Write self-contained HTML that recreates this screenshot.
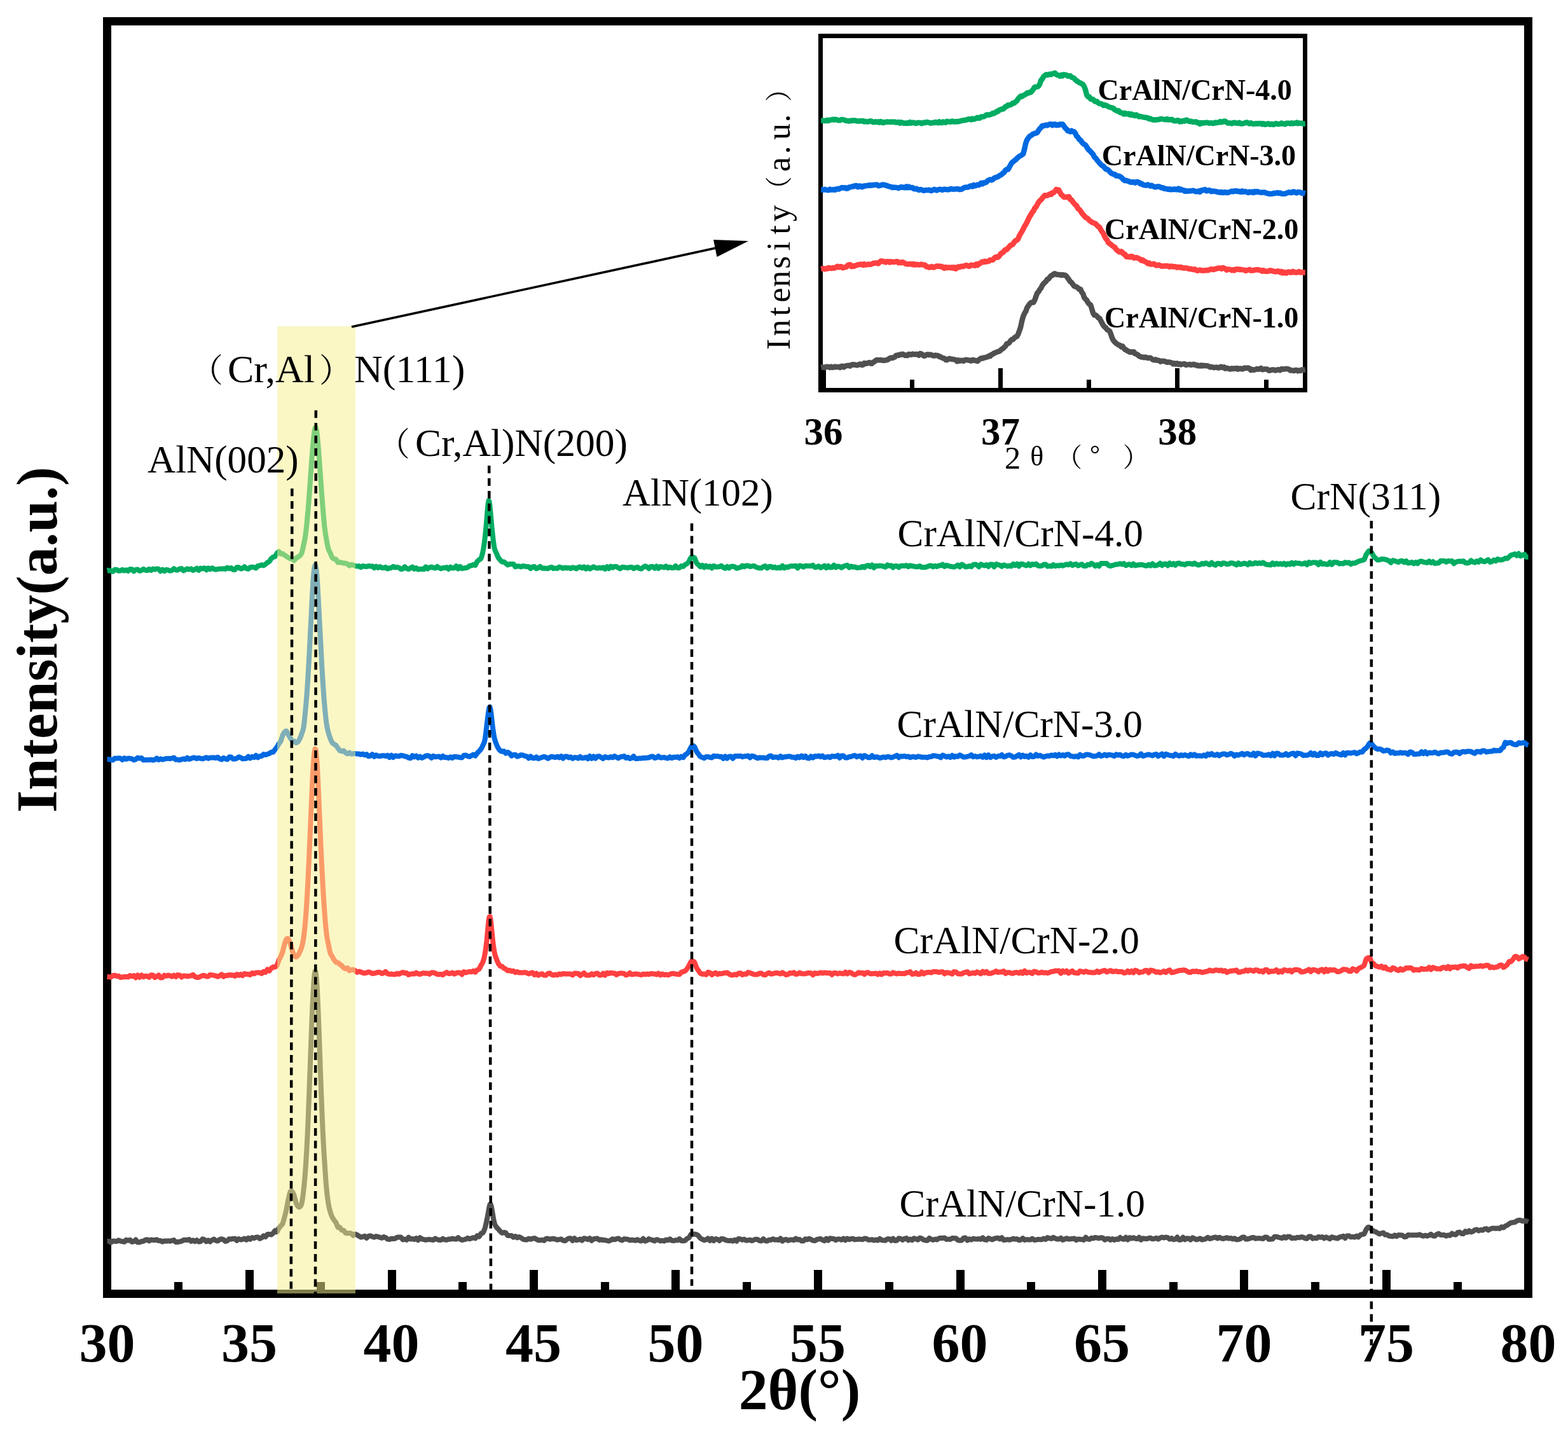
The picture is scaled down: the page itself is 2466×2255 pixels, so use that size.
<!DOCTYPE html>
<html lang="en"><head><meta charset="utf-8"><title>XRD patterns of CrAlN/CrN coatings</title>
<style>html,body{margin:0;padding:0;background:#fff}body{width:2466px;height:2255px;overflow:hidden}svg{display:block}</style>
</head><body>
<svg width="2466" height="2255" viewBox="0 0 2466 2255" role="img" aria-label="XRD patterns of CrAlN/CrN coatings">
<rect x="0" y="0" width="2466" height="2255" fill="#fff"/>
<g id="main-axes" fill="#000" stroke="none">
<path d="M162,27H2410V2041H162Z M175,40V2028H2397V40Z" fill-rule="evenodd"/>
<rect x="386" y="1997" width="13" height="32"/>
<rect x="610" y="1997" width="13" height="32"/>
<rect x="833" y="1997" width="13" height="32"/>
<rect x="1056" y="1997" width="13" height="32"/>
<rect x="1280" y="1997" width="13" height="32"/>
<rect x="1504" y="1997" width="13" height="32"/>
<rect x="1727" y="1997" width="13" height="32"/>
<rect x="1950" y="1997" width="13" height="32"/>
<rect x="2174" y="1997" width="13" height="32"/>
<rect x="274" y="2016" width="13" height="13"/>
<rect x="498" y="2016" width="13" height="13"/>
<rect x="721" y="2016" width="13" height="13"/>
<rect x="945" y="2016" width="13" height="13"/>
<rect x="1168" y="2016" width="13" height="13"/>
<rect x="1392" y="2016" width="13" height="13"/>
<rect x="1615" y="2016" width="13" height="13"/>
<rect x="1839" y="2016" width="13" height="13"/>
<rect x="2062" y="2016" width="13" height="13"/>
<rect x="2286" y="2016" width="13" height="13"/>
</g>
<g id="main-curves" fill="none" stroke-width="8" stroke-linejoin="round" stroke-linecap="butt">
<path d="M168.5,1951.8 169.5,1951.8 170.5,1951.8 171.5,1951.9 172.5,1952.4 173.5,1953.1 174.5,1953.6 175.5,1952.9 176.5,1952.3 177.5,1951.6 178.5,1951.6 179.5,1951.7 180.5,1951.8 181.5,1951.9 182.5,1952.0 183.5,1952.1 184.5,1951.5 185.5,1950.9 186.5,1950.3 187.5,1950.8 188.5,1951.2 189.5,1951.7 190.5,1951.9 191.5,1952.1 192.5,1952.2 193.5,1952.5 194.5,1952.7 195.5,1952.9 196.5,1951.9 197.5,1950.9 198.5,1949.8 199.5,1950.1 200.5,1950.4 201.5,1950.7 202.5,1950.4 203.5,1950.1 204.5,1949.8 205.5,1950.8 206.5,1951.9 207.5,1952.9 208.5,1952.7 209.5,1952.6 210.5,1952.4 211.5,1951.4 212.5,1950.5 213.5,1949.5 214.5,1950.9 215.5,1952.2 216.5,1953.6 217.5,1953.6 218.5,1953.6 219.5,1953.5 220.5,1953.1 221.5,1952.6 222.5,1952.1 223.5,1952.1 224.5,1952.0 225.5,1951.9 226.5,1951.3 227.5,1950.6 228.5,1949.9 229.5,1949.7 230.5,1949.5 231.5,1949.3 232.5,1950.0 233.5,1950.8 234.5,1951.5 235.5,1950.8 236.5,1950.1 237.5,1949.4 238.5,1949.6 239.5,1949.8 240.5,1950.0 241.5,1950.0 242.5,1950.1 243.5,1950.2 244.5,1949.9 245.5,1949.5 246.5,1949.2 247.5,1949.9 248.5,1950.5 249.5,1951.1 250.5,1951.1 251.5,1951.0 252.5,1951.0 253.5,1951.6 254.5,1952.2 255.5,1952.7 256.5,1952.3 257.5,1951.8 258.5,1951.3 259.5,1951.5 260.5,1951.6 261.5,1951.8 262.5,1951.6 263.5,1951.4 264.5,1951.2 265.5,1951.4 266.5,1951.6 267.5,1951.8 268.5,1951.5 269.5,1951.2 270.5,1950.9 271.5,1950.6 272.5,1950.4 273.5,1950.1 274.5,1951.2 275.5,1952.2 276.5,1953.2 277.5,1953.2 278.5,1953.2 279.5,1953.2 280.5,1953.0 281.5,1952.7 282.5,1952.5 283.5,1952.3 284.5,1952.1 285.5,1951.9 286.5,1951.3 287.5,1950.7 288.5,1950.1 289.5,1950.0 290.5,1949.9 291.5,1949.7 292.5,1949.8 293.5,1949.9 294.5,1950.0 295.5,1949.6 296.5,1949.3 297.5,1949.0 298.5,1950.0 299.5,1951.0 300.5,1952.0 301.5,1951.5 302.5,1950.9 303.5,1950.4 304.5,1951.0 305.5,1951.6 306.5,1952.3 307.5,1951.6 308.5,1950.9 309.5,1950.2 310.5,1951.1 311.5,1951.9 312.5,1952.7 313.5,1952.5 314.5,1952.4 315.5,1952.2 316.5,1950.9 317.5,1949.7 318.5,1948.4 319.5,1948.7 320.5,1949.0 321.5,1949.3 322.5,1950.3 323.5,1951.3 324.5,1952.3 325.5,1951.7 326.5,1951.0 327.5,1950.4 328.5,1951.1 329.5,1951.8 330.5,1952.6 331.5,1951.7 332.5,1950.8 333.5,1950.0 334.5,1949.5 335.5,1949.0 336.5,1948.5 337.5,1949.3 338.5,1950.1 339.5,1950.9 340.5,1951.1 341.5,1951.3 342.5,1951.5 343.5,1950.7 344.5,1950.0 345.5,1949.2 346.5,1948.9 347.5,1948.6 348.5,1948.3 349.5,1948.7 350.5,1949.0 351.5,1949.3 352.5,1950.2 353.5,1951.2 354.5,1952.1 355.5,1951.7 356.5,1951.4 357.5,1951.1 358.5,1950.1 359.5,1949.2 360.5,1948.2 361.5,1948.4 362.5,1948.5 363.5,1948.7 364.5,1948.4 365.5,1948.2 366.5,1947.9 367.5,1947.9 368.5,1947.8 369.5,1947.7 370.5,1948.7 371.5,1949.8 372.5,1950.8 373.5,1949.9 374.5,1948.9 375.5,1948.0 376.5,1948.5 377.5,1949.0 378.5,1949.5 379.5,1949.3 380.5,1949.1 381.5,1948.9 382.5,1948.4 383.5,1948.0 384.5,1947.5 385.5,1948.3 386.5,1949.0 387.5,1949.7 388.5,1948.8 389.5,1947.8 390.5,1946.8 391.5,1947.5 392.5,1948.1 393.5,1948.8 394.5,1947.9 395.5,1947.0 396.5,1946.1 397.5,1946.5 398.5,1946.8 399.5,1947.1 400.5,1946.6 401.5,1946.2 402.5,1945.7 403.5,1945.6 404.5,1945.5 405.5,1945.4 406.5,1946.2 407.5,1947.0 408.5,1947.8 409.5,1947.4 410.5,1946.9 411.5,1946.4 412.5,1945.4 413.5,1944.4 414.5,1943.4 415.5,1943.9 416.5,1944.5 417.5,1945.0 418.5,1943.7 419.5,1942.4 420.5,1941.1 421.5,1941.0 422.5,1940.9 423.5,1940.8 424.5,1941.1 425.5,1941.3 426.5,1941.6 427.5,1940.8 428.5,1940.0 429.5,1939.3 430.5,1938.0 431.5,1936.6 432.5,1935.3 433.5,1936.0 434.5,1936.7 435.5,1937.3 436.5,1935.4 437.5,1933.4 438.5,1931.3 439.5,1930.3 440.5,1929.2 441.5,1927.8 442.5,1926.9 443.5,1925.8 444.5,1924.3 445.5,1921.1 446.5,1917.6 447.5,1913.7 448.5,1910.0 449.5,1905.9 450.5,1901.4 451.5,1896.4 452.5,1891.3 453.5,1886.1 454.5,1881.6 455.5,1877.5 456.5,1874.3 457.5,1872.9 458.5,1872.8 459.5,1874.0 460.5,1875.1 461.5,1877.2 462.5,1879.8 463.5,1883.6 464.5,1887.5 465.5,1891.2 466.5,1893.6 467.5,1895.5 468.5,1896.8 469.5,1897.9 470.5,1898.2 471.5,1897.8 472.5,1897.0 473.5,1895.3 474.5,1892.5 475.5,1887.0 476.5,1880.0 477.5,1871.6 478.5,1862.3 479.5,1851.1 480.5,1837.9 481.5,1822.8 482.5,1805.6 483.5,1786.1 484.5,1763.2 485.5,1738.2 486.5,1711.7 487.5,1684.8 488.5,1657.3 489.5,1629.8 490.5,1604.5 491.5,1581.1 492.5,1560.9 493.5,1543.9 494.5,1532.5 495.5,1527.4 496.5,1528.4 497.5,1535.9 498.5,1549.4 499.5,1568.6 500.5,1591.4 501.5,1616.8 502.5,1644.5 503.5,1672.7 504.5,1700.5 505.5,1726.8 506.5,1751.7 507.5,1774.9 508.5,1794.7 509.5,1812.4 510.5,1828.0 511.5,1843.7 512.5,1857.5 513.5,1869.5 514.5,1878.7 515.5,1886.4 516.5,1893.0 517.5,1898.1 518.5,1902.4 519.5,1906.0 520.5,1909.1 521.5,1911.7 522.5,1914.0 523.5,1915.7 524.5,1917.2 525.5,1918.6 526.5,1920.1 527.5,1921.4 528.5,1922.7 529.5,1925.3 530.5,1927.9 531.5,1930.3 532.5,1930.3 533.5,1930.2 534.5,1930.1 535.5,1931.6 536.5,1933.1 537.5,1934.6 538.5,1934.6 539.5,1934.7 540.5,1934.7 541.5,1936.1 542.5,1937.5 543.5,1938.9 544.5,1939.0 545.5,1939.2 546.5,1939.3 547.5,1939.3 548.5,1939.2 549.5,1939.1 550.5,1939.3 551.5,1939.4 552.5,1939.6 553.5,1940.7 554.5,1941.7 555.5,1942.8 556.5,1942.0 557.5,1941.3 558.5,1940.5 559.5,1941.0 560.5,1941.4 561.5,1941.8 562.5,1942.5 563.5,1943.1 564.5,1943.8 565.5,1944.4 566.5,1944.9 567.5,1945.5 568.5,1945.3 569.5,1945.1 570.5,1944.8 571.5,1944.5 572.5,1944.1 573.5,1943.7 574.5,1944.7 575.5,1945.8 576.5,1946.8 577.5,1945.8 578.5,1944.9 579.5,1943.9 580.5,1943.7 581.5,1943.5 582.5,1943.3 583.5,1943.8 584.5,1944.2 585.5,1944.6 586.5,1945.0 587.5,1945.3 588.5,1945.6 589.5,1945.1 590.5,1944.6 591.5,1944.1 592.5,1944.3 593.5,1944.5 594.5,1944.8 595.5,1945.1 596.5,1945.4 597.5,1945.8 598.5,1946.1 599.5,1946.5 600.5,1946.8 601.5,1946.2 602.5,1945.6 603.5,1945.0 604.5,1945.4 605.5,1945.8 606.5,1946.1 607.5,1947.0 608.5,1947.8 609.5,1948.6 610.5,1948.7 611.5,1948.9 612.5,1949.1 613.5,1948.6 614.5,1948.2 615.5,1947.8 616.5,1947.8 617.5,1947.9 618.5,1948.0 619.5,1947.9 620.5,1947.8 621.5,1947.6 622.5,1947.0 623.5,1946.4 624.5,1945.8 625.5,1945.6 626.5,1945.5 627.5,1945.4 628.5,1945.4 629.5,1945.4 630.5,1945.4 631.5,1946.7 632.5,1948.1 633.5,1949.4 634.5,1949.1 635.5,1948.8 636.5,1948.6 637.5,1949.0 638.5,1949.4 639.5,1949.8 640.5,1948.4 641.5,1947.1 642.5,1945.7 643.5,1946.6 644.5,1947.6 645.5,1948.5 646.5,1948.3 647.5,1948.1 648.5,1947.9 649.5,1948.3 650.5,1948.6 651.5,1949.0 652.5,1948.4 653.5,1947.8 654.5,1947.2 655.5,1948.2 656.5,1949.2 657.5,1950.2 658.5,1948.9 659.5,1947.6 660.5,1946.2 661.5,1946.9 662.5,1947.6 663.5,1948.3 664.5,1948.6 665.5,1948.9 666.5,1949.2 667.5,1949.4 668.5,1949.7 669.5,1949.9 670.5,1949.7 671.5,1949.4 672.5,1949.2 673.5,1949.2 674.5,1949.1 675.5,1949.1 676.5,1949.2 677.5,1949.4 678.5,1949.5 679.5,1949.7 680.5,1949.9 681.5,1950.0 682.5,1949.2 683.5,1948.4 684.5,1947.6 685.5,1948.1 686.5,1948.6 687.5,1949.0 688.5,1949.4 689.5,1949.7 690.5,1950.0 691.5,1950.0 692.5,1949.9 693.5,1949.9 694.5,1949.2 695.5,1948.5 696.5,1947.9 697.5,1948.4 698.5,1949.0 699.5,1949.5 700.5,1949.6 701.5,1949.7 702.5,1949.8 703.5,1949.4 704.5,1949.0 705.5,1948.5 706.5,1948.6 707.5,1948.7 708.5,1948.7 709.5,1948.4 710.5,1948.0 711.5,1947.6 712.5,1947.9 713.5,1948.2 714.5,1948.5 715.5,1948.5 716.5,1948.5 717.5,1948.6 718.5,1947.8 719.5,1947.0 720.5,1946.2 721.5,1947.0 722.5,1947.8 723.5,1948.6 724.5,1949.1 725.5,1949.5 726.5,1950.0 727.5,1949.8 728.5,1949.6 729.5,1949.4 730.5,1949.2 731.5,1948.9 732.5,1948.6 733.5,1948.1 734.5,1947.5 735.5,1946.9 736.5,1947.4 737.5,1947.8 738.5,1948.2 739.5,1947.9 740.5,1947.6 741.5,1947.2 742.5,1946.9 743.5,1946.5 744.5,1946.1 745.5,1946.5 746.5,1946.9 747.5,1947.3 748.5,1945.9 749.5,1944.5 750.5,1943.1 751.5,1943.7 752.5,1944.2 753.5,1944.7 754.5,1943.1 755.5,1941.4 756.5,1939.5 757.5,1939.4 758.5,1939.1 759.5,1938.6 760.5,1936.8 761.5,1934.5 762.5,1931.8 763.5,1928.2 764.5,1924.0 765.5,1919.0 766.5,1914.3 767.5,1908.9 768.5,1903.4 769.5,1897.8 770.5,1894.1 771.5,1893.4 772.5,1896.2 773.5,1901.1 774.5,1907.0 775.5,1913.1 776.5,1918.7 777.5,1923.4 778.5,1926.0 779.5,1927.9 780.5,1929.2 781.5,1930.6 782.5,1931.6 783.5,1932.4 784.5,1933.7 785.5,1934.9 786.5,1935.9 787.5,1937.0 788.5,1938.0 789.5,1938.9 790.5,1938.6 791.5,1938.3 792.5,1937.9 793.5,1938.2 794.5,1938.5 795.5,1938.7 796.5,1940.2 797.5,1941.6 798.5,1943.0 799.5,1942.9 800.5,1942.9 801.5,1942.9 802.5,1942.9 803.5,1942.9 804.5,1942.9 805.5,1943.8 806.5,1944.8 807.5,1945.7 808.5,1945.2 809.5,1944.7 810.5,1944.1 811.5,1944.9 812.5,1945.6 813.5,1946.4 814.5,1945.9 815.5,1945.4 816.5,1945.0 817.5,1945.5 818.5,1946.0 819.5,1946.5 820.5,1947.2 821.5,1948.0 822.5,1948.6 823.5,1948.9 824.5,1949.2 825.5,1949.5 826.5,1949.5 827.5,1949.6 828.5,1949.6 829.5,1949.0 830.5,1948.3 831.5,1947.7 832.5,1948.0 833.5,1948.4 834.5,1948.7 835.5,1948.4 836.5,1948.1 837.5,1947.7 838.5,1947.5 839.5,1947.3 840.5,1947.0 841.5,1947.6 842.5,1948.1 843.5,1948.7 844.5,1949.2 845.5,1949.7 846.5,1950.3 847.5,1950.3 848.5,1950.3 849.5,1950.4 850.5,1950.2 851.5,1950.0 852.5,1949.8 853.5,1950.2 854.5,1950.5 855.5,1950.9 856.5,1949.9 857.5,1949.0 858.5,1948.0 859.5,1947.8 860.5,1947.7 861.5,1947.6 862.5,1948.0 863.5,1948.4 864.5,1948.8 865.5,1948.6 866.5,1948.3 867.5,1948.1 868.5,1948.0 869.5,1947.9 870.5,1947.8 871.5,1948.1 872.5,1948.4 873.5,1948.7 874.5,1949.1 875.5,1949.4 876.5,1949.7 877.5,1949.5 878.5,1949.3 879.5,1949.1 880.5,1948.9 881.5,1948.6 882.5,1948.4 883.5,1949.2 884.5,1949.9 885.5,1950.7 886.5,1950.9 887.5,1951.1 888.5,1951.3 889.5,1950.6 890.5,1949.8 891.5,1949.0 892.5,1948.5 893.5,1947.9 894.5,1947.4 895.5,1947.3 896.5,1947.3 897.5,1947.2 898.5,1948.5 899.5,1949.7 900.5,1950.9 901.5,1949.7 902.5,1948.5 903.5,1947.3 904.5,1948.3 905.5,1949.3 906.5,1950.2 907.5,1950.0 908.5,1949.8 909.5,1949.6 910.5,1949.3 911.5,1948.9 912.5,1948.5 913.5,1949.2 914.5,1949.9 915.5,1950.6 916.5,1949.5 917.5,1948.4 918.5,1947.3 919.5,1947.4 920.5,1947.6 921.5,1947.8 922.5,1948.3 923.5,1948.7 924.5,1949.2 925.5,1948.6 926.5,1948.0 927.5,1947.3 928.5,1948.5 929.5,1949.7 930.5,1950.9 931.5,1950.0 932.5,1949.1 933.5,1948.3 934.5,1948.1 935.5,1948.0 936.5,1947.9 937.5,1947.7 938.5,1947.6 939.5,1947.5 940.5,1948.3 941.5,1949.2 942.5,1950.0 943.5,1949.8 944.5,1949.5 945.5,1949.2 946.5,1949.5 947.5,1949.8 948.5,1950.1 949.5,1950.1 950.5,1950.1 951.5,1950.2 952.5,1950.4 953.5,1950.6 954.5,1950.9 955.5,1951.1 956.5,1951.3 957.5,1951.5 958.5,1951.1 959.5,1950.7 960.5,1950.3 961.5,1949.6 962.5,1948.9 963.5,1948.2 964.5,1948.6 965.5,1949.0 966.5,1949.4 967.5,1949.0 968.5,1948.6 969.5,1948.1 970.5,1947.9 971.5,1947.7 972.5,1947.4 973.5,1948.1 974.5,1948.8 975.5,1949.5 976.5,1949.8 977.5,1950.2 978.5,1950.5 979.5,1949.7 980.5,1949.0 981.5,1948.2 982.5,1948.3 983.5,1948.5 984.5,1948.6 985.5,1948.7 986.5,1948.8 987.5,1948.9 988.5,1949.4 989.5,1950.0 990.5,1950.5 991.5,1950.2 992.5,1950.0 993.5,1949.7 994.5,1949.9 995.5,1950.0 996.5,1950.1 997.5,1950.3 998.5,1950.6 999.5,1950.8 1000.5,1950.2 1001.5,1949.7 1002.5,1949.2 1003.5,1949.8 1004.5,1950.3 1005.5,1950.9 1006.5,1951.1 1007.5,1951.3 1008.5,1951.4 1009.5,1950.2 1010.5,1949.0 1011.5,1947.8 1012.5,1949.1 1013.5,1950.3 1014.5,1951.6 1015.5,1951.3 1016.5,1951.0 1017.5,1950.7 1018.5,1949.8 1019.5,1948.9 1020.5,1948.0 1021.5,1948.5 1022.5,1949.0 1023.5,1949.5 1024.5,1949.7 1025.5,1950.0 1026.5,1950.2 1027.5,1950.7 1028.5,1951.1 1029.5,1951.5 1030.5,1950.7 1031.5,1949.9 1032.5,1949.2 1033.5,1949.4 1034.5,1949.7 1035.5,1950.0 1036.5,1950.5 1037.5,1950.9 1038.5,1951.4 1039.5,1951.2 1040.5,1951.1 1041.5,1951.0 1042.5,1951.2 1043.5,1951.4 1044.5,1951.6 1045.5,1950.9 1046.5,1950.2 1047.5,1949.5 1048.5,1949.8 1049.5,1950.1 1050.5,1950.3 1051.5,1949.7 1052.5,1949.0 1053.5,1948.4 1054.5,1949.1 1055.5,1949.9 1056.5,1950.6 1057.5,1950.8 1058.5,1950.9 1059.5,1951.0 1060.5,1950.8 1061.5,1950.5 1062.5,1950.2 1063.5,1950.3 1064.5,1950.4 1065.5,1950.5 1066.5,1949.7 1067.5,1949.0 1068.5,1948.2 1069.5,1949.2 1070.5,1950.2 1071.5,1951.1 1072.5,1951.2 1073.5,1951.2 1074.5,1951.3 1075.5,1951.1 1076.5,1951.0 1077.5,1950.7 1078.5,1949.8 1079.5,1948.7 1080.5,1947.6 1081.5,1947.4 1082.5,1947.0 1083.5,1946.5 1084.5,1944.9 1085.5,1943.1 1086.5,1941.3 1087.5,1941.2 1088.5,1941.1 1089.5,1941.2 1090.5,1940.7 1091.5,1940.6 1092.5,1940.8 1093.5,1940.8 1094.5,1941.0 1095.5,1941.3 1096.5,1942.0 1097.5,1942.6 1098.5,1943.3 1099.5,1944.7 1100.5,1946.0 1101.5,1947.1 1102.5,1947.8 1103.5,1948.4 1104.5,1948.8 1105.5,1949.4 1106.5,1949.9 1107.5,1950.3 1108.5,1950.0 1109.5,1949.7 1110.5,1949.3 1111.5,1948.7 1112.5,1948.1 1113.5,1947.4 1114.5,1948.6 1115.5,1949.8 1116.5,1950.9 1117.5,1949.9 1118.5,1948.8 1119.5,1947.7 1120.5,1948.8 1121.5,1949.9 1122.5,1951.0 1123.5,1950.1 1124.5,1949.2 1125.5,1948.2 1126.5,1948.5 1127.5,1948.7 1128.5,1949.0 1129.5,1949.6 1130.5,1950.3 1131.5,1951.0 1132.5,1950.0 1133.5,1949.1 1134.5,1948.1 1135.5,1948.1 1136.5,1948.2 1137.5,1948.2 1138.5,1948.7 1139.5,1949.2 1140.5,1949.8 1141.5,1950.1 1142.5,1950.4 1143.5,1950.7 1144.5,1950.9 1145.5,1951.0 1146.5,1951.2 1147.5,1951.0 1148.5,1950.8 1149.5,1950.5 1150.5,1950.9 1151.5,1951.3 1152.5,1951.7 1153.5,1951.0 1154.5,1950.3 1155.5,1949.7 1156.5,1950.3 1157.5,1951.0 1158.5,1951.7 1159.5,1950.4 1160.5,1949.1 1161.5,1947.9 1162.5,1948.1 1163.5,1948.3 1164.5,1948.5 1165.5,1948.9 1166.5,1949.3 1167.5,1949.8 1168.5,1949.4 1169.5,1949.1 1170.5,1948.7 1171.5,1949.4 1172.5,1950.0 1173.5,1950.7 1174.5,1950.5 1175.5,1950.4 1176.5,1950.3 1177.5,1950.1 1178.5,1949.9 1179.5,1949.7 1180.5,1950.2 1181.5,1950.7 1182.5,1951.2 1183.5,1950.7 1184.5,1950.3 1185.5,1949.9 1186.5,1949.5 1187.5,1949.2 1188.5,1948.8 1189.5,1948.9 1190.5,1949.0 1191.5,1949.1 1192.5,1949.8 1193.5,1950.5 1194.5,1951.1 1195.5,1951.2 1196.5,1951.3 1197.5,1951.4 1198.5,1950.3 1199.5,1949.3 1200.5,1948.3 1201.5,1949.2 1202.5,1950.2 1203.5,1951.1 1204.5,1951.3 1205.5,1951.5 1206.5,1951.6 1207.5,1951.0 1208.5,1950.3 1209.5,1949.7 1210.5,1949.7 1211.5,1949.8 1212.5,1949.9 1213.5,1949.3 1214.5,1948.8 1215.5,1948.2 1216.5,1948.7 1217.5,1949.2 1218.5,1949.7 1219.5,1949.6 1220.5,1949.6 1221.5,1949.5 1222.5,1949.7 1223.5,1949.8 1224.5,1950.0 1225.5,1949.1 1226.5,1948.3 1227.5,1947.4 1228.5,1948.8 1229.5,1950.2 1230.5,1951.6 1231.5,1950.9 1232.5,1950.2 1233.5,1949.6 1234.5,1949.4 1235.5,1949.2 1236.5,1949.0 1237.5,1949.6 1238.5,1950.2 1239.5,1950.8 1240.5,1950.4 1241.5,1950.1 1242.5,1949.7 1243.5,1949.6 1244.5,1949.5 1245.5,1949.4 1246.5,1949.7 1247.5,1950.0 1248.5,1950.3 1249.5,1949.4 1250.5,1948.4 1251.5,1947.5 1252.5,1948.2 1253.5,1948.9 1254.5,1949.6 1255.5,1949.4 1256.5,1949.2 1257.5,1949.0 1258.5,1949.8 1259.5,1950.6 1260.5,1951.4 1261.5,1951.4 1262.5,1951.3 1263.5,1951.3 1264.5,1950.3 1265.5,1949.3 1266.5,1948.4 1267.5,1948.7 1268.5,1949.0 1269.5,1949.3 1270.5,1948.8 1271.5,1948.2 1272.5,1947.7 1273.5,1948.2 1274.5,1948.6 1275.5,1949.1 1276.5,1949.6 1277.5,1950.2 1278.5,1950.7 1279.5,1950.9 1280.5,1951.0 1281.5,1951.1 1282.5,1950.5 1283.5,1949.9 1284.5,1949.2 1285.5,1949.0 1286.5,1948.8 1287.5,1948.5 1288.5,1948.3 1289.5,1948.1 1290.5,1948.0 1291.5,1948.6 1292.5,1949.2 1293.5,1949.8 1294.5,1950.3 1295.5,1950.7 1296.5,1951.2 1297.5,1950.0 1298.5,1948.8 1299.5,1947.7 1300.5,1948.6 1301.5,1949.6 1302.5,1950.5 1303.5,1949.4 1304.5,1948.3 1305.5,1947.2 1306.5,1947.4 1307.5,1947.7 1308.5,1947.9 1309.5,1948.0 1310.5,1948.0 1311.5,1948.0 1312.5,1948.7 1313.5,1949.4 1314.5,1950.1 1315.5,1949.5 1316.5,1949.0 1317.5,1948.4 1318.5,1948.5 1319.5,1948.5 1320.5,1948.6 1321.5,1949.0 1322.5,1949.4 1323.5,1949.7 1324.5,1949.0 1325.5,1948.2 1326.5,1947.5 1327.5,1948.4 1328.5,1949.3 1329.5,1950.2 1330.5,1949.3 1331.5,1948.4 1332.5,1947.5 1333.5,1948.1 1334.5,1948.7 1335.5,1949.2 1336.5,1948.8 1337.5,1948.5 1338.5,1948.1 1339.5,1948.0 1340.5,1947.9 1341.5,1947.8 1342.5,1948.3 1343.5,1948.8 1344.5,1949.3 1345.5,1949.1 1346.5,1949.0 1347.5,1948.9 1348.5,1948.8 1349.5,1948.7 1350.5,1948.6 1351.5,1948.6 1352.5,1948.7 1353.5,1948.7 1354.5,1948.9 1355.5,1949.1 1356.5,1949.2 1357.5,1948.7 1358.5,1948.1 1359.5,1947.6 1360.5,1947.7 1361.5,1947.7 1362.5,1947.8 1363.5,1948.4 1364.5,1949.0 1365.5,1949.7 1366.5,1949.7 1367.5,1949.7 1368.5,1949.7 1369.5,1949.5 1370.5,1949.4 1371.5,1949.2 1372.5,1949.7 1373.5,1950.1 1374.5,1950.6 1375.5,1950.2 1376.5,1949.9 1377.5,1949.5 1378.5,1949.9 1379.5,1950.2 1380.5,1950.6 1381.5,1949.7 1382.5,1948.8 1383.5,1947.8 1384.5,1948.6 1385.5,1949.3 1386.5,1950.1 1387.5,1950.2 1388.5,1950.3 1389.5,1950.4 1390.5,1950.5 1391.5,1950.6 1392.5,1950.8 1393.5,1949.9 1394.5,1949.0 1395.5,1948.2 1396.5,1948.2 1397.5,1948.2 1398.5,1948.2 1399.5,1949.0 1400.5,1949.9 1401.5,1950.8 1402.5,1949.8 1403.5,1948.7 1404.5,1947.7 1405.5,1948.8 1406.5,1950.0 1407.5,1951.1 1408.5,1951.0 1409.5,1950.8 1410.5,1950.6 1411.5,1949.5 1412.5,1948.4 1413.5,1947.3 1414.5,1947.5 1415.5,1947.6 1416.5,1947.8 1417.5,1948.5 1418.5,1949.2 1419.5,1949.9 1420.5,1949.2 1421.5,1948.5 1422.5,1947.8 1423.5,1947.6 1424.5,1947.3 1425.5,1947.1 1426.5,1948.2 1427.5,1949.2 1428.5,1950.3 1429.5,1949.7 1430.5,1949.1 1431.5,1948.5 1432.5,1949.0 1433.5,1949.6 1434.5,1950.1 1435.5,1949.1 1436.5,1948.2 1437.5,1947.2 1438.5,1947.6 1439.5,1948.0 1440.5,1948.4 1441.5,1948.8 1442.5,1949.2 1443.5,1949.6 1444.5,1948.6 1445.5,1947.7 1446.5,1946.7 1447.5,1946.9 1448.5,1947.2 1449.5,1947.5 1450.5,1948.2 1451.5,1948.9 1452.5,1949.6 1453.5,1949.9 1454.5,1950.2 1455.5,1950.6 1456.5,1950.6 1457.5,1950.7 1458.5,1950.8 1459.5,1949.6 1460.5,1948.3 1461.5,1947.0 1462.5,1947.6 1463.5,1948.2 1464.5,1948.7 1465.5,1949.1 1466.5,1949.5 1467.5,1949.8 1468.5,1949.5 1469.5,1949.1 1470.5,1948.7 1471.5,1949.0 1472.5,1949.2 1473.5,1949.5 1474.5,1948.8 1475.5,1948.0 1476.5,1947.3 1477.5,1947.1 1478.5,1947.0 1479.5,1946.8 1480.5,1946.8 1481.5,1946.9 1482.5,1946.9 1483.5,1946.8 1484.5,1946.7 1485.5,1946.6 1486.5,1947.4 1487.5,1948.1 1488.5,1948.9 1489.5,1948.8 1490.5,1948.7 1491.5,1948.7 1492.5,1948.8 1493.5,1948.8 1494.5,1948.9 1495.5,1948.3 1496.5,1947.7 1497.5,1947.0 1498.5,1947.1 1499.5,1947.1 1500.5,1947.2 1501.5,1947.2 1502.5,1947.2 1503.5,1947.3 1504.5,1948.2 1505.5,1949.1 1506.5,1950.1 1507.5,1950.3 1508.5,1950.5 1509.5,1950.7 1510.5,1950.6 1511.5,1950.5 1512.5,1950.4 1513.5,1949.2 1514.5,1948.0 1515.5,1946.7 1516.5,1946.7 1517.5,1946.6 1518.5,1946.6 1519.5,1947.9 1520.5,1949.2 1521.5,1950.5 1522.5,1949.8 1523.5,1949.0 1524.5,1948.3 1525.5,1948.8 1526.5,1949.2 1527.5,1949.6 1528.5,1949.0 1529.5,1948.4 1530.5,1947.7 1531.5,1947.9 1532.5,1948.1 1533.5,1948.3 1534.5,1948.4 1535.5,1948.4 1536.5,1948.5 1537.5,1948.4 1538.5,1948.3 1539.5,1948.1 1540.5,1948.4 1541.5,1948.6 1542.5,1948.9 1543.5,1948.0 1544.5,1947.1 1545.5,1946.3 1546.5,1947.3 1547.5,1948.3 1548.5,1949.3 1549.5,1949.5 1550.5,1949.7 1551.5,1949.9 1552.5,1948.9 1553.5,1948.0 1554.5,1947.0 1555.5,1947.4 1556.5,1947.8 1557.5,1948.2 1558.5,1948.6 1559.5,1949.0 1560.5,1949.4 1561.5,1948.9 1562.5,1948.4 1563.5,1947.9 1564.5,1947.6 1565.5,1947.3 1566.5,1947.0 1567.5,1946.9 1568.5,1946.9 1569.5,1946.8 1570.5,1947.4 1571.5,1947.9 1572.5,1948.4 1573.5,1947.6 1574.5,1946.9 1575.5,1946.2 1576.5,1947.5 1577.5,1948.7 1578.5,1950.0 1579.5,1949.9 1580.5,1949.7 1581.5,1949.6 1582.5,1949.5 1583.5,1949.3 1584.5,1949.2 1585.5,1949.4 1586.5,1949.6 1587.5,1949.8 1588.5,1949.5 1589.5,1949.2 1590.5,1948.8 1591.5,1948.5 1592.5,1948.1 1593.5,1947.8 1594.5,1948.1 1595.5,1948.4 1596.5,1948.7 1597.5,1948.5 1598.5,1948.4 1599.5,1948.2 1600.5,1948.9 1601.5,1949.6 1602.5,1950.3 1603.5,1950.1 1604.5,1949.8 1605.5,1949.5 1606.5,1948.7 1607.5,1947.9 1608.5,1947.1 1609.5,1948.1 1610.5,1949.0 1611.5,1950.0 1612.5,1949.7 1613.5,1949.5 1614.5,1949.2 1615.5,1949.3 1616.5,1949.3 1617.5,1949.4 1618.5,1949.4 1619.5,1949.5 1620.5,1949.5 1621.5,1948.9 1622.5,1948.3 1623.5,1947.7 1624.5,1948.4 1625.5,1949.1 1626.5,1949.9 1627.5,1949.8 1628.5,1949.8 1629.5,1949.8 1630.5,1949.5 1631.5,1949.2 1632.5,1948.9 1633.5,1949.0 1634.5,1949.1 1635.5,1949.2 1636.5,1949.2 1637.5,1949.2 1638.5,1949.2 1639.5,1948.7 1640.5,1948.2 1641.5,1947.6 1642.5,1948.1 1643.5,1948.6 1644.5,1949.0 1645.5,1948.1 1646.5,1947.1 1647.5,1946.1 1648.5,1946.5 1649.5,1946.9 1650.5,1947.3 1651.5,1947.5 1652.5,1947.7 1653.5,1947.9 1654.5,1947.2 1655.5,1946.5 1656.5,1945.8 1657.5,1946.3 1658.5,1946.8 1659.5,1947.3 1660.5,1947.8 1661.5,1948.2 1662.5,1948.6 1663.5,1948.6 1664.5,1948.5 1665.5,1948.5 1666.5,1947.9 1667.5,1947.4 1668.5,1946.8 1669.5,1947.8 1670.5,1948.9 1671.5,1949.9 1672.5,1949.5 1673.5,1949.1 1674.5,1948.7 1675.5,1948.2 1676.5,1947.7 1677.5,1947.2 1678.5,1947.7 1679.5,1948.2 1680.5,1948.6 1681.5,1948.5 1682.5,1948.4 1683.5,1948.2 1684.5,1948.2 1685.5,1948.1 1686.5,1948.1 1687.5,1947.9 1688.5,1947.6 1689.5,1947.4 1690.5,1948.3 1691.5,1949.2 1692.5,1950.1 1693.5,1949.6 1694.5,1949.1 1695.5,1948.5 1696.5,1948.6 1697.5,1948.7 1698.5,1948.8 1699.5,1948.9 1700.5,1949.0 1701.5,1949.0 1702.5,1949.4 1703.5,1949.7 1704.5,1950.0 1705.5,1948.6 1706.5,1947.2 1707.5,1945.8 1708.5,1946.6 1709.5,1947.5 1710.5,1948.4 1711.5,1948.6 1712.5,1948.7 1713.5,1948.9 1714.5,1948.2 1715.5,1947.5 1716.5,1946.8 1717.5,1947.0 1718.5,1947.2 1719.5,1947.4 1720.5,1946.9 1721.5,1946.4 1722.5,1945.9 1723.5,1946.1 1724.5,1946.3 1725.5,1946.5 1726.5,1946.8 1727.5,1947.0 1728.5,1947.3 1729.5,1946.9 1730.5,1946.5 1731.5,1946.1 1732.5,1946.3 1733.5,1946.5 1734.5,1946.7 1735.5,1947.7 1736.5,1948.6 1737.5,1949.6 1738.5,1949.1 1739.5,1948.6 1740.5,1948.0 1741.5,1948.0 1742.5,1947.9 1743.5,1947.8 1744.5,1948.5 1745.5,1949.2 1746.5,1949.9 1747.5,1949.3 1748.5,1948.7 1749.5,1948.1 1750.5,1948.7 1751.5,1949.3 1752.5,1950.0 1753.5,1949.4 1754.5,1948.9 1755.5,1948.4 1756.5,1948.6 1757.5,1948.9 1758.5,1949.1 1759.5,1948.1 1760.5,1947.0 1761.5,1945.9 1762.5,1946.7 1763.5,1947.4 1764.5,1948.2 1765.5,1948.4 1766.5,1948.7 1767.5,1948.9 1768.5,1947.8 1769.5,1946.8 1770.5,1945.7 1771.5,1947.0 1772.5,1948.3 1773.5,1949.6 1774.5,1948.5 1775.5,1947.4 1776.5,1946.2 1777.5,1946.7 1778.5,1947.2 1779.5,1947.6 1780.5,1947.2 1781.5,1946.7 1782.5,1946.3 1783.5,1946.7 1784.5,1947.2 1785.5,1947.7 1786.5,1947.9 1787.5,1948.0 1788.5,1948.2 1789.5,1947.4 1790.5,1946.6 1791.5,1945.8 1792.5,1947.1 1793.5,1948.4 1794.5,1949.7 1795.5,1948.9 1796.5,1948.1 1797.5,1947.3 1798.5,1947.5 1799.5,1947.7 1800.5,1947.8 1801.5,1947.9 1802.5,1948.0 1803.5,1948.1 1804.5,1947.8 1805.5,1947.4 1806.5,1947.1 1807.5,1947.0 1808.5,1946.8 1809.5,1946.7 1810.5,1947.3 1811.5,1947.8 1812.5,1948.3 1813.5,1948.2 1814.5,1948.1 1815.5,1947.9 1816.5,1947.5 1817.5,1947.1 1818.5,1946.7 1819.5,1947.3 1820.5,1948.0 1821.5,1948.6 1822.5,1948.0 1823.5,1947.4 1824.5,1946.7 1825.5,1946.3 1826.5,1945.9 1827.5,1945.5 1828.5,1945.8 1829.5,1946.2 1830.5,1946.5 1831.5,1946.2 1832.5,1945.9 1833.5,1945.6 1834.5,1945.8 1835.5,1945.9 1836.5,1946.1 1837.5,1947.0 1838.5,1947.9 1839.5,1948.7 1840.5,1948.2 1841.5,1947.7 1842.5,1947.1 1843.5,1947.9 1844.5,1948.6 1845.5,1949.3 1846.5,1949.1 1847.5,1948.9 1848.5,1948.7 1849.5,1947.7 1850.5,1946.6 1851.5,1945.6 1852.5,1947.0 1853.5,1948.4 1854.5,1949.7 1855.5,1949.7 1856.5,1949.6 1857.5,1949.5 1858.5,1948.2 1859.5,1947.0 1860.5,1945.7 1861.5,1946.9 1862.5,1948.1 1863.5,1949.3 1864.5,1948.6 1865.5,1947.9 1866.5,1947.2 1867.5,1947.3 1868.5,1947.4 1869.5,1947.4 1870.5,1948.2 1871.5,1948.9 1872.5,1949.6 1873.5,1948.5 1874.5,1947.5 1875.5,1946.4 1876.5,1946.8 1877.5,1947.2 1878.5,1947.6 1879.5,1948.2 1880.5,1948.8 1881.5,1949.4 1882.5,1949.1 1883.5,1948.8 1884.5,1948.5 1885.5,1948.1 1886.5,1947.7 1887.5,1947.4 1888.5,1948.1 1889.5,1948.9 1890.5,1949.6 1891.5,1949.4 1892.5,1949.1 1893.5,1948.9 1894.5,1948.6 1895.5,1948.3 1896.5,1947.9 1897.5,1947.2 1898.5,1946.5 1899.5,1945.8 1900.5,1946.5 1901.5,1947.3 1902.5,1948.0 1903.5,1947.8 1904.5,1947.5 1905.5,1947.2 1906.5,1946.9 1907.5,1946.5 1908.5,1946.1 1909.5,1945.9 1910.5,1945.7 1911.5,1945.4 1912.5,1946.1 1913.5,1946.8 1914.5,1947.5 1915.5,1946.9 1916.5,1946.3 1917.5,1945.7 1918.5,1946.2 1919.5,1946.6 1920.5,1947.1 1921.5,1947.4 1922.5,1947.7 1923.5,1948.0 1924.5,1947.7 1925.5,1947.4 1926.5,1947.1 1927.5,1946.8 1928.5,1946.5 1929.5,1946.2 1930.5,1946.7 1931.5,1947.1 1932.5,1947.6 1933.5,1947.4 1934.5,1947.1 1935.5,1946.9 1936.5,1947.4 1937.5,1947.9 1938.5,1948.4 1939.5,1948.0 1940.5,1947.7 1941.5,1947.3 1942.5,1948.0 1943.5,1948.7 1944.5,1949.3 1945.5,1949.3 1946.5,1949.2 1947.5,1949.1 1948.5,1948.8 1949.5,1948.5 1950.5,1948.1 1951.5,1947.4 1952.5,1946.7 1953.5,1945.9 1954.5,1945.7 1955.5,1945.5 1956.5,1945.4 1957.5,1946.5 1958.5,1947.6 1959.5,1948.8 1960.5,1948.6 1961.5,1948.4 1962.5,1948.3 1963.5,1948.0 1964.5,1947.8 1965.5,1947.5 1966.5,1947.1 1967.5,1946.7 1968.5,1946.3 1969.5,1946.2 1970.5,1946.1 1971.5,1945.9 1972.5,1946.5 1973.5,1947.1 1974.5,1947.7 1975.5,1947.5 1976.5,1947.4 1977.5,1947.2 1978.5,1947.2 1979.5,1947.2 1980.5,1947.3 1981.5,1947.3 1982.5,1947.4 1983.5,1947.4 1984.5,1947.6 1985.5,1947.8 1986.5,1947.9 1987.5,1947.1 1988.5,1946.3 1989.5,1945.4 1990.5,1945.5 1991.5,1945.6 1992.5,1945.7 1993.5,1946.7 1994.5,1947.8 1995.5,1948.9 1996.5,1948.8 1997.5,1948.7 1998.5,1948.6 1999.5,1948.5 2000.5,1948.4 2001.5,1948.4 2002.5,1947.1 2003.5,1945.9 2004.5,1944.7 2005.5,1944.7 2006.5,1944.7 2007.5,1944.7 2008.5,1945.0 2009.5,1945.3 2010.5,1945.6 2011.5,1945.9 2012.5,1946.1 2013.5,1946.3 2014.5,1946.6 2015.5,1946.9 2016.5,1947.1 2017.5,1946.4 2018.5,1945.6 2019.5,1944.8 2020.5,1945.5 2021.5,1946.1 2022.5,1946.7 2023.5,1946.0 2024.5,1945.3 2025.5,1944.6 2026.5,1944.7 2027.5,1944.7 2028.5,1944.7 2029.5,1945.5 2030.5,1946.4 2031.5,1947.3 2032.5,1947.1 2033.5,1946.9 2034.5,1946.7 2035.5,1946.8 2036.5,1946.9 2037.5,1947.0 2038.5,1946.6 2039.5,1946.2 2040.5,1945.8 2041.5,1946.0 2042.5,1946.1 2043.5,1946.3 2044.5,1945.9 2045.5,1945.5 2046.5,1945.1 2047.5,1945.3 2048.5,1945.5 2049.5,1945.6 2050.5,1946.2 2051.5,1946.8 2052.5,1947.4 2053.5,1947.5 2054.5,1947.6 2055.5,1947.8 2056.5,1946.6 2057.5,1945.5 2058.5,1944.4 2059.5,1944.4 2060.5,1944.5 2061.5,1944.6 2062.5,1945.6 2063.5,1946.6 2064.5,1947.6 2065.5,1947.3 2066.5,1947.0 2067.5,1946.7 2068.5,1946.9 2069.5,1947.1 2070.5,1947.3 2071.5,1946.5 2072.5,1945.7 2073.5,1944.9 2074.5,1945.2 2075.5,1945.5 2076.5,1945.8 2077.5,1945.5 2078.5,1945.3 2079.5,1945.0 2080.5,1945.8 2081.5,1946.6 2082.5,1947.4 2083.5,1946.8 2084.5,1946.1 2085.5,1945.4 2086.5,1945.9 2087.5,1946.3 2088.5,1946.7 2089.5,1947.1 2090.5,1947.6 2091.5,1948.1 2092.5,1947.1 2093.5,1946.1 2094.5,1945.2 2095.5,1945.5 2096.5,1945.8 2097.5,1946.1 2098.5,1946.4 2099.5,1946.7 2100.5,1946.9 2101.5,1947.2 2102.5,1947.4 2103.5,1947.6 2104.5,1946.9 2105.5,1946.1 2106.5,1945.4 2107.5,1945.2 2108.5,1945.1 2109.5,1945.0 2110.5,1944.6 2111.5,1944.1 2112.5,1943.7 2113.5,1944.8 2114.5,1945.9 2115.5,1947.0 2116.5,1945.8 2117.5,1944.6 2118.5,1943.4 2119.5,1943.4 2120.5,1943.4 2121.5,1943.3 2122.5,1944.0 2123.5,1944.7 2124.5,1945.3 2125.5,1945.1 2126.5,1945.0 2127.5,1944.8 2128.5,1945.0 2129.5,1945.3 2130.5,1945.5 2131.5,1944.9 2132.5,1944.2 2133.5,1943.6 2134.5,1944.2 2135.5,1944.8 2136.5,1945.3 2137.5,1944.1 2138.5,1942.9 2139.5,1941.7 2140.5,1941.6 2141.5,1941.4 2142.5,1941.0 2143.5,1941.0 2144.5,1940.8 2145.5,1940.4 2146.5,1938.3 2147.5,1935.9 2148.5,1933.5 2149.5,1932.2 2150.5,1930.9 2151.5,1929.9 2152.5,1929.7 2153.5,1930.0 2154.5,1930.9 2155.5,1931.7 2156.5,1932.8 2157.5,1934.0 2158.5,1934.7 2159.5,1935.3 2160.5,1935.7 2161.5,1936.3 2162.5,1936.8 2163.5,1937.0 2164.5,1937.7 2165.5,1938.3 2166.5,1938.7 2167.5,1939.4 2168.5,1940.0 2169.5,1940.6 2170.5,1940.2 2171.5,1939.7 2172.5,1939.3 2173.5,1939.1 2174.5,1938.8 2175.5,1938.6 2176.5,1939.6 2177.5,1940.6 2178.5,1941.7 2179.5,1941.6 2180.5,1941.6 2181.5,1941.5 2182.5,1942.2 2183.5,1942.9 2184.5,1943.6 2185.5,1943.7 2186.5,1943.9 2187.5,1944.1 2188.5,1944.1 2189.5,1944.2 2190.5,1944.3 2191.5,1943.7 2192.5,1943.1 2193.5,1942.4 2194.5,1943.0 2195.5,1943.6 2196.5,1944.2 2197.5,1943.5 2198.5,1942.8 2199.5,1942.1 2200.5,1942.2 2201.5,1942.2 2202.5,1942.2 2203.5,1942.4 2204.5,1942.5 2205.5,1942.6 2206.5,1943.4 2207.5,1944.2 2208.5,1945.0 2209.5,1944.9 2210.5,1944.8 2211.5,1944.7 2212.5,1943.8 2213.5,1942.8 2214.5,1941.9 2215.5,1942.0 2216.5,1942.2 2217.5,1942.3 2218.5,1942.3 2219.5,1942.3 2220.5,1942.3 2221.5,1942.2 2222.5,1942.2 2223.5,1942.2 2224.5,1942.2 2225.5,1942.3 2226.5,1942.3 2227.5,1942.3 2228.5,1942.2 2229.5,1942.2 2230.5,1941.9 2231.5,1941.6 2232.5,1941.3 2233.5,1941.8 2234.5,1942.3 2235.5,1942.8 2236.5,1943.2 2237.5,1943.5 2238.5,1943.8 2239.5,1943.4 2240.5,1943.0 2241.5,1942.6 2242.5,1943.0 2243.5,1943.4 2244.5,1943.8 2245.5,1943.4 2246.5,1943.0 2247.5,1942.6 2248.5,1942.0 2249.5,1941.4 2250.5,1940.8 2251.5,1941.6 2252.5,1942.5 2253.5,1943.3 2254.5,1943.5 2255.5,1943.6 2256.5,1943.8 2257.5,1942.9 2258.5,1942.0 2259.5,1941.1 2260.5,1940.7 2261.5,1940.3 2262.5,1939.9 2263.5,1940.6 2264.5,1941.3 2265.5,1942.0 2266.5,1942.0 2267.5,1942.0 2268.5,1942.0 2269.5,1942.0 2270.5,1942.0 2271.5,1942.0 2272.5,1942.6 2273.5,1943.2 2274.5,1943.7 2275.5,1943.2 2276.5,1942.8 2277.5,1942.3 2278.5,1942.5 2279.5,1942.7 2280.5,1942.9 2281.5,1941.8 2282.5,1940.7 2283.5,1939.6 2284.5,1940.2 2285.5,1940.7 2286.5,1941.2 2287.5,1941.4 2288.5,1941.6 2289.5,1941.8 2290.5,1940.6 2291.5,1939.4 2292.5,1938.1 2293.5,1938.0 2294.5,1937.8 2295.5,1937.6 2296.5,1938.4 2297.5,1939.2 2298.5,1940.0 2299.5,1940.0 2300.5,1940.1 2301.5,1940.2 2302.5,1938.8 2303.5,1937.4 2304.5,1936.1 2305.5,1936.7 2306.5,1937.3 2307.5,1937.9 2308.5,1937.1 2309.5,1936.2 2310.5,1935.3 2311.5,1936.0 2312.5,1936.7 2313.5,1937.4 2314.5,1937.1 2315.5,1936.8 2316.5,1936.4 2317.5,1935.7 2318.5,1934.9 2319.5,1934.1 2320.5,1933.9 2321.5,1933.7 2322.5,1933.5 2323.5,1934.1 2324.5,1934.8 2325.5,1935.5 2326.5,1935.0 2327.5,1934.5 2328.5,1934.0 2329.5,1934.2 2330.5,1934.5 2331.5,1934.7 2332.5,1934.0 2333.5,1933.4 2334.5,1932.7 2335.5,1932.5 2336.5,1932.3 2337.5,1932.1 2338.5,1932.9 2339.5,1933.7 2340.5,1934.5 2341.5,1933.9 2342.5,1933.4 2343.5,1932.8 2344.5,1932.4 2345.5,1932.0 2346.5,1931.6 2347.5,1931.6 2348.5,1931.5 2349.5,1931.5 2350.5,1931.6 2351.5,1931.7 2352.5,1931.9 2353.5,1931.7 2354.5,1931.6 2355.5,1931.5 2356.5,1931.6 2357.5,1931.8 2358.5,1932.0 2359.5,1931.1 2360.5,1930.3 2361.5,1929.4 2362.5,1929.9 2363.5,1930.4 2364.5,1930.6 2365.5,1929.7 2366.5,1928.8 2367.5,1927.9 2368.5,1927.5 2369.5,1927.1 2370.5,1926.7 2371.5,1926.0 2372.5,1925.2 2373.5,1924.5 2374.5,1923.9 2375.5,1923.2 2376.5,1922.8 2377.5,1922.7 2378.5,1922.5 2379.5,1922.4 2380.5,1922.2 2381.5,1922.1 2382.5,1922.0 2383.5,1921.3 2384.5,1920.6 2385.5,1919.9 2386.5,1919.5 2387.5,1919.1 2388.5,1918.7 2389.5,1918.7 2390.5,1918.8 2391.5,1919.0 2392.5,1919.5 2393.5,1919.9 2394.5,1920.3 2395.5,1920.0 2396.5,1919.7 2397.5,1919.5 2398.5,1919.7 2399.5,1920.1 2400.5,1920.4 2401.5,1920.6 2402.5,1921.0 2403.5,1921.5" stroke="#505050"/>
<path d="M168.5,1535.8 169.5,1535.9 170.5,1536.0 171.5,1536.2 172.5,1536.4 173.5,1536.5 174.5,1536.5 175.5,1535.8 176.5,1535.0 177.5,1534.2 178.5,1534.0 179.5,1533.8 180.5,1533.6 181.5,1534.1 182.5,1534.7 183.5,1535.2 184.5,1535.0 185.5,1534.9 186.5,1534.7 187.5,1535.5 188.5,1536.3 189.5,1537.1 190.5,1536.9 191.5,1536.7 192.5,1536.5 193.5,1536.4 194.5,1536.3 195.5,1536.1 196.5,1536.1 197.5,1536.0 198.5,1535.9 199.5,1536.1 200.5,1536.2 201.5,1536.4 202.5,1535.6 203.5,1534.8 204.5,1534.1 205.5,1534.5 206.5,1534.9 207.5,1535.3 208.5,1534.9 209.5,1534.5 210.5,1534.1 211.5,1535.2 212.5,1536.3 213.5,1537.4 214.5,1536.1 215.5,1534.9 216.5,1533.6 217.5,1534.7 218.5,1535.8 219.5,1536.9 220.5,1535.8 221.5,1534.7 222.5,1533.6 223.5,1534.5 224.5,1535.4 225.5,1536.3 226.5,1535.8 227.5,1535.3 228.5,1534.8 229.5,1534.9 230.5,1534.9 231.5,1535.0 232.5,1535.7 233.5,1536.3 234.5,1536.9 235.5,1535.7 236.5,1534.5 237.5,1533.3 238.5,1533.4 239.5,1533.4 240.5,1533.5 241.5,1534.7 242.5,1536.0 243.5,1537.2 244.5,1536.6 245.5,1536.0 246.5,1535.4 247.5,1534.8 248.5,1534.2 249.5,1533.5 250.5,1534.8 251.5,1536.2 252.5,1537.5 253.5,1537.4 254.5,1537.3 255.5,1537.3 256.5,1536.0 257.5,1534.8 258.5,1533.6 259.5,1534.0 260.5,1534.5 261.5,1534.9 262.5,1534.5 263.5,1534.1 264.5,1533.6 265.5,1533.9 266.5,1534.1 267.5,1534.4 268.5,1534.8 269.5,1535.3 270.5,1535.7 271.5,1535.0 272.5,1534.4 273.5,1533.7 274.5,1534.5 275.5,1535.2 276.5,1536.0 277.5,1535.1 278.5,1534.1 279.5,1533.1 280.5,1533.3 281.5,1533.5 282.5,1533.6 283.5,1534.6 284.5,1535.5 285.5,1536.5 286.5,1535.8 287.5,1535.2 288.5,1534.6 289.5,1534.6 290.5,1534.6 291.5,1534.7 292.5,1534.9 293.5,1535.2 294.5,1535.4 295.5,1535.2 296.5,1535.0 297.5,1534.9 298.5,1534.7 299.5,1534.6 300.5,1534.4 301.5,1533.9 302.5,1533.4 303.5,1532.8 304.5,1533.9 305.5,1534.9 306.5,1535.9 307.5,1536.2 308.5,1536.6 309.5,1536.9 310.5,1536.9 311.5,1536.9 312.5,1536.9 313.5,1536.4 314.5,1536.0 315.5,1535.5 316.5,1535.0 317.5,1534.6 318.5,1534.1 319.5,1534.1 320.5,1534.1 321.5,1534.1 322.5,1534.6 323.5,1535.0 324.5,1535.5 325.5,1535.5 326.5,1535.4 327.5,1535.4 328.5,1534.6 329.5,1533.7 330.5,1532.9 331.5,1533.1 332.5,1533.2 333.5,1533.4 334.5,1533.6 335.5,1533.7 336.5,1533.9 337.5,1534.1 338.5,1534.3 339.5,1534.5 340.5,1535.0 341.5,1535.4 342.5,1535.8 343.5,1535.3 344.5,1534.9 345.5,1534.4 346.5,1533.7 347.5,1533.0 348.5,1532.3 349.5,1533.4 350.5,1534.6 351.5,1535.7 352.5,1535.1 353.5,1534.5 354.5,1533.9 355.5,1534.0 356.5,1534.1 357.5,1534.2 358.5,1533.8 359.5,1533.3 360.5,1532.9 361.5,1533.1 362.5,1533.4 363.5,1533.7 364.5,1533.6 365.5,1533.5 366.5,1533.4 367.5,1534.0 368.5,1534.5 369.5,1535.0 370.5,1534.0 371.5,1533.0 372.5,1532.0 373.5,1532.6 374.5,1533.2 375.5,1533.8 376.5,1533.2 377.5,1532.6 378.5,1532.1 379.5,1532.8 380.5,1533.5 381.5,1534.2 382.5,1533.1 383.5,1532.1 384.5,1531.1 385.5,1531.4 386.5,1531.6 387.5,1531.9 388.5,1531.9 389.5,1531.9 390.5,1531.9 391.5,1532.3 392.5,1532.6 393.5,1532.9 394.5,1531.9 395.5,1530.9 396.5,1530.0 397.5,1530.4 398.5,1530.9 399.5,1531.3 400.5,1530.8 401.5,1530.2 402.5,1529.7 403.5,1529.6 404.5,1529.5 405.5,1529.4 406.5,1529.4 407.5,1529.5 408.5,1529.5 409.5,1530.0 410.5,1530.4 411.5,1530.9 412.5,1529.9 413.5,1528.9 414.5,1527.9 415.5,1528.3 416.5,1528.6 417.5,1529.0 418.5,1527.5 419.5,1526.0 420.5,1524.5 421.5,1525.2 422.5,1525.9 423.5,1526.6 424.5,1525.4 425.5,1524.1 426.5,1522.8 427.5,1522.1 428.5,1521.3 429.5,1520.5 430.5,1520.6 431.5,1520.8 432.5,1520.8 433.5,1520.1 434.5,1519.4 435.5,1518.4 436.5,1515.8 437.5,1512.9 438.5,1509.8 439.5,1508.1 440.5,1506.2 441.5,1504.0 442.5,1501.8 443.5,1499.4 444.5,1496.8 445.5,1492.7 446.5,1488.6 447.5,1484.6 448.5,1481.4 449.5,1478.8 450.5,1477.0 451.5,1475.9 452.5,1475.7 453.5,1476.6 454.5,1478.5 455.5,1481.0 456.5,1483.7 457.5,1487.4 458.5,1491.0 459.5,1494.4 460.5,1497.2 461.5,1499.7 462.5,1501.9 463.5,1503.2 464.5,1504.2 465.5,1504.8 466.5,1504.4 467.5,1503.5 468.5,1502.4 469.5,1500.8 470.5,1498.9 471.5,1496.5 472.5,1494.7 473.5,1492.3 474.5,1489.1 475.5,1485.4 476.5,1480.6 477.5,1474.7 478.5,1466.8 479.5,1457.4 480.5,1446.4 481.5,1433.2 482.5,1418.1 483.5,1401.1 484.5,1382.0 485.5,1361.1 486.5,1338.6 487.5,1316.1 488.5,1292.9 489.5,1269.6 490.5,1246.5 491.5,1225.1 492.5,1206.4 493.5,1191.8 494.5,1182.0 495.5,1177.9 496.5,1178.9 497.5,1185.7 498.5,1197.6 499.5,1215.4 500.5,1236.4 501.5,1259.5 502.5,1282.6 503.5,1306.0 504.5,1329.0 505.5,1350.1 506.5,1369.8 507.5,1387.9 508.5,1405.5 509.5,1421.3 510.5,1435.2 511.5,1448.0 512.5,1459.1 513.5,1468.7 514.5,1475.2 515.5,1480.6 516.5,1484.9 517.5,1490.3 518.5,1494.9 519.5,1499.0 520.5,1501.0 521.5,1502.7 522.5,1504.0 523.5,1506.0 524.5,1507.9 525.5,1509.5 526.5,1510.8 527.5,1512.0 528.5,1513.1 529.5,1513.4 530.5,1513.7 531.5,1513.8 532.5,1514.8 533.5,1515.7 534.5,1516.5 535.5,1517.2 536.5,1517.8 537.5,1518.4 538.5,1519.6 539.5,1520.8 540.5,1521.9 541.5,1522.5 542.5,1522.9 543.5,1523.4 544.5,1523.0 545.5,1522.5 546.5,1522.1 547.5,1523.5 548.5,1524.9 549.5,1526.3 550.5,1525.9 551.5,1525.5 552.5,1525.0 553.5,1525.0 554.5,1524.9 555.5,1524.8 556.5,1525.3 557.5,1525.8 558.5,1526.2 559.5,1527.1 560.5,1528.1 561.5,1529.0 562.5,1528.6 563.5,1528.1 564.5,1527.6 565.5,1527.8 566.5,1528.1 567.5,1528.3 568.5,1528.8 569.5,1529.3 570.5,1529.9 571.5,1530.0 572.5,1530.2 573.5,1530.3 574.5,1530.1 575.5,1529.9 576.5,1529.7 577.5,1529.3 578.5,1528.8 579.5,1528.4 580.5,1528.7 581.5,1529.0 582.5,1529.3 583.5,1529.9 584.5,1530.4 585.5,1530.9 586.5,1530.8 587.5,1530.7 588.5,1530.6 589.5,1530.3 590.5,1530.1 591.5,1529.8 592.5,1529.5 593.5,1529.2 594.5,1528.9 595.5,1529.0 596.5,1529.1 597.5,1529.1 598.5,1529.7 599.5,1530.3 600.5,1530.9 601.5,1530.6 602.5,1530.4 603.5,1530.2 604.5,1529.4 605.5,1528.7 606.5,1527.9 607.5,1529.0 608.5,1530.0 609.5,1531.1 610.5,1531.4 611.5,1531.7 612.5,1532.0 613.5,1531.9 614.5,1531.8 615.5,1531.6 616.5,1531.8 617.5,1532.0 618.5,1532.2 619.5,1532.2 620.5,1532.2 621.5,1532.3 622.5,1531.8 623.5,1531.2 624.5,1530.7 625.5,1531.1 626.5,1531.5 627.5,1531.9 628.5,1531.3 629.5,1530.7 630.5,1530.2 631.5,1529.8 632.5,1529.4 633.5,1529.0 634.5,1529.4 635.5,1529.8 636.5,1530.2 637.5,1530.1 638.5,1530.1 639.5,1530.1 640.5,1531.0 641.5,1531.9 642.5,1532.9 643.5,1532.5 644.5,1532.2 645.5,1531.8 646.5,1531.6 647.5,1531.4 648.5,1531.2 649.5,1531.4 650.5,1531.5 651.5,1531.6 652.5,1530.9 653.5,1530.2 654.5,1529.5 655.5,1530.1 656.5,1530.7 657.5,1531.3 658.5,1531.5 659.5,1531.8 660.5,1532.0 661.5,1531.6 662.5,1531.1 663.5,1530.7 664.5,1530.5 665.5,1530.3 666.5,1530.1 667.5,1530.3 668.5,1530.5 669.5,1530.8 670.5,1530.7 671.5,1530.5 672.5,1530.4 673.5,1531.0 674.5,1531.5 675.5,1532.0 676.5,1531.2 677.5,1530.4 678.5,1529.6 679.5,1529.6 680.5,1529.5 681.5,1529.4 682.5,1529.7 683.5,1530.1 684.5,1530.4 685.5,1530.9 686.5,1531.5 687.5,1532.1 688.5,1532.2 689.5,1532.2 690.5,1532.3 691.5,1532.2 692.5,1532.0 693.5,1531.9 694.5,1532.3 695.5,1532.7 696.5,1533.1 697.5,1532.2 698.5,1531.4 699.5,1530.5 700.5,1530.0 701.5,1529.5 702.5,1529.0 703.5,1529.7 704.5,1530.3 705.5,1531.0 706.5,1530.9 707.5,1530.8 708.5,1530.8 709.5,1530.4 710.5,1530.0 711.5,1529.5 712.5,1530.2 713.5,1530.9 714.5,1531.6 715.5,1531.1 716.5,1530.6 717.5,1530.1 718.5,1529.9 719.5,1529.7 720.5,1529.5 721.5,1529.6 722.5,1529.7 723.5,1529.8 724.5,1530.7 725.5,1531.5 726.5,1532.4 727.5,1530.9 728.5,1529.5 729.5,1528.1 730.5,1528.5 731.5,1528.9 732.5,1529.4 733.5,1529.1 734.5,1528.9 735.5,1528.7 736.5,1528.4 737.5,1528.2 738.5,1527.9 739.5,1528.1 740.5,1528.2 741.5,1528.4 742.5,1527.8 743.5,1527.3 744.5,1526.7 745.5,1527.4 746.5,1528.1 747.5,1528.7 748.5,1527.6 749.5,1526.5 750.5,1525.3 751.5,1524.9 752.5,1524.5 753.5,1523.9 754.5,1522.1 755.5,1520.1 756.5,1517.8 757.5,1516.5 758.5,1514.8 759.5,1512.6 760.5,1509.5 761.5,1505.7 762.5,1500.8 763.5,1495.0 764.5,1487.8 765.5,1479.4 766.5,1468.6 767.5,1457.6 768.5,1447.6 769.5,1442.0 770.5,1441.3 771.5,1445.7 772.5,1454.1 773.5,1464.4 774.5,1474.7 775.5,1483.5 776.5,1491.0 777.5,1497.2 778.5,1501.4 779.5,1504.6 780.5,1506.9 781.5,1510.0 782.5,1512.5 783.5,1514.6 784.5,1516.3 785.5,1517.8 786.5,1519.1 787.5,1519.4 788.5,1519.6 789.5,1519.7 790.5,1520.7 791.5,1521.6 792.5,1522.6 793.5,1523.0 794.5,1523.5 795.5,1523.9 796.5,1524.8 797.5,1525.6 798.5,1526.5 799.5,1526.3 800.5,1526.0 801.5,1525.8 802.5,1526.3 803.5,1526.8 804.5,1527.3 805.5,1527.2 806.5,1527.0 807.5,1526.8 808.5,1527.6 809.5,1528.4 810.5,1529.3 811.5,1528.9 812.5,1528.5 813.5,1528.1 814.5,1528.6 815.5,1529.1 816.5,1529.5 817.5,1529.5 818.5,1529.4 819.5,1529.4 820.5,1529.4 821.5,1529.5 822.5,1529.5 823.5,1529.4 824.5,1529.3 825.5,1529.1 826.5,1529.3 827.5,1529.5 828.5,1529.8 829.5,1530.3 830.5,1530.8 831.5,1531.4 832.5,1531.0 833.5,1530.6 834.5,1530.2 835.5,1530.0 836.5,1529.7 837.5,1529.5 838.5,1530.6 839.5,1531.7 840.5,1532.9 841.5,1532.2 842.5,1531.4 843.5,1530.7 844.5,1531.7 845.5,1532.6 846.5,1533.6 847.5,1533.2 848.5,1532.7 849.5,1532.2 850.5,1531.9 851.5,1531.6 852.5,1531.3 853.5,1532.1 854.5,1532.8 855.5,1533.5 856.5,1533.6 857.5,1533.6 858.5,1533.7 859.5,1532.8 860.5,1532.0 861.5,1531.2 862.5,1530.9 863.5,1530.6 864.5,1530.3 865.5,1531.1 866.5,1531.8 867.5,1532.6 868.5,1532.9 869.5,1533.2 870.5,1533.5 871.5,1533.2 872.5,1532.8 873.5,1532.5 874.5,1532.7 875.5,1533.0 876.5,1533.3 877.5,1532.7 878.5,1532.2 879.5,1531.6 880.5,1531.9 881.5,1532.2 882.5,1532.5 883.5,1532.0 884.5,1531.5 885.5,1531.0 886.5,1531.2 887.5,1531.4 888.5,1531.6 889.5,1531.6 890.5,1531.5 891.5,1531.5 892.5,1531.5 893.5,1531.5 894.5,1531.5 895.5,1531.5 896.5,1531.6 897.5,1531.6 898.5,1532.2 899.5,1532.8 900.5,1533.4 901.5,1532.4 902.5,1531.5 903.5,1530.6 904.5,1530.6 905.5,1530.7 906.5,1530.7 907.5,1530.8 908.5,1530.9 909.5,1530.9 910.5,1532.0 911.5,1533.0 912.5,1534.1 913.5,1533.4 914.5,1532.8 915.5,1532.1 916.5,1531.4 917.5,1530.7 918.5,1530.0 919.5,1531.2 920.5,1532.3 921.5,1533.5 922.5,1533.5 923.5,1533.6 924.5,1533.6 925.5,1533.5 926.5,1533.5 927.5,1533.4 928.5,1532.7 929.5,1532.0 930.5,1531.4 931.5,1531.9 932.5,1532.4 933.5,1533.0 934.5,1532.4 935.5,1531.7 936.5,1531.1 937.5,1530.9 938.5,1530.6 939.5,1530.4 940.5,1531.4 941.5,1532.5 942.5,1533.5 943.5,1533.5 944.5,1533.4 945.5,1533.4 946.5,1532.5 947.5,1531.6 948.5,1530.7 949.5,1531.6 950.5,1532.6 951.5,1533.6 952.5,1532.3 953.5,1531.1 954.5,1529.8 955.5,1530.2 956.5,1530.6 957.5,1531.1 958.5,1530.6 959.5,1530.2 960.5,1529.7 961.5,1530.0 962.5,1530.2 963.5,1530.4 964.5,1530.4 965.5,1530.4 966.5,1530.4 967.5,1531.2 968.5,1532.0 969.5,1532.8 970.5,1532.2 971.5,1531.6 972.5,1531.0 973.5,1530.8 974.5,1530.6 975.5,1530.5 976.5,1530.5 977.5,1530.5 978.5,1530.4 979.5,1530.6 980.5,1530.8 981.5,1531.0 982.5,1531.8 983.5,1532.6 984.5,1533.4 985.5,1533.0 986.5,1532.6 987.5,1532.3 988.5,1531.5 989.5,1530.8 990.5,1530.0 991.5,1530.9 992.5,1531.7 993.5,1532.6 994.5,1532.4 995.5,1532.1 996.5,1531.9 997.5,1531.8 998.5,1531.7 999.5,1531.5 1000.5,1531.6 1001.5,1531.7 1002.5,1531.9 1003.5,1532.0 1004.5,1532.2 1005.5,1532.4 1006.5,1532.6 1007.5,1532.8 1008.5,1533.0 1009.5,1532.6 1010.5,1532.2 1011.5,1531.7 1012.5,1531.9 1013.5,1532.1 1014.5,1532.3 1015.5,1532.0 1016.5,1531.8 1017.5,1531.5 1018.5,1531.8 1019.5,1532.0 1020.5,1532.2 1021.5,1531.9 1022.5,1531.5 1023.5,1531.1 1024.5,1531.2 1025.5,1531.2 1026.5,1531.2 1027.5,1531.4 1028.5,1531.5 1029.5,1531.7 1030.5,1531.9 1031.5,1532.2 1032.5,1532.5 1033.5,1531.9 1034.5,1531.2 1035.5,1530.6 1036.5,1531.5 1037.5,1532.5 1038.5,1533.4 1039.5,1532.7 1040.5,1532.1 1041.5,1531.5 1042.5,1532.0 1043.5,1532.5 1044.5,1533.0 1045.5,1532.8 1046.5,1532.5 1047.5,1532.3 1048.5,1532.6 1049.5,1533.0 1050.5,1533.4 1051.5,1533.0 1052.5,1532.6 1053.5,1532.1 1054.5,1531.7 1055.5,1531.4 1056.5,1531.0 1057.5,1530.9 1058.5,1530.9 1059.5,1530.8 1060.5,1531.1 1061.5,1531.3 1062.5,1531.6 1063.5,1531.8 1064.5,1531.9 1065.5,1532.1 1066.5,1532.2 1067.5,1532.2 1068.5,1532.3 1069.5,1531.2 1070.5,1530.0 1071.5,1528.9 1072.5,1528.6 1073.5,1528.3 1074.5,1527.9 1075.5,1527.6 1076.5,1527.2 1077.5,1526.6 1078.5,1525.8 1079.5,1524.7 1080.5,1523.4 1081.5,1522.0 1082.5,1520.3 1083.5,1518.4 1084.5,1516.5 1085.5,1514.5 1086.5,1512.8 1087.5,1511.7 1088.5,1511.2 1089.5,1511.4 1090.5,1511.6 1091.5,1512.5 1092.5,1513.8 1093.5,1516.4 1094.5,1519.1 1095.5,1521.8 1096.5,1523.5 1097.5,1524.9 1098.5,1526.2 1099.5,1527.8 1100.5,1529.3 1101.5,1530.5 1102.5,1531.1 1103.5,1531.5 1104.5,1531.9 1105.5,1531.8 1106.5,1531.7 1107.5,1531.5 1108.5,1531.9 1109.5,1532.3 1110.5,1532.7 1111.5,1531.4 1112.5,1530.1 1113.5,1528.8 1114.5,1529.1 1115.5,1529.4 1116.5,1529.7 1117.5,1530.8 1118.5,1531.8 1119.5,1532.9 1120.5,1532.2 1121.5,1531.6 1122.5,1530.9 1123.5,1530.6 1124.5,1530.2 1125.5,1529.8 1126.5,1530.6 1127.5,1531.4 1128.5,1532.2 1129.5,1531.8 1130.5,1531.3 1131.5,1530.8 1132.5,1531.0 1133.5,1531.2 1134.5,1531.3 1135.5,1531.0 1136.5,1530.7 1137.5,1530.4 1138.5,1530.2 1139.5,1530.1 1140.5,1530.0 1141.5,1529.8 1142.5,1529.6 1143.5,1529.4 1144.5,1530.1 1145.5,1530.9 1146.5,1531.6 1147.5,1532.2 1148.5,1532.7 1149.5,1533.2 1150.5,1533.2 1151.5,1533.3 1152.5,1533.3 1153.5,1533.0 1154.5,1532.7 1155.5,1532.3 1156.5,1532.6 1157.5,1532.8 1158.5,1533.1 1159.5,1532.2 1160.5,1531.4 1161.5,1530.6 1162.5,1530.5 1163.5,1530.4 1164.5,1530.3 1165.5,1531.2 1166.5,1532.1 1167.5,1533.0 1168.5,1532.5 1169.5,1532.1 1170.5,1531.6 1171.5,1531.7 1172.5,1531.8 1173.5,1531.9 1174.5,1530.9 1175.5,1530.0 1176.5,1529.0 1177.5,1529.3 1178.5,1529.6 1179.5,1529.9 1180.5,1530.3 1181.5,1530.7 1182.5,1531.1 1183.5,1531.4 1184.5,1531.8 1185.5,1532.1 1186.5,1532.3 1187.5,1532.4 1188.5,1532.5 1189.5,1532.4 1190.5,1532.3 1191.5,1532.2 1192.5,1531.6 1193.5,1531.0 1194.5,1530.4 1195.5,1530.5 1196.5,1530.5 1197.5,1530.6 1198.5,1531.3 1199.5,1532.0 1200.5,1532.7 1201.5,1532.9 1202.5,1533.0 1203.5,1533.2 1204.5,1532.5 1205.5,1531.7 1206.5,1531.0 1207.5,1530.6 1208.5,1530.1 1209.5,1529.7 1210.5,1530.3 1211.5,1531.0 1212.5,1531.6 1213.5,1531.5 1214.5,1531.3 1215.5,1531.2 1216.5,1530.9 1217.5,1530.7 1218.5,1530.4 1219.5,1530.2 1220.5,1530.0 1221.5,1529.8 1222.5,1530.1 1223.5,1530.3 1224.5,1530.5 1225.5,1530.8 1226.5,1531.2 1227.5,1531.5 1228.5,1530.8 1229.5,1530.1 1230.5,1529.4 1231.5,1530.0 1232.5,1530.6 1233.5,1531.2 1234.5,1531.8 1235.5,1532.4 1236.5,1533.0 1237.5,1532.7 1238.5,1532.4 1239.5,1532.1 1240.5,1531.3 1241.5,1530.6 1242.5,1529.9 1243.5,1530.1 1244.5,1530.4 1245.5,1530.6 1246.5,1530.1 1247.5,1529.7 1248.5,1529.2 1249.5,1530.1 1250.5,1531.1 1251.5,1532.0 1252.5,1531.8 1253.5,1531.7 1254.5,1531.5 1255.5,1530.8 1256.5,1530.2 1257.5,1529.5 1258.5,1530.0 1259.5,1530.6 1260.5,1531.1 1261.5,1531.2 1262.5,1531.3 1263.5,1531.3 1264.5,1531.3 1265.5,1531.3 1266.5,1531.2 1267.5,1530.9 1268.5,1530.6 1269.5,1530.3 1270.5,1530.2 1271.5,1530.1 1272.5,1530.0 1273.5,1530.1 1274.5,1530.2 1275.5,1530.2 1276.5,1531.2 1277.5,1532.1 1278.5,1533.0 1279.5,1532.1 1280.5,1531.1 1281.5,1530.1 1282.5,1530.3 1283.5,1530.6 1284.5,1530.8 1285.5,1530.8 1286.5,1530.7 1287.5,1530.6 1288.5,1530.2 1289.5,1529.8 1290.5,1529.4 1291.5,1529.7 1292.5,1530.0 1293.5,1530.4 1294.5,1530.1 1295.5,1529.8 1296.5,1529.5 1297.5,1529.7 1298.5,1529.8 1299.5,1530.0 1300.5,1530.1 1301.5,1530.1 1302.5,1530.2 1303.5,1530.2 1304.5,1530.1 1305.5,1530.1 1306.5,1531.0 1307.5,1531.8 1308.5,1532.7 1309.5,1531.7 1310.5,1530.8 1311.5,1529.9 1312.5,1529.9 1313.5,1530.0 1314.5,1530.0 1315.5,1530.5 1316.5,1531.0 1317.5,1531.4 1318.5,1531.0 1319.5,1530.7 1320.5,1530.3 1321.5,1530.4 1322.5,1530.6 1323.5,1530.8 1324.5,1531.0 1325.5,1531.2 1326.5,1531.4 1327.5,1530.5 1328.5,1529.7 1329.5,1528.8 1330.5,1529.7 1331.5,1530.6 1332.5,1531.4 1333.5,1530.6 1334.5,1529.8 1335.5,1528.9 1336.5,1529.1 1337.5,1529.3 1338.5,1529.6 1339.5,1530.4 1340.5,1531.2 1341.5,1532.0 1342.5,1532.3 1343.5,1532.5 1344.5,1532.8 1345.5,1532.3 1346.5,1531.9 1347.5,1531.4 1348.5,1530.7 1349.5,1529.9 1350.5,1529.2 1351.5,1529.6 1352.5,1530.0 1353.5,1530.3 1354.5,1530.1 1355.5,1529.9 1356.5,1529.7 1357.5,1530.5 1358.5,1531.3 1359.5,1532.1 1360.5,1531.2 1361.5,1530.3 1362.5,1529.4 1363.5,1529.4 1364.5,1529.3 1365.5,1529.2 1366.5,1529.9 1367.5,1530.5 1368.5,1531.2 1369.5,1531.2 1370.5,1531.2 1371.5,1531.2 1372.5,1531.1 1373.5,1531.0 1374.5,1530.9 1375.5,1530.8 1376.5,1530.6 1377.5,1530.4 1378.5,1531.1 1379.5,1531.8 1380.5,1532.5 1381.5,1531.8 1382.5,1531.1 1383.5,1530.3 1384.5,1531.0 1385.5,1531.7 1386.5,1532.4 1387.5,1531.6 1388.5,1530.8 1389.5,1530.0 1390.5,1530.1 1391.5,1530.2 1392.5,1530.3 1393.5,1530.2 1394.5,1530.0 1395.5,1529.9 1396.5,1530.4 1397.5,1530.9 1398.5,1531.4 1399.5,1531.5 1400.5,1531.5 1401.5,1531.6 1402.5,1530.8 1403.5,1530.0 1404.5,1529.3 1405.5,1529.7 1406.5,1530.1 1407.5,1530.5 1408.5,1530.8 1409.5,1531.1 1410.5,1531.4 1411.5,1531.0 1412.5,1530.7 1413.5,1530.4 1414.5,1530.6 1415.5,1530.8 1416.5,1531.1 1417.5,1531.0 1418.5,1530.9 1419.5,1530.8 1420.5,1531.0 1421.5,1531.1 1422.5,1531.2 1423.5,1530.7 1424.5,1530.2 1425.5,1529.6 1426.5,1529.6 1427.5,1529.5 1428.5,1529.4 1429.5,1529.0 1430.5,1528.6 1431.5,1528.1 1432.5,1529.4 1433.5,1530.7 1434.5,1531.9 1435.5,1531.8 1436.5,1531.6 1437.5,1531.5 1438.5,1530.9 1439.5,1530.3 1440.5,1529.7 1441.5,1530.5 1442.5,1531.4 1443.5,1532.2 1444.5,1532.1 1445.5,1532.0 1446.5,1531.9 1447.5,1530.8 1448.5,1529.7 1449.5,1528.6 1450.5,1529.6 1451.5,1530.6 1452.5,1531.5 1453.5,1530.9 1454.5,1530.3 1455.5,1529.7 1456.5,1529.5 1457.5,1529.4 1458.5,1529.2 1459.5,1529.1 1460.5,1529.0 1461.5,1528.9 1462.5,1529.2 1463.5,1529.4 1464.5,1529.6 1465.5,1529.1 1466.5,1528.5 1467.5,1528.0 1468.5,1528.0 1469.5,1528.0 1470.5,1528.0 1471.5,1528.0 1472.5,1528.1 1473.5,1528.2 1474.5,1528.5 1475.5,1528.8 1476.5,1529.0 1477.5,1528.8 1478.5,1528.6 1479.5,1528.4 1480.5,1528.3 1481.5,1528.2 1482.5,1528.2 1483.5,1529.2 1484.5,1530.2 1485.5,1531.3 1486.5,1530.6 1487.5,1529.9 1488.5,1529.3 1489.5,1529.4 1490.5,1529.6 1491.5,1529.7 1492.5,1529.9 1493.5,1530.0 1494.5,1530.2 1495.5,1530.7 1496.5,1531.1 1497.5,1531.6 1498.5,1530.5 1499.5,1529.3 1500.5,1528.1 1501.5,1528.3 1502.5,1528.4 1503.5,1528.5 1504.5,1529.4 1505.5,1530.3 1506.5,1531.2 1507.5,1531.3 1508.5,1531.4 1509.5,1531.4 1510.5,1531.5 1511.5,1531.5 1512.5,1531.5 1513.5,1530.9 1514.5,1530.3 1515.5,1529.7 1516.5,1529.5 1517.5,1529.2 1518.5,1529.0 1519.5,1528.7 1520.5,1528.4 1521.5,1528.2 1522.5,1529.2 1523.5,1530.3 1524.5,1531.3 1525.5,1531.1 1526.5,1530.9 1527.5,1530.7 1528.5,1530.3 1529.5,1530.0 1530.5,1529.7 1531.5,1530.0 1532.5,1530.4 1533.5,1530.7 1534.5,1529.9 1535.5,1529.2 1536.5,1528.4 1537.5,1528.8 1538.5,1529.2 1539.5,1529.6 1540.5,1530.1 1541.5,1530.6 1542.5,1531.2 1543.5,1530.0 1544.5,1528.8 1545.5,1527.6 1546.5,1528.4 1547.5,1529.1 1548.5,1529.9 1549.5,1529.2 1550.5,1528.6 1551.5,1527.9 1552.5,1528.9 1553.5,1529.8 1554.5,1530.8 1555.5,1530.8 1556.5,1530.8 1557.5,1530.8 1558.5,1530.5 1559.5,1530.2 1560.5,1529.9 1561.5,1529.6 1562.5,1529.2 1563.5,1528.9 1564.5,1528.3 1565.5,1527.7 1566.5,1527.1 1567.5,1527.8 1568.5,1528.5 1569.5,1529.1 1570.5,1528.9 1571.5,1528.7 1572.5,1528.5 1573.5,1528.6 1574.5,1528.6 1575.5,1528.7 1576.5,1528.2 1577.5,1527.7 1578.5,1527.2 1579.5,1528.5 1580.5,1529.7 1581.5,1530.9 1582.5,1530.3 1583.5,1529.7 1584.5,1529.2 1585.5,1529.2 1586.5,1529.3 1587.5,1529.3 1588.5,1529.7 1589.5,1530.1 1590.5,1530.5 1591.5,1530.6 1592.5,1530.7 1593.5,1530.7 1594.5,1530.2 1595.5,1529.7 1596.5,1529.2 1597.5,1529.2 1598.5,1529.2 1599.5,1529.1 1600.5,1529.6 1601.5,1530.0 1602.5,1530.4 1603.5,1529.7 1604.5,1529.0 1605.5,1528.3 1606.5,1529.1 1607.5,1529.9 1608.5,1530.6 1609.5,1529.3 1610.5,1528.1 1611.5,1526.8 1612.5,1527.9 1613.5,1529.0 1614.5,1530.1 1615.5,1529.7 1616.5,1529.3 1617.5,1528.9 1618.5,1529.1 1619.5,1529.2 1620.5,1529.3 1621.5,1529.9 1622.5,1530.4 1623.5,1530.9 1624.5,1529.8 1625.5,1528.6 1626.5,1527.5 1627.5,1527.8 1628.5,1528.0 1629.5,1528.3 1630.5,1528.9 1631.5,1529.4 1632.5,1530.0 1633.5,1529.9 1634.5,1529.8 1635.5,1529.8 1636.5,1529.4 1637.5,1529.1 1638.5,1528.8 1639.5,1529.1 1640.5,1529.5 1641.5,1529.8 1642.5,1529.7 1643.5,1529.5 1644.5,1529.4 1645.5,1529.7 1646.5,1529.9 1647.5,1530.2 1648.5,1529.9 1649.5,1529.5 1650.5,1529.2 1651.5,1528.8 1652.5,1528.4 1653.5,1527.9 1654.5,1527.8 1655.5,1527.7 1656.5,1527.6 1657.5,1527.3 1658.5,1527.0 1659.5,1526.6 1660.5,1526.7 1661.5,1526.8 1662.5,1526.8 1663.5,1526.7 1664.5,1526.6 1665.5,1526.4 1666.5,1527.8 1667.5,1529.2 1668.5,1530.5 1669.5,1529.3 1670.5,1528.1 1671.5,1526.8 1672.5,1527.5 1673.5,1528.2 1674.5,1528.8 1675.5,1528.1 1676.5,1527.5 1677.5,1526.8 1678.5,1528.0 1679.5,1529.2 1680.5,1530.4 1681.5,1529.8 1682.5,1529.1 1683.5,1528.5 1684.5,1527.9 1685.5,1527.4 1686.5,1526.9 1687.5,1527.8 1688.5,1528.8 1689.5,1529.7 1690.5,1529.8 1691.5,1529.8 1692.5,1529.9 1693.5,1530.0 1694.5,1530.2 1695.5,1530.4 1696.5,1529.2 1697.5,1528.1 1698.5,1527.0 1699.5,1527.3 1700.5,1527.5 1701.5,1527.8 1702.5,1528.2 1703.5,1528.5 1704.5,1528.9 1705.5,1528.3 1706.5,1527.8 1707.5,1527.2 1708.5,1527.6 1709.5,1528.1 1710.5,1528.5 1711.5,1528.7 1712.5,1528.8 1713.5,1529.0 1714.5,1529.1 1715.5,1529.2 1716.5,1529.2 1717.5,1529.3 1718.5,1529.4 1719.5,1529.5 1720.5,1529.4 1721.5,1529.3 1722.5,1529.2 1723.5,1528.5 1724.5,1527.8 1725.5,1527.1 1726.5,1527.8 1727.5,1528.5 1728.5,1529.2 1729.5,1528.7 1730.5,1528.2 1731.5,1527.7 1732.5,1527.3 1733.5,1527.0 1734.5,1526.6 1735.5,1526.3 1736.5,1526.1 1737.5,1525.9 1738.5,1526.8 1739.5,1527.6 1740.5,1528.5 1741.5,1528.1 1742.5,1527.7 1743.5,1527.3 1744.5,1526.9 1745.5,1526.5 1746.5,1526.2 1747.5,1526.7 1748.5,1527.3 1749.5,1527.9 1750.5,1527.8 1751.5,1527.6 1752.5,1527.5 1753.5,1527.4 1754.5,1527.3 1755.5,1527.1 1756.5,1527.5 1757.5,1527.8 1758.5,1528.2 1759.5,1528.1 1760.5,1528.1 1761.5,1528.0 1762.5,1528.0 1763.5,1528.0 1764.5,1528.0 1765.5,1528.6 1766.5,1529.3 1767.5,1530.0 1768.5,1529.8 1769.5,1529.7 1770.5,1529.6 1771.5,1528.7 1772.5,1527.8 1773.5,1526.9 1774.5,1527.7 1775.5,1528.6 1776.5,1529.4 1777.5,1528.6 1778.5,1527.7 1779.5,1526.9 1780.5,1527.8 1781.5,1528.7 1782.5,1529.6 1783.5,1528.3 1784.5,1527.0 1785.5,1525.8 1786.5,1526.1 1787.5,1526.5 1788.5,1526.9 1789.5,1527.8 1790.5,1528.7 1791.5,1529.6 1792.5,1529.2 1793.5,1528.8 1794.5,1528.4 1795.5,1528.4 1796.5,1528.5 1797.5,1528.5 1798.5,1527.8 1799.5,1527.0 1800.5,1526.3 1801.5,1526.2 1802.5,1526.0 1803.5,1525.9 1804.5,1527.1 1805.5,1528.4 1806.5,1529.6 1807.5,1528.3 1808.5,1527.0 1809.5,1525.6 1810.5,1525.8 1811.5,1525.9 1812.5,1526.1 1813.5,1526.5 1814.5,1526.8 1815.5,1527.2 1816.5,1527.8 1817.5,1528.3 1818.5,1528.9 1819.5,1528.7 1820.5,1528.5 1821.5,1528.3 1822.5,1528.7 1823.5,1529.2 1824.5,1529.6 1825.5,1529.3 1826.5,1529.0 1827.5,1528.7 1828.5,1528.2 1829.5,1527.6 1830.5,1527.1 1831.5,1527.8 1832.5,1528.5 1833.5,1529.2 1834.5,1528.3 1835.5,1527.5 1836.5,1526.6 1837.5,1526.2 1838.5,1525.8 1839.5,1525.4 1840.5,1526.7 1841.5,1528.0 1842.5,1529.4 1843.5,1529.2 1844.5,1529.1 1845.5,1529.0 1846.5,1528.7 1847.5,1528.3 1848.5,1528.0 1849.5,1527.7 1850.5,1527.5 1851.5,1527.2 1852.5,1526.8 1853.5,1526.4 1854.5,1526.0 1855.5,1526.0 1856.5,1526.0 1857.5,1526.0 1858.5,1525.8 1859.5,1525.6 1860.5,1525.3 1861.5,1525.4 1862.5,1525.4 1863.5,1525.4 1864.5,1526.0 1865.5,1526.5 1866.5,1527.1 1867.5,1527.7 1868.5,1528.3 1869.5,1528.9 1870.5,1529.0 1871.5,1529.0 1872.5,1529.1 1873.5,1528.4 1874.5,1527.8 1875.5,1527.2 1876.5,1527.4 1877.5,1527.7 1878.5,1527.9 1879.5,1527.6 1880.5,1527.3 1881.5,1527.0 1882.5,1527.4 1883.5,1527.8 1884.5,1528.3 1885.5,1528.2 1886.5,1528.1 1887.5,1528.0 1888.5,1528.4 1889.5,1528.8 1890.5,1529.2 1891.5,1529.0 1892.5,1528.8 1893.5,1528.5 1894.5,1528.3 1895.5,1528.0 1896.5,1527.8 1897.5,1527.6 1898.5,1527.5 1899.5,1527.4 1900.5,1526.8 1901.5,1526.1 1902.5,1525.5 1903.5,1526.0 1904.5,1526.4 1905.5,1526.8 1906.5,1526.8 1907.5,1526.8 1908.5,1526.7 1909.5,1526.3 1910.5,1525.9 1911.5,1525.4 1912.5,1525.5 1913.5,1525.6 1914.5,1525.6 1915.5,1525.9 1916.5,1526.2 1917.5,1526.5 1918.5,1526.2 1919.5,1525.8 1920.5,1525.5 1921.5,1526.2 1922.5,1526.8 1923.5,1527.5 1924.5,1527.0 1925.5,1526.6 1926.5,1526.2 1927.5,1527.1 1928.5,1528.1 1929.5,1529.1 1930.5,1528.6 1931.5,1528.2 1932.5,1527.7 1933.5,1527.5 1934.5,1527.2 1935.5,1527.0 1936.5,1526.8 1937.5,1526.7 1938.5,1526.6 1939.5,1526.5 1940.5,1526.5 1941.5,1526.4 1942.5,1526.1 1943.5,1525.8 1944.5,1525.5 1945.5,1526.7 1946.5,1527.8 1947.5,1528.9 1948.5,1528.8 1949.5,1528.7 1950.5,1528.7 1951.5,1528.3 1952.5,1527.9 1953.5,1527.5 1954.5,1527.5 1955.5,1527.5 1956.5,1527.5 1957.5,1526.7 1958.5,1526.0 1959.5,1525.3 1960.5,1525.8 1961.5,1526.4 1962.5,1527.0 1963.5,1526.4 1964.5,1525.9 1965.5,1525.3 1966.5,1525.6 1967.5,1525.8 1968.5,1526.0 1969.5,1526.4 1970.5,1526.8 1971.5,1527.2 1972.5,1526.6 1973.5,1525.9 1974.5,1525.3 1975.5,1525.4 1976.5,1525.5 1977.5,1525.6 1978.5,1526.3 1979.5,1527.1 1980.5,1527.8 1981.5,1527.4 1982.5,1527.1 1983.5,1526.7 1984.5,1527.3 1985.5,1527.9 1986.5,1528.5 1987.5,1527.4 1988.5,1526.3 1989.5,1525.2 1990.5,1525.1 1991.5,1525.0 1992.5,1524.9 1993.5,1526.2 1994.5,1527.4 1995.5,1528.7 1996.5,1528.2 1997.5,1527.7 1998.5,1527.2 1999.5,1527.3 2000.5,1527.4 2001.5,1527.6 2002.5,1527.4 2003.5,1527.2 2004.5,1527.0 2005.5,1526.4 2006.5,1525.8 2007.5,1525.2 2008.5,1526.4 2009.5,1527.6 2010.5,1528.8 2011.5,1528.1 2012.5,1527.4 2013.5,1526.7 2014.5,1527.3 2015.5,1527.9 2016.5,1528.5 2017.5,1527.3 2018.5,1526.2 2019.5,1525.1 2020.5,1525.3 2021.5,1525.5 2022.5,1525.7 2023.5,1526.1 2024.5,1526.5 2025.5,1526.9 2026.5,1526.4 2027.5,1526.0 2028.5,1525.5 2029.5,1526.4 2030.5,1527.3 2031.5,1528.2 2032.5,1527.3 2033.5,1526.4 2034.5,1525.6 2035.5,1525.3 2036.5,1525.0 2037.5,1524.8 2038.5,1524.9 2039.5,1525.0 2040.5,1525.1 2041.5,1525.3 2042.5,1525.4 2043.5,1525.6 2044.5,1526.6 2045.5,1527.6 2046.5,1528.5 2047.5,1528.4 2048.5,1528.3 2049.5,1528.2 2050.5,1527.9 2051.5,1527.6 2052.5,1527.3 2053.5,1526.9 2054.5,1526.6 2055.5,1526.2 2056.5,1525.7 2057.5,1525.1 2058.5,1524.5 2059.5,1525.7 2060.5,1526.8 2061.5,1528.0 2062.5,1526.9 2063.5,1525.9 2064.5,1524.9 2065.5,1525.0 2066.5,1525.1 2067.5,1525.2 2068.5,1525.5 2069.5,1525.9 2070.5,1526.2 2071.5,1526.8 2072.5,1527.5 2073.5,1528.1 2074.5,1527.1 2075.5,1526.1 2076.5,1525.1 2077.5,1524.9 2078.5,1524.7 2079.5,1524.5 2080.5,1525.8 2081.5,1527.0 2082.5,1528.2 2083.5,1526.9 2084.5,1525.6 2085.5,1524.3 2086.5,1525.3 2087.5,1526.4 2088.5,1527.4 2089.5,1526.6 2090.5,1525.7 2091.5,1524.8 2092.5,1525.0 2093.5,1525.3 2094.5,1525.5 2095.5,1525.4 2096.5,1525.2 2097.5,1525.1 2098.5,1525.4 2099.5,1525.7 2100.5,1526.1 2101.5,1526.7 2102.5,1527.4 2103.5,1528.1 2104.5,1528.0 2105.5,1527.8 2106.5,1527.7 2107.5,1527.2 2108.5,1526.8 2109.5,1526.3 2110.5,1525.6 2111.5,1524.9 2112.5,1524.2 2113.5,1524.3 2114.5,1524.5 2115.5,1524.6 2116.5,1524.7 2117.5,1524.8 2118.5,1525.0 2119.5,1525.7 2120.5,1526.4 2121.5,1527.1 2122.5,1527.2 2123.5,1527.4 2124.5,1527.5 2125.5,1526.1 2126.5,1524.8 2127.5,1523.4 2128.5,1523.8 2129.5,1524.2 2130.5,1524.6 2131.5,1525.4 2132.5,1526.2 2133.5,1527.0 2134.5,1525.7 2135.5,1524.4 2136.5,1523.0 2137.5,1522.6 2138.5,1522.2 2139.5,1521.6 2140.5,1521.3 2141.5,1520.8 2142.5,1520.0 2143.5,1519.5 2144.5,1518.8 2145.5,1517.8 2146.5,1514.7 2147.5,1511.5 2148.5,1508.4 2149.5,1507.2 2150.5,1506.5 2151.5,1506.6 2152.5,1505.9 2153.5,1506.0 2154.5,1506.6 2155.5,1509.1 2156.5,1511.7 2157.5,1514.1 2158.5,1514.9 2159.5,1515.3 2160.5,1515.5 2161.5,1516.8 2162.5,1517.9 2163.5,1518.8 2164.5,1519.2 2165.5,1519.5 2166.5,1519.9 2167.5,1520.2 2168.5,1520.5 2169.5,1520.8 2170.5,1520.3 2171.5,1519.9 2172.5,1519.4 2173.5,1520.4 2174.5,1521.5 2175.5,1522.5 2176.5,1521.9 2177.5,1521.3 2178.5,1520.7 2179.5,1521.8 2180.5,1522.9 2181.5,1523.9 2182.5,1524.1 2183.5,1524.3 2184.5,1524.4 2185.5,1524.8 2186.5,1525.1 2187.5,1525.4 2188.5,1524.2 2189.5,1523.1 2190.5,1521.9 2191.5,1522.3 2192.5,1522.7 2193.5,1523.0 2194.5,1523.7 2195.5,1524.4 2196.5,1525.1 2197.5,1525.4 2198.5,1525.8 2199.5,1526.1 2200.5,1525.2 2201.5,1524.3 2202.5,1523.4 2203.5,1524.1 2204.5,1524.9 2205.5,1525.6 2206.5,1525.1 2207.5,1524.7 2208.5,1524.3 2209.5,1523.5 2210.5,1522.8 2211.5,1522.1 2212.5,1522.2 2213.5,1522.3 2214.5,1522.4 2215.5,1522.2 2216.5,1522.1 2217.5,1521.9 2218.5,1522.2 2219.5,1522.5 2220.5,1522.8 2221.5,1523.8 2222.5,1524.8 2223.5,1525.8 2224.5,1525.4 2225.5,1525.0 2226.5,1524.6 2227.5,1524.8 2228.5,1525.0 2229.5,1525.3 2230.5,1525.3 2231.5,1525.4 2232.5,1525.4 2233.5,1524.6 2234.5,1523.8 2235.5,1523.0 2236.5,1523.4 2237.5,1523.8 2238.5,1524.2 2239.5,1524.1 2240.5,1524.0 2241.5,1523.9 2242.5,1523.9 2243.5,1524.0 2244.5,1524.0 2245.5,1523.1 2246.5,1522.1 2247.5,1521.2 2248.5,1522.3 2249.5,1523.5 2250.5,1524.6 2251.5,1523.5 2252.5,1522.4 2253.5,1521.3 2254.5,1521.7 2255.5,1522.0 2256.5,1522.4 2257.5,1522.7 2258.5,1523.1 2259.5,1523.4 2260.5,1523.4 2261.5,1523.5 2262.5,1523.5 2263.5,1523.6 2264.5,1523.7 2265.5,1523.8 2266.5,1523.0 2267.5,1522.2 2268.5,1521.4 2269.5,1521.3 2270.5,1521.3 2271.5,1521.2 2272.5,1521.8 2273.5,1522.4 2274.5,1523.0 2275.5,1521.9 2276.5,1520.9 2277.5,1519.9 2278.5,1521.0 2279.5,1522.2 2280.5,1523.4 2281.5,1522.5 2282.5,1521.7 2283.5,1520.8 2284.5,1520.9 2285.5,1520.9 2286.5,1521.0 2287.5,1520.9 2288.5,1520.7 2289.5,1520.6 2290.5,1521.1 2291.5,1521.6 2292.5,1522.2 2293.5,1521.4 2294.5,1520.5 2295.5,1519.7 2296.5,1519.6 2297.5,1519.5 2298.5,1519.4 2299.5,1519.3 2300.5,1519.1 2301.5,1519.0 2302.5,1519.1 2303.5,1519.1 2304.5,1519.2 2305.5,1519.9 2306.5,1520.6 2307.5,1521.3 2308.5,1521.8 2309.5,1522.3 2310.5,1522.8 2311.5,1521.3 2312.5,1519.9 2313.5,1518.4 2314.5,1519.0 2315.5,1519.7 2316.5,1520.3 2317.5,1520.1 2318.5,1519.9 2319.5,1519.7 2320.5,1519.7 2321.5,1519.6 2322.5,1519.5 2323.5,1519.5 2324.5,1519.5 2325.5,1519.5 2326.5,1519.1 2327.5,1518.8 2328.5,1518.4 2329.5,1518.8 2330.5,1519.3 2331.5,1519.7 2332.5,1519.4 2333.5,1519.2 2334.5,1518.9 2335.5,1518.6 2336.5,1518.2 2337.5,1517.9 2338.5,1518.0 2339.5,1518.1 2340.5,1518.2 2341.5,1519.3 2342.5,1520.4 2343.5,1521.6 2344.5,1521.2 2345.5,1520.9 2346.5,1520.5 2347.5,1520.9 2348.5,1521.3 2349.5,1521.6 2350.5,1521.3 2351.5,1521.1 2352.5,1520.8 2353.5,1520.6 2354.5,1520.5 2355.5,1520.4 2356.5,1519.6 2357.5,1518.8 2358.5,1518.0 2359.5,1517.8 2360.5,1517.6 2361.5,1517.4 2362.5,1518.7 2363.5,1519.9 2364.5,1521.2 2365.5,1520.7 2366.5,1520.2 2367.5,1519.4 2368.5,1518.6 2369.5,1517.8 2370.5,1517.0 2371.5,1515.3 2372.5,1513.6 2373.5,1511.9 2374.5,1512.0 2375.5,1512.1 2376.5,1512.2 2377.5,1511.0 2378.5,1509.8 2379.5,1508.6 2380.5,1507.1 2381.5,1505.6 2382.5,1504.1 2383.5,1503.9 2384.5,1504.1 2385.5,1504.3 2386.5,1505.5 2387.5,1506.6 2388.5,1507.8 2389.5,1507.3 2390.5,1506.8 2391.5,1506.4 2392.5,1505.6 2393.5,1504.9 2394.5,1504.2 2395.5,1504.3 2396.5,1504.7 2397.5,1505.0 2398.5,1506.4 2399.5,1507.7 2400.5,1508.6 2401.5,1508.5 2402.5,1508.6 2403.5,1509.0" stroke="#FF4040"/>
<path d="M168.5,1193.8 169.5,1193.8 170.5,1193.9 171.5,1194.3 172.5,1194.5 173.5,1194.6 174.5,1194.6 175.5,1194.9 176.5,1195.1 177.5,1195.3 178.5,1194.4 179.5,1193.4 180.5,1192.4 181.5,1192.5 182.5,1192.5 183.5,1192.6 184.5,1192.5 185.5,1192.3 186.5,1192.2 187.5,1192.3 188.5,1192.4 189.5,1192.5 190.5,1193.3 191.5,1194.0 192.5,1194.8 193.5,1193.9 194.5,1193.0 195.5,1192.1 196.5,1192.7 197.5,1193.2 198.5,1193.8 199.5,1193.4 200.5,1192.9 201.5,1192.4 202.5,1192.5 203.5,1192.6 204.5,1192.8 205.5,1192.9 206.5,1193.1 207.5,1193.3 208.5,1193.9 209.5,1194.5 210.5,1195.1 211.5,1194.8 212.5,1194.4 213.5,1194.1 214.5,1193.2 215.5,1192.3 216.5,1191.5 217.5,1191.8 218.5,1192.2 219.5,1192.6 220.5,1192.4 221.5,1192.2 222.5,1192.0 223.5,1193.1 224.5,1194.1 225.5,1195.2 226.5,1195.1 227.5,1195.0 228.5,1194.9 229.5,1194.9 230.5,1194.9 231.5,1194.8 232.5,1194.9 233.5,1194.9 234.5,1194.9 235.5,1194.8 236.5,1194.7 237.5,1194.5 238.5,1194.8 239.5,1195.1 240.5,1195.4 241.5,1195.2 242.5,1195.0 243.5,1194.7 244.5,1193.9 245.5,1193.1 246.5,1192.3 247.5,1193.2 248.5,1194.1 249.5,1194.9 250.5,1194.4 251.5,1193.8 252.5,1193.3 253.5,1193.7 254.5,1194.1 255.5,1194.5 256.5,1194.2 257.5,1193.9 258.5,1193.6 259.5,1193.4 260.5,1193.2 261.5,1193.0 262.5,1192.9 263.5,1192.8 264.5,1192.7 265.5,1192.8 266.5,1192.9 267.5,1193.0 268.5,1192.8 269.5,1192.6 270.5,1192.4 271.5,1192.1 272.5,1191.8 273.5,1191.5 274.5,1192.6 275.5,1193.6 276.5,1194.6 277.5,1194.6 278.5,1194.5 279.5,1194.5 280.5,1194.8 281.5,1195.0 282.5,1195.3 283.5,1194.9 284.5,1194.4 285.5,1194.0 286.5,1193.8 287.5,1193.6 288.5,1193.3 289.5,1193.6 290.5,1193.9 291.5,1194.2 292.5,1193.3 293.5,1192.4 294.5,1191.5 295.5,1192.2 296.5,1193.0 297.5,1193.8 298.5,1193.5 299.5,1193.1 300.5,1192.8 301.5,1192.4 302.5,1192.0 303.5,1191.6 304.5,1191.6 305.5,1191.6 306.5,1191.6 307.5,1192.1 308.5,1192.6 309.5,1193.0 310.5,1192.6 311.5,1192.2 312.5,1191.8 313.5,1192.1 314.5,1192.4 315.5,1192.7 316.5,1192.9 317.5,1193.1 318.5,1193.3 319.5,1193.0 320.5,1192.7 321.5,1192.3 322.5,1191.9 323.5,1191.5 324.5,1191.1 325.5,1191.7 326.5,1192.2 327.5,1192.7 328.5,1192.3 329.5,1191.9 330.5,1191.5 331.5,1191.5 332.5,1191.5 333.5,1191.5 334.5,1191.4 335.5,1191.4 336.5,1191.3 337.5,1191.5 338.5,1191.8 339.5,1192.0 340.5,1191.6 341.5,1191.1 342.5,1190.7 343.5,1191.5 344.5,1192.3 345.5,1193.2 346.5,1193.6 347.5,1194.0 348.5,1194.5 349.5,1193.6 350.5,1192.8 351.5,1191.9 352.5,1192.4 353.5,1192.9 354.5,1193.3 355.5,1193.6 356.5,1193.9 357.5,1194.2 358.5,1192.9 359.5,1191.6 360.5,1190.2 361.5,1190.4 362.5,1190.5 363.5,1190.6 364.5,1191.6 365.5,1192.5 366.5,1193.5 367.5,1193.5 368.5,1193.5 369.5,1193.5 370.5,1193.2 371.5,1192.9 372.5,1192.5 373.5,1191.8 374.5,1191.1 375.5,1190.3 376.5,1190.7 377.5,1191.0 378.5,1191.3 379.5,1192.0 380.5,1192.6 381.5,1193.2 382.5,1193.2 383.5,1193.1 384.5,1193.1 385.5,1192.9 386.5,1192.8 387.5,1192.6 388.5,1191.6 389.5,1190.7 390.5,1189.7 391.5,1190.6 392.5,1191.5 393.5,1192.3 394.5,1191.5 395.5,1190.7 396.5,1189.9 397.5,1190.3 398.5,1190.7 399.5,1191.1 400.5,1190.1 401.5,1189.1 402.5,1188.1 403.5,1189.2 404.5,1190.2 405.5,1191.3 406.5,1190.6 407.5,1189.8 408.5,1189.1 409.5,1189.1 410.5,1189.1 411.5,1189.0 412.5,1188.0 413.5,1187.1 414.5,1186.1 415.5,1186.4 416.5,1186.7 417.5,1187.1 418.5,1186.7 419.5,1186.4 420.5,1186.0 421.5,1185.7 422.5,1185.4 423.5,1185.0 424.5,1184.3 425.5,1183.5 426.5,1182.8 427.5,1182.8 428.5,1182.8 429.5,1182.7 430.5,1181.4 431.5,1180.1 432.5,1178.6 433.5,1177.5 434.5,1176.3 435.5,1174.9 436.5,1173.3 437.5,1171.5 438.5,1169.5 439.5,1168.4 440.5,1167.1 441.5,1165.6 442.5,1162.5 443.5,1159.4 444.5,1156.3 445.5,1154.3 446.5,1152.7 447.5,1151.4 448.5,1150.2 449.5,1149.6 450.5,1149.6 451.5,1151.2 452.5,1153.2 453.5,1155.5 454.5,1157.1 455.5,1158.7 456.5,1160.3 457.5,1161.9 458.5,1163.4 459.5,1164.8 460.5,1165.2 461.5,1165.4 462.5,1165.4 463.5,1166.5 464.5,1167.4 465.5,1168.0 466.5,1167.8 467.5,1167.2 468.5,1166.5 469.5,1165.2 470.5,1163.6 471.5,1161.7 472.5,1159.5 473.5,1156.9 474.5,1153.6 475.5,1151.3 476.5,1148.0 477.5,1143.8 478.5,1135.7 479.5,1126.4 480.5,1115.6 481.5,1104.8 482.5,1092.5 483.5,1078.5 484.5,1062.6 485.5,1045.3 486.5,1026.6 487.5,1007.5 488.5,987.8 489.5,968.1 490.5,947.7 491.5,928.8 492.5,912.1 493.5,900.1 494.5,892.1 495.5,888.9 496.5,890.1 497.5,896.2 498.5,906.7 499.5,921.7 500.5,939.4 501.5,958.9 502.5,977.4 503.5,996.2 504.5,1014.7 505.5,1034.0 506.5,1052.2 507.5,1069.0 508.5,1084.1 509.5,1097.6 510.5,1109.5 511.5,1120.3 512.5,1129.8 513.5,1137.9 514.5,1143.6 515.5,1148.2 516.5,1152.0 517.5,1155.6 518.5,1158.7 519.5,1161.3 520.5,1163.8 521.5,1166.0 522.5,1168.0 523.5,1168.9 524.5,1169.6 525.5,1170.3 526.5,1171.0 527.5,1171.6 528.5,1172.1 529.5,1173.7 530.5,1175.2 531.5,1176.6 532.5,1177.9 533.5,1179.2 534.5,1180.4 535.5,1180.7 536.5,1181.0 537.5,1181.3 538.5,1181.1 539.5,1180.9 540.5,1180.6 541.5,1181.6 542.5,1182.7 543.5,1183.6 544.5,1184.2 545.5,1184.8 546.5,1185.3 547.5,1184.8 548.5,1184.1 549.5,1183.5 550.5,1184.2 551.5,1184.9 552.5,1185.6 553.5,1185.5 554.5,1185.3 555.5,1185.1 556.5,1185.1 557.5,1185.1 558.5,1185.1 559.5,1185.2 560.5,1185.4 561.5,1185.6 562.5,1185.6 563.5,1185.6 564.5,1185.6 565.5,1185.9 566.5,1186.3 567.5,1186.6 568.5,1186.2 569.5,1185.8 570.5,1185.5 571.5,1186.1 572.5,1186.7 573.5,1187.3 574.5,1186.9 575.5,1186.5 576.5,1186.1 577.5,1187.2 578.5,1188.2 579.5,1189.3 580.5,1189.1 581.5,1188.9 582.5,1188.7 583.5,1187.9 584.5,1187.1 585.5,1186.3 586.5,1187.5 587.5,1188.6 588.5,1189.8 589.5,1189.0 590.5,1188.2 591.5,1187.4 592.5,1187.8 593.5,1188.3 594.5,1188.8 595.5,1188.9 596.5,1189.1 597.5,1189.2 598.5,1188.9 599.5,1188.6 600.5,1188.3 601.5,1188.3 602.5,1188.3 603.5,1188.2 604.5,1188.5 605.5,1188.7 606.5,1189.0 607.5,1188.6 608.5,1188.2 609.5,1187.8 610.5,1188.8 611.5,1189.9 612.5,1191.0 613.5,1190.0 614.5,1188.9 615.5,1187.8 616.5,1188.9 617.5,1189.9 618.5,1191.0 619.5,1190.2 620.5,1189.3 621.5,1188.4 622.5,1188.6 623.5,1188.7 624.5,1188.9 625.5,1189.0 626.5,1189.2 627.5,1189.3 628.5,1188.8 629.5,1188.3 630.5,1187.8 631.5,1188.0 632.5,1188.1 633.5,1188.3 634.5,1188.6 635.5,1189.0 636.5,1189.4 637.5,1189.5 638.5,1189.6 639.5,1189.8 640.5,1190.4 641.5,1191.1 642.5,1191.7 643.5,1191.9 644.5,1192.1 645.5,1192.3 646.5,1190.9 647.5,1189.6 648.5,1188.2 649.5,1188.9 650.5,1189.7 651.5,1190.4 652.5,1189.8 653.5,1189.2 654.5,1188.6 655.5,1189.6 656.5,1190.6 657.5,1191.6 658.5,1190.9 659.5,1190.2 660.5,1189.5 661.5,1190.3 662.5,1191.2 663.5,1192.0 664.5,1191.5 665.5,1191.0 666.5,1190.5 667.5,1189.9 668.5,1189.3 669.5,1188.7 670.5,1188.5 671.5,1188.3 672.5,1188.1 673.5,1188.5 674.5,1188.9 675.5,1189.2 676.5,1190.1 677.5,1191.0 678.5,1191.9 679.5,1190.9 680.5,1189.8 681.5,1188.8 682.5,1189.3 683.5,1189.8 684.5,1190.2 685.5,1190.1 686.5,1189.9 687.5,1189.8 688.5,1189.7 689.5,1189.7 690.5,1189.6 691.5,1190.3 692.5,1191.0 693.5,1191.6 694.5,1190.8 695.5,1189.9 696.5,1189.0 697.5,1189.8 698.5,1190.5 699.5,1191.2 700.5,1191.1 701.5,1191.1 702.5,1191.0 703.5,1191.3 704.5,1191.7 705.5,1192.1 706.5,1191.5 707.5,1190.9 708.5,1190.2 709.5,1190.8 710.5,1191.4 711.5,1192.0 712.5,1191.2 713.5,1190.5 714.5,1189.8 715.5,1190.0 716.5,1190.1 717.5,1190.3 718.5,1190.3 719.5,1190.4 720.5,1190.4 721.5,1190.7 722.5,1191.0 723.5,1191.3 724.5,1191.3 725.5,1191.3 726.5,1191.4 727.5,1190.2 728.5,1189.0 729.5,1187.8 730.5,1187.7 731.5,1187.7 732.5,1187.6 733.5,1188.1 734.5,1188.6 735.5,1189.1 736.5,1189.4 737.5,1189.7 738.5,1189.9 739.5,1189.4 740.5,1188.8 741.5,1188.2 742.5,1187.7 743.5,1187.1 744.5,1186.5 745.5,1187.2 746.5,1187.9 747.5,1188.5 748.5,1187.1 749.5,1185.7 750.5,1184.2 751.5,1183.3 752.5,1182.3 753.5,1181.2 754.5,1180.3 755.5,1179.1 756.5,1177.8 757.5,1176.2 758.5,1174.2 759.5,1171.8 760.5,1169.9 761.5,1167.3 762.5,1163.8 763.5,1157.3 764.5,1149.7 765.5,1140.9 766.5,1133.0 767.5,1124.8 768.5,1117.5 769.5,1112.5 770.5,1111.8 771.5,1115.7 772.5,1122.9 773.5,1131.8 774.5,1140.7 775.5,1148.4 776.5,1154.9 777.5,1160.2 778.5,1164.2 779.5,1167.3 780.5,1169.7 781.5,1172.3 782.5,1174.4 783.5,1176.2 784.5,1177.7 785.5,1179.1 786.5,1180.3 787.5,1180.8 788.5,1181.3 789.5,1181.7 790.5,1181.6 791.5,1181.5 792.5,1181.3 793.5,1182.5 794.5,1183.6 795.5,1184.6 796.5,1184.0 797.5,1183.4 798.5,1182.8 799.5,1183.5 800.5,1184.1 801.5,1184.7 802.5,1186.0 803.5,1187.3 804.5,1188.6 805.5,1188.1 806.5,1187.5 807.5,1187.0 808.5,1187.0 809.5,1186.9 810.5,1186.8 811.5,1187.8 812.5,1188.7 813.5,1189.7 814.5,1189.4 815.5,1189.0 816.5,1188.7 817.5,1188.2 818.5,1187.7 819.5,1187.1 820.5,1187.3 821.5,1187.5 822.5,1187.6 823.5,1188.0 824.5,1188.5 825.5,1188.9 826.5,1189.1 827.5,1189.2 828.5,1189.4 829.5,1190.4 830.5,1191.3 831.5,1192.3 832.5,1191.3 833.5,1190.3 834.5,1189.4 835.5,1190.3 836.5,1191.2 837.5,1192.1 838.5,1192.2 839.5,1192.2 840.5,1192.2 841.5,1191.6 842.5,1191.0 843.5,1190.4 844.5,1191.2 845.5,1192.1 846.5,1193.0 847.5,1192.7 848.5,1192.3 849.5,1192.0 850.5,1191.6 851.5,1191.2 852.5,1190.8 853.5,1190.5 854.5,1190.2 855.5,1189.9 856.5,1190.2 857.5,1190.5 858.5,1190.8 859.5,1191.5 860.5,1192.1 861.5,1192.8 862.5,1192.3 863.5,1191.7 864.5,1191.2 865.5,1190.7 866.5,1190.2 867.5,1189.7 868.5,1190.0 869.5,1190.2 870.5,1190.5 871.5,1190.7 872.5,1190.8 873.5,1191.0 874.5,1190.6 875.5,1190.1 876.5,1189.7 877.5,1190.3 878.5,1190.9 879.5,1191.4 880.5,1190.6 881.5,1189.8 882.5,1189.1 883.5,1190.2 884.5,1191.4 885.5,1192.5 886.5,1191.6 887.5,1190.7 888.5,1189.7 889.5,1189.6 890.5,1189.5 891.5,1189.4 892.5,1190.1 893.5,1190.8 894.5,1191.5 895.5,1191.1 896.5,1190.7 897.5,1190.3 898.5,1191.1 899.5,1192.0 900.5,1192.8 901.5,1192.3 902.5,1191.7 903.5,1191.1 904.5,1191.2 905.5,1191.2 906.5,1191.2 907.5,1191.7 908.5,1192.2 909.5,1192.6 910.5,1191.7 911.5,1190.8 912.5,1189.9 913.5,1190.7 914.5,1191.5 915.5,1192.2 916.5,1192.1 917.5,1191.9 918.5,1191.8 919.5,1191.5 920.5,1191.2 921.5,1190.8 922.5,1191.6 923.5,1192.4 924.5,1193.2 925.5,1191.8 926.5,1190.4 927.5,1189.0 928.5,1190.3 929.5,1191.5 930.5,1192.7 931.5,1191.7 932.5,1190.6 933.5,1189.6 934.5,1190.6 935.5,1191.6 936.5,1192.6 937.5,1191.6 938.5,1190.6 939.5,1189.6 940.5,1189.5 941.5,1189.3 942.5,1189.2 943.5,1189.8 944.5,1190.5 945.5,1191.1 946.5,1191.8 947.5,1192.4 948.5,1193.0 949.5,1192.0 950.5,1191.0 951.5,1190.1 952.5,1190.4 953.5,1190.7 954.5,1191.1 955.5,1191.2 956.5,1191.4 957.5,1191.6 958.5,1191.1 959.5,1190.5 960.5,1190.0 961.5,1190.4 962.5,1190.8 963.5,1191.3 964.5,1190.5 965.5,1189.7 966.5,1189.0 967.5,1189.6 968.5,1190.2 969.5,1190.9 970.5,1191.3 971.5,1191.8 972.5,1192.2 973.5,1191.6 974.5,1191.0 975.5,1190.4 976.5,1190.2 977.5,1190.0 978.5,1189.9 979.5,1189.6 980.5,1189.4 981.5,1189.1 982.5,1190.1 983.5,1191.0 984.5,1192.0 985.5,1191.6 986.5,1191.2 987.5,1190.8 988.5,1191.5 989.5,1192.2 990.5,1192.9 991.5,1192.6 992.5,1192.4 993.5,1192.1 994.5,1191.2 995.5,1190.2 996.5,1189.3 997.5,1190.5 998.5,1191.7 999.5,1192.9 1000.5,1192.9 1001.5,1192.9 1002.5,1192.9 1003.5,1192.8 1004.5,1192.6 1005.5,1192.4 1006.5,1192.5 1007.5,1192.5 1008.5,1192.5 1009.5,1192.3 1010.5,1192.0 1011.5,1191.8 1012.5,1191.9 1013.5,1191.9 1014.5,1192.0 1015.5,1191.9 1016.5,1191.8 1017.5,1191.7 1018.5,1191.6 1019.5,1191.5 1020.5,1191.4 1021.5,1190.9 1022.5,1190.4 1023.5,1189.9 1024.5,1189.7 1025.5,1189.5 1026.5,1189.4 1027.5,1190.2 1028.5,1191.1 1029.5,1192.0 1030.5,1191.8 1031.5,1191.6 1032.5,1191.4 1033.5,1190.6 1034.5,1189.8 1035.5,1189.0 1036.5,1189.8 1037.5,1190.7 1038.5,1191.5 1039.5,1191.5 1040.5,1191.4 1041.5,1191.4 1042.5,1191.2 1043.5,1191.1 1044.5,1190.9 1045.5,1191.3 1046.5,1191.7 1047.5,1192.0 1048.5,1192.2 1049.5,1192.3 1050.5,1192.5 1051.5,1191.7 1052.5,1191.0 1053.5,1190.2 1054.5,1190.9 1055.5,1191.5 1056.5,1192.1 1057.5,1191.6 1058.5,1191.1 1059.5,1190.6 1060.5,1190.7 1061.5,1190.8 1062.5,1190.9 1063.5,1190.6 1064.5,1190.3 1065.5,1190.1 1066.5,1190.8 1067.5,1191.5 1068.5,1192.2 1069.5,1191.4 1070.5,1190.6 1071.5,1189.7 1072.5,1190.3 1073.5,1190.8 1074.5,1191.2 1075.5,1189.9 1076.5,1188.5 1077.5,1186.9 1078.5,1186.6 1079.5,1186.0 1080.5,1185.2 1081.5,1184.1 1082.5,1182.9 1083.5,1181.5 1084.5,1179.3 1085.5,1177.3 1086.5,1175.5 1087.5,1173.9 1088.5,1172.9 1089.5,1172.5 1090.5,1172.8 1091.5,1173.6 1092.5,1174.7 1093.5,1177.0 1094.5,1179.4 1095.5,1181.7 1096.5,1183.2 1097.5,1184.5 1098.5,1185.6 1099.5,1187.2 1100.5,1188.6 1101.5,1189.8 1102.5,1190.2 1103.5,1190.6 1104.5,1190.8 1105.5,1191.3 1106.5,1191.8 1107.5,1192.2 1108.5,1191.5 1109.5,1190.8 1110.5,1190.0 1111.5,1190.0 1112.5,1190.0 1113.5,1190.0 1114.5,1190.3 1115.5,1190.5 1116.5,1190.8 1117.5,1191.1 1118.5,1191.4 1119.5,1191.6 1120.5,1190.7 1121.5,1189.7 1122.5,1188.7 1123.5,1189.0 1124.5,1189.2 1125.5,1189.4 1126.5,1189.3 1127.5,1189.2 1128.5,1189.1 1129.5,1189.4 1130.5,1189.6 1131.5,1189.9 1132.5,1189.9 1133.5,1189.8 1134.5,1189.8 1135.5,1190.8 1136.5,1191.8 1137.5,1192.7 1138.5,1191.6 1139.5,1190.5 1140.5,1189.4 1141.5,1190.5 1142.5,1191.5 1143.5,1192.6 1144.5,1191.7 1145.5,1190.7 1146.5,1189.8 1147.5,1189.7 1148.5,1189.5 1149.5,1189.4 1150.5,1190.5 1151.5,1191.6 1152.5,1192.8 1153.5,1191.5 1154.5,1190.2 1155.5,1188.9 1156.5,1188.9 1157.5,1188.9 1158.5,1189.0 1159.5,1189.0 1160.5,1189.0 1161.5,1189.0 1162.5,1189.0 1163.5,1188.9 1164.5,1188.8 1165.5,1189.2 1166.5,1189.7 1167.5,1190.2 1168.5,1189.9 1169.5,1189.7 1170.5,1189.4 1171.5,1189.3 1172.5,1189.2 1173.5,1189.2 1174.5,1188.9 1175.5,1188.7 1176.5,1188.5 1177.5,1189.5 1178.5,1190.5 1179.5,1191.5 1180.5,1190.6 1181.5,1189.6 1182.5,1188.7 1183.5,1188.9 1184.5,1189.2 1185.5,1189.5 1186.5,1189.9 1187.5,1190.4 1188.5,1190.9 1189.5,1191.4 1190.5,1191.8 1191.5,1192.3 1192.5,1192.0 1193.5,1191.6 1194.5,1191.3 1195.5,1191.4 1196.5,1191.5 1197.5,1191.5 1198.5,1191.5 1199.5,1191.5 1200.5,1191.5 1201.5,1191.6 1202.5,1191.8 1203.5,1191.9 1204.5,1192.0 1205.5,1192.1 1206.5,1192.1 1207.5,1191.1 1208.5,1190.1 1209.5,1189.1 1210.5,1188.9 1211.5,1188.7 1212.5,1188.6 1213.5,1189.4 1214.5,1190.3 1215.5,1191.1 1216.5,1190.9 1217.5,1190.8 1218.5,1190.6 1219.5,1190.6 1220.5,1190.6 1221.5,1190.6 1222.5,1191.0 1223.5,1191.4 1224.5,1191.8 1225.5,1190.9 1226.5,1190.0 1227.5,1189.1 1228.5,1189.9 1229.5,1190.6 1230.5,1191.4 1231.5,1191.0 1232.5,1190.6 1233.5,1190.2 1234.5,1190.2 1235.5,1190.2 1236.5,1190.1 1237.5,1189.9 1238.5,1189.6 1239.5,1189.4 1240.5,1189.4 1241.5,1189.5 1242.5,1189.5 1243.5,1189.9 1244.5,1190.4 1245.5,1190.8 1246.5,1190.8 1247.5,1190.7 1248.5,1190.7 1249.5,1191.2 1250.5,1191.7 1251.5,1192.2 1252.5,1191.3 1253.5,1190.4 1254.5,1189.5 1255.5,1190.1 1256.5,1190.7 1257.5,1191.4 1258.5,1190.5 1259.5,1189.6 1260.5,1188.6 1261.5,1189.5 1262.5,1190.3 1263.5,1191.1 1264.5,1190.4 1265.5,1189.6 1266.5,1188.9 1267.5,1189.9 1268.5,1190.9 1269.5,1192.0 1270.5,1192.1 1271.5,1192.3 1272.5,1192.4 1273.5,1191.4 1274.5,1190.3 1275.5,1189.3 1276.5,1190.1 1277.5,1190.9 1278.5,1191.7 1279.5,1190.9 1280.5,1190.0 1281.5,1189.1 1282.5,1189.2 1283.5,1189.4 1284.5,1189.5 1285.5,1189.2 1286.5,1188.9 1287.5,1188.6 1288.5,1189.1 1289.5,1189.6 1290.5,1190.1 1291.5,1189.6 1292.5,1189.1 1293.5,1188.6 1294.5,1189.4 1295.5,1190.3 1296.5,1191.2 1297.5,1191.0 1298.5,1190.8 1299.5,1190.6 1300.5,1190.4 1301.5,1190.2 1302.5,1189.9 1303.5,1190.4 1304.5,1190.8 1305.5,1191.2 1306.5,1190.5 1307.5,1189.8 1308.5,1189.1 1309.5,1189.2 1310.5,1189.4 1311.5,1189.5 1312.5,1189.6 1313.5,1189.6 1314.5,1189.6 1315.5,1189.1 1316.5,1188.6 1317.5,1188.0 1318.5,1189.3 1319.5,1190.6 1320.5,1191.9 1321.5,1190.8 1322.5,1189.6 1323.5,1188.4 1324.5,1188.4 1325.5,1188.4 1326.5,1188.5 1327.5,1189.5 1328.5,1190.5 1329.5,1191.5 1330.5,1191.5 1331.5,1191.6 1332.5,1191.6 1333.5,1191.0 1334.5,1190.5 1335.5,1189.9 1336.5,1189.9 1337.5,1189.9 1338.5,1189.8 1339.5,1189.4 1340.5,1189.0 1341.5,1188.6 1342.5,1188.4 1343.5,1188.2 1344.5,1188.0 1345.5,1188.7 1346.5,1189.5 1347.5,1190.2 1348.5,1189.8 1349.5,1189.4 1350.5,1189.0 1351.5,1188.9 1352.5,1188.7 1353.5,1188.6 1354.5,1189.7 1355.5,1190.8 1356.5,1191.9 1357.5,1190.6 1358.5,1189.3 1359.5,1188.0 1360.5,1188.5 1361.5,1189.0 1362.5,1189.5 1363.5,1190.1 1364.5,1190.6 1365.5,1191.2 1366.5,1191.2 1367.5,1191.2 1368.5,1191.2 1369.5,1190.2 1370.5,1189.3 1371.5,1188.3 1372.5,1189.3 1373.5,1190.2 1374.5,1191.1 1375.5,1190.9 1376.5,1190.6 1377.5,1190.3 1378.5,1190.4 1379.5,1190.5 1380.5,1190.6 1381.5,1191.1 1382.5,1191.5 1383.5,1192.0 1384.5,1191.8 1385.5,1191.5 1386.5,1191.3 1387.5,1191.0 1388.5,1190.7 1389.5,1190.4 1390.5,1190.7 1391.5,1190.9 1392.5,1191.2 1393.5,1190.8 1394.5,1190.4 1395.5,1189.9 1396.5,1190.0 1397.5,1190.1 1398.5,1190.2 1399.5,1190.6 1400.5,1191.0 1401.5,1191.4 1402.5,1191.1 1403.5,1190.8 1404.5,1190.5 1405.5,1190.1 1406.5,1189.7 1407.5,1189.4 1408.5,1188.9 1409.5,1188.3 1410.5,1187.8 1411.5,1188.9 1412.5,1190.0 1413.5,1191.2 1414.5,1190.5 1415.5,1189.8 1416.5,1189.2 1417.5,1189.3 1418.5,1189.4 1419.5,1189.5 1420.5,1189.3 1421.5,1189.1 1422.5,1188.9 1423.5,1189.3 1424.5,1189.7 1425.5,1190.1 1426.5,1189.8 1427.5,1189.6 1428.5,1189.4 1429.5,1190.0 1430.5,1190.6 1431.5,1191.3 1432.5,1190.9 1433.5,1190.5 1434.5,1190.2 1435.5,1190.1 1436.5,1190.1 1437.5,1190.0 1438.5,1190.3 1439.5,1190.7 1440.5,1191.0 1441.5,1190.5 1442.5,1190.0 1443.5,1189.5 1444.5,1189.6 1445.5,1189.7 1446.5,1189.9 1447.5,1190.2 1448.5,1190.5 1449.5,1190.8 1450.5,1190.7 1451.5,1190.7 1452.5,1190.7 1453.5,1190.7 1454.5,1190.7 1455.5,1190.7 1456.5,1190.9 1457.5,1191.1 1458.5,1191.4 1459.5,1190.9 1460.5,1190.4 1461.5,1189.9 1462.5,1189.9 1463.5,1189.9 1464.5,1189.8 1465.5,1189.3 1466.5,1188.8 1467.5,1188.2 1468.5,1188.3 1469.5,1188.4 1470.5,1188.4 1471.5,1188.7 1472.5,1189.0 1473.5,1189.3 1474.5,1189.4 1475.5,1189.4 1476.5,1189.5 1477.5,1190.1 1478.5,1190.7 1479.5,1191.3 1480.5,1190.0 1481.5,1188.7 1482.5,1187.5 1483.5,1187.9 1484.5,1188.4 1485.5,1188.8 1486.5,1189.4 1487.5,1190.0 1488.5,1190.5 1489.5,1190.1 1490.5,1189.7 1491.5,1189.3 1492.5,1189.8 1493.5,1190.4 1494.5,1191.0 1495.5,1189.9 1496.5,1188.9 1497.5,1187.9 1498.5,1188.8 1499.5,1189.7 1500.5,1190.6 1501.5,1190.1 1502.5,1189.6 1503.5,1189.1 1504.5,1189.3 1505.5,1189.5 1506.5,1189.7 1507.5,1188.9 1508.5,1188.2 1509.5,1187.4 1510.5,1187.9 1511.5,1188.4 1512.5,1188.9 1513.5,1189.5 1514.5,1190.1 1515.5,1190.6 1516.5,1190.5 1517.5,1190.4 1518.5,1190.3 1519.5,1190.1 1520.5,1189.8 1521.5,1189.6 1522.5,1189.3 1523.5,1189.1 1524.5,1188.9 1525.5,1188.4 1526.5,1187.8 1527.5,1187.2 1528.5,1188.2 1529.5,1189.1 1530.5,1190.1 1531.5,1189.7 1532.5,1189.3 1533.5,1189.0 1534.5,1189.4 1535.5,1189.8 1536.5,1190.2 1537.5,1190.0 1538.5,1189.8 1539.5,1189.7 1540.5,1189.4 1541.5,1189.0 1542.5,1188.7 1543.5,1189.4 1544.5,1190.1 1545.5,1190.8 1546.5,1189.7 1547.5,1188.6 1548.5,1187.5 1549.5,1188.7 1550.5,1189.9 1551.5,1191.1 1552.5,1189.8 1553.5,1188.6 1554.5,1187.3 1555.5,1188.6 1556.5,1189.8 1557.5,1191.1 1558.5,1190.6 1559.5,1190.0 1560.5,1189.4 1561.5,1189.2 1562.5,1189.0 1563.5,1188.8 1564.5,1189.5 1565.5,1190.2 1566.5,1190.9 1567.5,1190.3 1568.5,1189.7 1569.5,1189.1 1570.5,1189.0 1571.5,1189.0 1572.5,1189.0 1573.5,1188.4 1574.5,1187.7 1575.5,1187.0 1576.5,1188.1 1577.5,1189.2 1578.5,1190.3 1579.5,1190.0 1580.5,1189.8 1581.5,1189.5 1582.5,1189.0 1583.5,1188.4 1584.5,1187.8 1585.5,1187.6 1586.5,1187.4 1587.5,1187.2 1588.5,1187.6 1589.5,1188.1 1590.5,1188.5 1591.5,1189.3 1592.5,1190.0 1593.5,1190.8 1594.5,1190.7 1595.5,1190.6 1596.5,1190.5 1597.5,1189.9 1598.5,1189.3 1599.5,1188.7 1600.5,1188.0 1601.5,1187.4 1602.5,1186.8 1603.5,1187.9 1604.5,1189.1 1605.5,1190.2 1606.5,1189.3 1607.5,1188.4 1608.5,1187.5 1609.5,1188.2 1610.5,1189.0 1611.5,1189.8 1612.5,1189.4 1613.5,1189.1 1614.5,1188.7 1615.5,1189.4 1616.5,1190.1 1617.5,1190.8 1618.5,1189.6 1619.5,1188.4 1620.5,1187.2 1621.5,1188.1 1622.5,1189.0 1623.5,1190.0 1624.5,1189.9 1625.5,1189.8 1626.5,1189.6 1627.5,1188.6 1628.5,1187.6 1629.5,1186.5 1630.5,1187.3 1631.5,1188.1 1632.5,1188.9 1633.5,1188.5 1634.5,1188.1 1635.5,1187.7 1636.5,1188.3 1637.5,1188.9 1638.5,1189.5 1639.5,1189.8 1640.5,1190.2 1641.5,1190.6 1642.5,1190.2 1643.5,1189.7 1644.5,1189.3 1645.5,1189.0 1646.5,1188.8 1647.5,1188.5 1648.5,1188.7 1649.5,1188.8 1650.5,1189.0 1651.5,1188.5 1652.5,1187.9 1653.5,1187.4 1654.5,1187.7 1655.5,1188.0 1656.5,1188.4 1657.5,1187.8 1658.5,1187.3 1659.5,1186.8 1660.5,1187.7 1661.5,1188.6 1662.5,1189.4 1663.5,1188.5 1664.5,1187.5 1665.5,1186.5 1666.5,1187.2 1667.5,1187.9 1668.5,1188.5 1669.5,1188.0 1670.5,1187.5 1671.5,1187.0 1672.5,1187.6 1673.5,1188.1 1674.5,1188.7 1675.5,1187.9 1676.5,1187.2 1677.5,1186.4 1678.5,1186.4 1679.5,1186.3 1680.5,1186.3 1681.5,1187.1 1682.5,1188.0 1683.5,1188.9 1684.5,1189.0 1685.5,1189.2 1686.5,1189.3 1687.5,1189.5 1688.5,1189.8 1689.5,1190.0 1690.5,1189.7 1691.5,1189.4 1692.5,1189.1 1693.5,1189.5 1694.5,1190.0 1695.5,1190.4 1696.5,1189.2 1697.5,1187.9 1698.5,1186.7 1699.5,1187.4 1700.5,1188.1 1701.5,1188.8 1702.5,1188.8 1703.5,1188.8 1704.5,1188.8 1705.5,1188.1 1706.5,1187.4 1707.5,1186.8 1708.5,1186.7 1709.5,1186.6 1710.5,1186.6 1711.5,1186.7 1712.5,1186.9 1713.5,1187.0 1714.5,1187.4 1715.5,1187.8 1716.5,1188.2 1717.5,1188.6 1718.5,1189.0 1719.5,1189.4 1720.5,1189.3 1721.5,1189.1 1722.5,1189.0 1723.5,1188.8 1724.5,1188.6 1725.5,1188.4 1726.5,1187.7 1727.5,1186.9 1728.5,1186.2 1729.5,1187.1 1730.5,1188.1 1731.5,1189.0 1732.5,1188.7 1733.5,1188.4 1734.5,1188.1 1735.5,1187.6 1736.5,1187.1 1737.5,1186.5 1738.5,1187.2 1739.5,1187.8 1740.5,1188.5 1741.5,1187.9 1742.5,1187.4 1743.5,1186.8 1744.5,1186.9 1745.5,1187.0 1746.5,1187.1 1747.5,1187.3 1748.5,1187.5 1749.5,1187.7 1750.5,1188.1 1751.5,1188.6 1752.5,1189.0 1753.5,1188.1 1754.5,1187.1 1755.5,1186.2 1756.5,1186.6 1757.5,1187.1 1758.5,1187.6 1759.5,1187.3 1760.5,1187.0 1761.5,1186.7 1762.5,1187.3 1763.5,1187.9 1764.5,1188.6 1765.5,1188.8 1766.5,1189.0 1767.5,1189.2 1768.5,1188.4 1769.5,1187.6 1770.5,1186.8 1771.5,1187.4 1772.5,1188.1 1773.5,1188.7 1774.5,1188.4 1775.5,1188.0 1776.5,1187.6 1777.5,1187.2 1778.5,1186.9 1779.5,1186.5 1780.5,1186.6 1781.5,1186.7 1782.5,1186.7 1783.5,1187.1 1784.5,1187.5 1785.5,1187.9 1786.5,1188.3 1787.5,1188.6 1788.5,1189.0 1789.5,1188.7 1790.5,1188.4 1791.5,1188.1 1792.5,1187.2 1793.5,1186.3 1794.5,1185.4 1795.5,1186.6 1796.5,1187.7 1797.5,1188.9 1798.5,1188.6 1799.5,1188.3 1800.5,1188.0 1801.5,1187.7 1802.5,1187.5 1803.5,1187.2 1804.5,1187.0 1805.5,1186.7 1806.5,1186.4 1807.5,1186.7 1808.5,1187.0 1809.5,1187.3 1810.5,1187.7 1811.5,1188.0 1812.5,1188.4 1813.5,1187.8 1814.5,1187.1 1815.5,1186.5 1816.5,1186.3 1817.5,1186.1 1818.5,1185.9 1819.5,1187.0 1820.5,1188.1 1821.5,1189.1 1822.5,1188.5 1823.5,1187.8 1824.5,1187.2 1825.5,1186.6 1826.5,1186.1 1827.5,1185.5 1828.5,1186.7 1829.5,1187.9 1830.5,1189.1 1831.5,1188.0 1832.5,1186.8 1833.5,1185.7 1834.5,1186.0 1835.5,1186.4 1836.5,1186.8 1837.5,1187.2 1838.5,1187.5 1839.5,1187.9 1840.5,1187.9 1841.5,1188.0 1842.5,1188.1 1843.5,1188.4 1844.5,1188.7 1845.5,1189.1 1846.5,1188.0 1847.5,1186.9 1848.5,1185.9 1849.5,1186.4 1850.5,1187.0 1851.5,1187.6 1852.5,1188.0 1853.5,1188.5 1854.5,1188.9 1855.5,1188.3 1856.5,1187.7 1857.5,1187.1 1858.5,1187.5 1859.5,1187.8 1860.5,1188.2 1861.5,1187.8 1862.5,1187.4 1863.5,1187.1 1864.5,1187.4 1865.5,1187.8 1866.5,1188.1 1867.5,1188.5 1868.5,1188.8 1869.5,1189.2 1870.5,1188.3 1871.5,1187.4 1872.5,1186.4 1873.5,1187.0 1874.5,1187.6 1875.5,1188.2 1876.5,1187.6 1877.5,1187.0 1878.5,1186.4 1879.5,1187.2 1880.5,1188.0 1881.5,1188.8 1882.5,1188.6 1883.5,1188.4 1884.5,1188.2 1885.5,1188.4 1886.5,1188.5 1887.5,1188.6 1888.5,1188.7 1889.5,1188.7 1890.5,1188.7 1891.5,1188.3 1892.5,1187.9 1893.5,1187.4 1894.5,1188.0 1895.5,1188.5 1896.5,1189.0 1897.5,1187.8 1898.5,1186.6 1899.5,1185.5 1900.5,1186.1 1901.5,1186.7 1902.5,1187.3 1903.5,1186.6 1904.5,1185.8 1905.5,1185.1 1906.5,1185.8 1907.5,1186.6 1908.5,1187.3 1909.5,1187.5 1910.5,1187.6 1911.5,1187.7 1912.5,1187.2 1913.5,1186.6 1914.5,1186.0 1915.5,1186.7 1916.5,1187.5 1917.5,1188.3 1918.5,1187.7 1919.5,1187.1 1920.5,1186.5 1921.5,1186.2 1922.5,1185.9 1923.5,1185.5 1924.5,1185.5 1925.5,1185.5 1926.5,1185.5 1927.5,1186.1 1928.5,1186.6 1929.5,1187.2 1930.5,1186.9 1931.5,1186.6 1932.5,1186.3 1933.5,1185.8 1934.5,1185.3 1935.5,1184.8 1936.5,1185.2 1937.5,1185.6 1938.5,1185.9 1939.5,1186.9 1940.5,1187.9 1941.5,1188.9 1942.5,1188.1 1943.5,1187.4 1944.5,1186.6 1945.5,1186.9 1946.5,1187.2 1947.5,1187.5 1948.5,1187.2 1949.5,1186.8 1950.5,1186.4 1951.5,1185.9 1952.5,1185.3 1953.5,1184.8 1954.5,1185.6 1955.5,1186.4 1956.5,1187.2 1957.5,1186.6 1958.5,1186.0 1959.5,1185.4 1960.5,1185.3 1961.5,1185.1 1962.5,1185.0 1963.5,1185.7 1964.5,1186.4 1965.5,1187.2 1966.5,1187.2 1967.5,1187.3 1968.5,1187.4 1969.5,1186.4 1970.5,1185.4 1971.5,1184.5 1972.5,1185.8 1973.5,1187.2 1974.5,1188.6 1975.5,1187.2 1976.5,1185.8 1977.5,1184.5 1978.5,1184.7 1979.5,1184.9 1980.5,1185.1 1981.5,1185.3 1982.5,1185.6 1983.5,1185.8 1984.5,1186.5 1985.5,1187.2 1986.5,1187.8 1987.5,1187.8 1988.5,1187.7 1989.5,1187.6 1990.5,1187.6 1991.5,1187.6 1992.5,1187.6 1993.5,1187.1 1994.5,1186.6 1995.5,1186.2 1996.5,1186.9 1997.5,1187.6 1998.5,1188.3 1999.5,1187.1 2000.5,1186.0 2001.5,1184.8 2002.5,1186.1 2003.5,1187.3 2004.5,1188.5 2005.5,1187.1 2006.5,1185.8 2007.5,1184.5 2008.5,1184.6 2009.5,1184.7 2010.5,1184.9 2011.5,1185.8 2012.5,1186.6 2013.5,1187.5 2014.5,1187.5 2015.5,1187.5 2016.5,1187.6 2017.5,1187.4 2018.5,1187.3 2019.5,1187.1 2020.5,1186.5 2021.5,1185.9 2022.5,1185.2 2023.5,1186.1 2024.5,1187.0 2025.5,1187.9 2026.5,1187.4 2027.5,1186.9 2028.5,1186.4 2029.5,1185.9 2030.5,1185.5 2031.5,1185.0 2032.5,1184.8 2033.5,1184.7 2034.5,1184.5 2035.5,1185.8 2036.5,1187.1 2037.5,1188.4 2038.5,1187.0 2039.5,1185.7 2040.5,1184.3 2041.5,1184.5 2042.5,1184.8 2043.5,1185.0 2044.5,1185.2 2045.5,1185.4 2046.5,1185.6 2047.5,1186.4 2048.5,1187.1 2049.5,1187.9 2050.5,1187.8 2051.5,1187.7 2052.5,1187.6 2053.5,1187.6 2054.5,1187.7 2055.5,1187.7 2056.5,1187.4 2057.5,1187.0 2058.5,1186.7 2059.5,1185.8 2060.5,1184.9 2061.5,1184.0 2062.5,1185.0 2063.5,1186.1 2064.5,1187.2 2065.5,1186.3 2066.5,1185.5 2067.5,1184.7 2068.5,1185.8 2069.5,1186.9 2070.5,1188.0 2071.5,1188.1 2072.5,1188.1 2073.5,1188.1 2074.5,1186.8 2075.5,1185.5 2076.5,1184.1 2077.5,1185.1 2078.5,1186.1 2079.5,1187.0 2080.5,1186.3 2081.5,1185.6 2082.5,1184.9 2083.5,1184.6 2084.5,1184.4 2085.5,1184.2 2086.5,1185.3 2087.5,1186.5 2088.5,1187.6 2089.5,1187.0 2090.5,1186.3 2091.5,1185.7 2092.5,1185.4 2093.5,1185.2 2094.5,1185.0 2095.5,1185.4 2096.5,1185.8 2097.5,1186.1 2098.5,1185.4 2099.5,1184.7 2100.5,1183.9 2101.5,1184.4 2102.5,1184.9 2103.5,1185.4 2104.5,1185.7 2105.5,1186.1 2106.5,1186.4 2107.5,1186.7 2108.5,1187.0 2109.5,1187.2 2110.5,1186.1 2111.5,1185.0 2112.5,1183.9 2113.5,1185.0 2114.5,1186.1 2115.5,1187.2 2116.5,1186.0 2117.5,1184.9 2118.5,1183.7 2119.5,1183.8 2120.5,1183.9 2121.5,1184.0 2122.5,1184.2 2123.5,1184.3 2124.5,1184.5 2125.5,1184.2 2126.5,1183.9 2127.5,1183.6 2128.5,1183.4 2129.5,1183.3 2130.5,1183.1 2131.5,1183.9 2132.5,1184.6 2133.5,1185.3 2134.5,1184.9 2135.5,1184.4 2136.5,1183.9 2137.5,1183.4 2138.5,1182.9 2139.5,1182.3 2140.5,1182.5 2141.5,1182.5 2142.5,1182.5 2143.5,1181.2 2144.5,1179.8 2145.5,1178.2 2146.5,1177.8 2147.5,1177.2 2148.5,1176.4 2149.5,1175.2 2150.5,1174.0 2151.5,1172.8 2152.5,1170.8 2153.5,1169.3 2154.5,1168.3 2155.5,1168.5 2156.5,1169.2 2157.5,1170.2 2158.5,1171.4 2159.5,1172.7 2160.5,1173.8 2161.5,1174.8 2162.5,1175.7 2163.5,1176.4 2164.5,1177.1 2165.5,1177.6 2166.5,1178.0 2167.5,1177.9 2168.5,1177.8 2169.5,1177.6 2170.5,1178.0 2171.5,1178.3 2172.5,1178.6 2173.5,1179.4 2174.5,1180.1 2175.5,1180.9 2176.5,1180.8 2177.5,1180.7 2178.5,1180.6 2179.5,1180.2 2180.5,1179.8 2181.5,1179.5 2182.5,1179.8 2183.5,1180.1 2184.5,1180.4 2185.5,1181.7 2186.5,1182.9 2187.5,1184.1 2188.5,1183.5 2189.5,1183.0 2190.5,1182.4 2191.5,1183.2 2192.5,1184.0 2193.5,1184.9 2194.5,1184.6 2195.5,1184.4 2196.5,1184.2 2197.5,1184.3 2198.5,1184.3 2199.5,1184.4 2200.5,1184.0 2201.5,1183.7 2202.5,1183.3 2203.5,1183.7 2204.5,1184.0 2205.5,1184.4 2206.5,1184.2 2207.5,1183.9 2208.5,1183.7 2209.5,1183.9 2210.5,1184.0 2211.5,1184.2 2212.5,1184.8 2213.5,1185.4 2214.5,1186.1 2215.5,1184.9 2216.5,1183.6 2217.5,1182.4 2218.5,1182.5 2219.5,1182.7 2220.5,1182.9 2221.5,1183.9 2222.5,1184.9 2223.5,1185.9 2224.5,1185.9 2225.5,1185.9 2226.5,1186.0 2227.5,1185.8 2228.5,1185.6 2229.5,1185.4 2230.5,1185.5 2231.5,1185.6 2232.5,1185.6 2233.5,1184.5 2234.5,1183.4 2235.5,1182.3 2236.5,1183.2 2237.5,1184.1 2238.5,1185.0 2239.5,1184.1 2240.5,1183.2 2241.5,1182.3 2242.5,1183.4 2243.5,1184.4 2244.5,1185.5 2245.5,1184.8 2246.5,1184.1 2247.5,1183.5 2248.5,1183.6 2249.5,1183.7 2250.5,1183.9 2251.5,1183.9 2252.5,1183.9 2253.5,1184.0 2254.5,1183.5 2255.5,1183.0 2256.5,1182.6 2257.5,1183.1 2258.5,1183.6 2259.5,1184.1 2260.5,1184.6 2261.5,1185.0 2262.5,1185.4 2263.5,1184.8 2264.5,1184.2 2265.5,1183.6 2266.5,1183.5 2267.5,1183.5 2268.5,1183.5 2269.5,1183.4 2270.5,1183.3 2271.5,1183.1 2272.5,1182.9 2273.5,1182.6 2274.5,1182.3 2275.5,1182.5 2276.5,1182.6 2277.5,1182.7 2278.5,1183.5 2279.5,1184.3 2280.5,1185.1 2281.5,1185.3 2282.5,1185.5 2283.5,1185.7 2284.5,1184.8 2285.5,1183.9 2286.5,1183.0 2287.5,1182.9 2288.5,1182.8 2289.5,1182.6 2290.5,1182.7 2291.5,1182.8 2292.5,1182.8 2293.5,1183.6 2294.5,1184.3 2295.5,1185.1 2296.5,1184.2 2297.5,1183.3 2298.5,1182.4 2299.5,1182.3 2300.5,1182.2 2301.5,1182.0 2302.5,1182.2 2303.5,1182.3 2304.5,1182.5 2305.5,1182.1 2306.5,1181.8 2307.5,1181.4 2308.5,1181.5 2309.5,1181.5 2310.5,1181.6 2311.5,1181.7 2312.5,1181.7 2313.5,1181.8 2314.5,1182.4 2315.5,1183.0 2316.5,1183.6 2317.5,1184.0 2318.5,1184.3 2319.5,1184.7 2320.5,1183.7 2321.5,1182.7 2322.5,1181.7 2323.5,1181.7 2324.5,1181.7 2325.5,1181.7 2326.5,1182.1 2327.5,1182.5 2328.5,1182.9 2329.5,1182.1 2330.5,1181.2 2331.5,1180.4 2332.5,1180.4 2333.5,1180.5 2334.5,1180.5 2335.5,1181.2 2336.5,1181.9 2337.5,1182.5 2338.5,1182.4 2339.5,1182.2 2340.5,1182.0 2341.5,1181.8 2342.5,1181.6 2343.5,1181.4 2344.5,1181.4 2345.5,1181.5 2346.5,1181.6 2347.5,1180.9 2348.5,1180.3 2349.5,1179.7 2350.5,1180.0 2351.5,1180.4 2352.5,1180.7 2353.5,1180.5 2354.5,1180.4 2355.5,1180.2 2356.5,1180.3 2357.5,1180.3 2358.5,1180.4 2359.5,1180.1 2360.5,1179.0 2361.5,1177.0 2362.5,1176.4 2363.5,1175.8 2364.5,1175.2 2365.5,1172.3 2366.5,1169.4 2367.5,1167.3 2368.5,1167.9 2369.5,1168.4 2370.5,1169.0 2371.5,1168.6 2372.5,1168.2 2373.5,1167.8 2374.5,1167.8 2375.5,1167.8 2376.5,1167.8 2377.5,1168.6 2378.5,1169.4 2379.5,1170.2 2380.5,1170.4 2381.5,1170.7 2382.5,1171.0 2383.5,1170.9 2384.5,1170.9 2385.5,1170.9 2386.5,1169.9 2387.5,1168.9 2388.5,1168.0 2389.5,1168.2 2390.5,1168.5 2391.5,1168.8 2392.5,1168.6 2393.5,1168.4 2394.5,1168.2 2395.5,1167.9 2396.5,1167.8 2397.5,1167.7 2398.5,1168.6 2399.5,1169.7 2400.5,1170.5 2401.5,1171.1 2402.5,1171.6 2403.5,1172.0" stroke="#0069E1"/>
<path d="M168.5,896.9 169.5,896.7 170.5,896.9 171.5,897.4 172.5,897.5 173.5,897.6 174.5,897.5 175.5,897.9 176.5,898.3 177.5,898.7 178.5,897.8 179.5,896.8 180.5,895.8 181.5,895.7 182.5,895.7 183.5,895.7 184.5,896.4 185.5,897.1 186.5,897.8 187.5,897.6 188.5,897.5 189.5,897.4 190.5,896.9 191.5,896.3 192.5,895.8 193.5,896.4 194.5,896.9 195.5,897.5 196.5,897.0 197.5,896.6 198.5,896.2 199.5,896.7 200.5,897.3 201.5,897.8 202.5,896.8 203.5,895.9 204.5,894.9 205.5,895.0 206.5,895.2 207.5,895.3 208.5,896.3 209.5,897.3 210.5,898.3 211.5,897.5 212.5,896.7 213.5,895.9 214.5,895.7 215.5,895.6 216.5,895.4 217.5,896.2 218.5,897.0 219.5,897.8 220.5,897.5 221.5,897.3 222.5,897.0 223.5,896.3 224.5,895.6 225.5,894.8 226.5,895.4 227.5,896.0 228.5,896.6 229.5,896.7 230.5,896.9 231.5,897.1 232.5,896.3 233.5,895.6 234.5,894.8 235.5,895.5 236.5,896.2 237.5,896.9 238.5,896.2 239.5,895.4 240.5,894.6 241.5,894.9 242.5,895.2 243.5,895.5 244.5,895.1 245.5,894.7 246.5,894.4 247.5,894.5 248.5,894.7 249.5,894.9 250.5,896.0 251.5,897.1 252.5,898.2 253.5,897.4 254.5,896.5 255.5,895.7 256.5,896.5 257.5,897.4 258.5,898.2 259.5,897.4 260.5,896.6 261.5,895.8 262.5,896.0 263.5,896.3 264.5,896.5 265.5,896.9 266.5,897.3 267.5,897.6 268.5,897.4 269.5,897.1 270.5,896.8 271.5,895.9 272.5,895.1 273.5,894.2 274.5,894.9 275.5,895.6 276.5,896.3 277.5,896.4 278.5,896.4 279.5,896.5 280.5,895.8 281.5,895.1 282.5,894.4 283.5,894.3 284.5,894.2 285.5,894.0 286.5,895.2 287.5,896.3 288.5,897.4 289.5,896.9 290.5,896.3 291.5,895.8 292.5,895.3 293.5,894.8 294.5,894.4 295.5,894.7 296.5,895.1 297.5,895.5 298.5,895.1 299.5,894.8 300.5,894.4 301.5,895.2 302.5,896.1 303.5,896.9 304.5,896.4 305.5,896.0 306.5,895.5 307.5,894.9 308.5,894.3 309.5,893.7 310.5,894.8 311.5,895.8 312.5,896.8 313.5,895.7 314.5,894.6 315.5,893.5 316.5,893.8 317.5,894.1 318.5,894.3 319.5,893.9 320.5,893.5 321.5,893.2 322.5,894.2 323.5,895.2 324.5,896.2 325.5,895.3 326.5,894.4 327.5,893.4 328.5,894.0 329.5,894.6 330.5,895.2 331.5,894.5 332.5,893.8 333.5,893.2 334.5,893.7 335.5,894.3 336.5,894.8 337.5,895.1 338.5,895.4 339.5,895.7 340.5,895.4 341.5,895.2 342.5,894.9 343.5,894.8 344.5,894.6 345.5,894.5 346.5,894.5 347.5,894.5 348.5,894.6 349.5,894.5 350.5,894.4 351.5,894.3 352.5,894.5 353.5,894.7 354.5,894.9 355.5,894.1 356.5,893.4 357.5,892.6 358.5,893.1 359.5,893.7 360.5,894.2 361.5,893.8 362.5,893.4 363.5,893.0 364.5,893.9 365.5,894.8 366.5,895.7 367.5,895.8 368.5,895.9 369.5,895.9 370.5,894.6 371.5,893.3 372.5,892.0 373.5,892.1 374.5,892.1 375.5,892.2 376.5,893.0 377.5,893.7 378.5,894.5 379.5,894.3 380.5,894.0 381.5,893.8 382.5,892.9 383.5,892.0 384.5,891.2 385.5,892.1 386.5,893.0 387.5,894.0 388.5,894.3 389.5,894.5 390.5,894.8 391.5,893.9 392.5,893.1 393.5,892.2 394.5,892.0 395.5,891.8 396.5,891.6 397.5,891.8 398.5,892.0 399.5,892.2 400.5,892.6 401.5,893.0 402.5,893.4 403.5,892.3 404.5,891.1 405.5,889.9 406.5,889.8 407.5,889.7 408.5,889.5 409.5,889.1 410.5,888.7 411.5,888.3 412.5,888.6 413.5,889.0 414.5,889.3 415.5,888.6 416.5,888.0 417.5,887.3 418.5,886.5 419.5,885.6 420.5,884.6 421.5,884.1 422.5,883.6 423.5,882.9 424.5,881.5 425.5,880.0 426.5,878.4 427.5,877.7 428.5,876.9 429.5,876.1 430.5,875.8 431.5,875.5 432.5,875.3 433.5,873.5 434.5,871.8 435.5,870.3 436.5,869.0 437.5,868.1 438.5,867.3 439.5,868.3 440.5,869.5 441.5,870.9 442.5,870.7 443.5,870.6 444.5,870.7 445.5,871.5 446.5,872.3 447.5,873.0 448.5,873.6 449.5,874.2 450.5,874.6 451.5,875.5 452.5,876.3 453.5,877.0 454.5,877.5 455.5,878.0 456.5,878.3 457.5,878.6 458.5,878.8 459.5,878.8 460.5,879.8 461.5,880.6 462.5,881.4 463.5,880.3 464.5,879.0 465.5,877.7 466.5,877.2 467.5,876.6 468.5,875.8 469.5,875.5 470.5,874.9 471.5,874.1 472.5,873.0 473.5,871.5 474.5,869.7 475.5,865.9 476.5,861.6 477.5,856.6 478.5,852.4 479.5,847.3 480.5,841.2 481.5,832.8 482.5,823.3 483.5,812.6 484.5,801.7 485.5,789.7 486.5,776.8 487.5,762.9 488.5,748.5 489.5,734.0 490.5,720.2 491.5,707.2 492.5,695.6 493.5,685.3 494.5,677.7 495.5,673.2 496.5,672.2 497.5,674.7 498.5,680.6 499.5,690.1 500.5,701.9 501.5,715.3 502.5,728.5 503.5,742.1 504.5,755.8 505.5,769.8 506.5,783.2 507.5,795.7 508.5,808.0 509.5,819.2 510.5,829.4 511.5,836.9 512.5,843.5 513.5,849.0 514.5,854.6 515.5,859.3 516.5,863.4 517.5,865.9 518.5,867.9 519.5,869.5 520.5,872.2 521.5,874.7 522.5,877.0 523.5,877.8 524.5,878.4 525.5,878.9 526.5,879.3 527.5,879.5 528.5,879.7 529.5,881.4 530.5,883.0 531.5,884.6 532.5,884.4 533.5,884.3 534.5,884.1 535.5,884.3 536.5,884.6 537.5,884.8 538.5,885.1 539.5,885.3 540.5,885.5 541.5,885.6 542.5,885.7 543.5,885.7 544.5,886.1 545.5,886.5 546.5,886.9 547.5,887.8 548.5,888.7 549.5,889.6 550.5,889.0 551.5,888.4 552.5,887.7 553.5,888.0 554.5,888.4 555.5,888.7 556.5,889.0 557.5,889.4 558.5,889.8 559.5,890.1 560.5,890.3 561.5,890.5 562.5,890.4 563.5,890.3 564.5,890.1 565.5,890.8 566.5,891.5 567.5,892.1 568.5,891.4 569.5,890.7 570.5,890.0 571.5,890.2 572.5,890.5 573.5,890.7 574.5,890.8 575.5,891.0 576.5,891.1 577.5,890.7 578.5,890.3 579.5,890.0 580.5,890.1 581.5,890.3 582.5,890.5 583.5,890.4 584.5,890.4 585.5,890.3 586.5,891.2 587.5,892.1 588.5,893.0 589.5,892.1 590.5,891.3 591.5,890.5 592.5,891.3 593.5,892.1 594.5,892.9 595.5,892.3 596.5,891.7 597.5,891.0 598.5,891.7 599.5,892.3 600.5,893.0 601.5,893.0 602.5,893.1 603.5,893.1 604.5,892.7 605.5,892.3 606.5,891.9 607.5,892.7 608.5,893.6 609.5,894.5 610.5,894.1 611.5,893.7 612.5,893.3 613.5,893.2 614.5,893.1 615.5,893.0 616.5,892.2 617.5,891.5 618.5,890.8 619.5,891.3 620.5,891.9 621.5,892.4 622.5,892.2 623.5,892.1 624.5,891.9 625.5,892.2 626.5,892.5 627.5,892.8 628.5,893.5 629.5,894.2 630.5,894.9 631.5,894.8 632.5,894.7 633.5,894.7 634.5,893.5 635.5,892.3 636.5,891.2 637.5,892.1 638.5,893.0 639.5,893.9 640.5,894.3 641.5,894.7 642.5,895.1 643.5,894.5 644.5,894.0 645.5,893.4 646.5,892.8 647.5,892.1 648.5,891.5 649.5,892.6 650.5,893.8 651.5,894.9 652.5,894.3 653.5,893.6 654.5,893.0 655.5,893.8 656.5,894.6 657.5,895.4 658.5,895.2 659.5,895.1 660.5,894.9 661.5,894.9 662.5,894.8 663.5,894.7 664.5,894.9 665.5,895.0 666.5,895.2 667.5,893.9 668.5,892.6 669.5,891.4 670.5,892.4 671.5,893.5 672.5,894.5 673.5,893.8 674.5,893.1 675.5,892.4 676.5,892.1 677.5,891.8 678.5,891.6 679.5,891.9 680.5,892.3 681.5,892.6 682.5,892.9 683.5,893.2 684.5,893.5 685.5,892.7 686.5,891.8 687.5,890.9 688.5,891.6 689.5,892.2 690.5,892.9 691.5,893.3 692.5,893.8 693.5,894.3 694.5,893.8 695.5,893.4 696.5,893.0 697.5,893.0 698.5,893.0 699.5,893.1 700.5,892.7 701.5,892.3 702.5,892.0 703.5,892.9 704.5,893.9 705.5,894.9 706.5,893.8 707.5,892.7 708.5,891.6 709.5,892.2 710.5,892.8 711.5,893.4 712.5,893.3 713.5,893.3 714.5,893.2 715.5,892.2 716.5,891.2 717.5,890.2 718.5,891.6 719.5,893.0 720.5,894.4 721.5,893.3 722.5,892.1 723.5,890.9 724.5,891.9 725.5,893.0 726.5,894.0 727.5,893.8 728.5,893.7 729.5,893.5 730.5,893.3 731.5,893.2 732.5,893.0 733.5,892.8 734.5,892.6 735.5,892.4 736.5,891.5 737.5,890.7 738.5,889.8 739.5,889.6 740.5,889.5 741.5,889.3 742.5,888.8 743.5,888.3 744.5,887.8 745.5,888.3 746.5,888.6 747.5,889.0 748.5,887.0 749.5,885.0 750.5,882.9 751.5,882.1 752.5,881.2 753.5,880.1 754.5,879.8 755.5,879.2 756.5,878.2 757.5,875.2 758.5,871.6 759.5,867.3 760.5,861.9 761.5,855.4 762.5,847.4 763.5,838.3 764.5,827.8 765.5,816.1 766.5,803.6 767.5,793.2 768.5,787.3 769.5,788.8 770.5,796.0 771.5,806.9 772.5,818.1 773.5,829.0 774.5,838.5 775.5,847.8 776.5,855.5 777.5,861.8 778.5,865.1 779.5,867.5 780.5,869.2 781.5,872.0 782.5,874.4 783.5,876.5 784.5,878.0 785.5,879.3 786.5,880.4 787.5,881.5 788.5,882.5 789.5,883.5 790.5,883.5 791.5,883.5 792.5,883.5 793.5,884.3 794.5,885.1 795.5,885.9 796.5,886.8 797.5,887.6 798.5,888.4 799.5,887.9 800.5,887.4 801.5,887.0 802.5,887.0 803.5,887.0 804.5,886.9 805.5,887.0 806.5,887.0 807.5,887.0 808.5,888.5 809.5,889.9 810.5,891.4 811.5,891.0 812.5,890.6 813.5,890.3 814.5,890.3 815.5,890.4 816.5,890.4 817.5,890.7 818.5,891.1 819.5,891.4 820.5,890.9 821.5,890.5 822.5,890.0 823.5,890.2 824.5,890.5 825.5,890.7 826.5,890.8 827.5,890.9 828.5,891.0 829.5,891.1 830.5,891.2 831.5,891.3 832.5,892.2 833.5,893.1 834.5,894.1 835.5,893.2 836.5,892.3 837.5,891.5 838.5,891.3 839.5,891.1 840.5,890.9 841.5,892.0 842.5,893.2 843.5,894.3 844.5,893.9 845.5,893.5 846.5,893.0 847.5,892.3 848.5,891.5 849.5,890.8 850.5,891.7 851.5,892.7 852.5,893.6 853.5,893.7 854.5,893.7 855.5,893.7 856.5,893.7 857.5,893.6 858.5,893.6 859.5,893.8 860.5,894.0 861.5,894.2 862.5,893.7 863.5,893.1 864.5,892.6 865.5,892.3 866.5,892.1 867.5,891.8 868.5,892.5 869.5,893.3 870.5,894.1 871.5,893.9 872.5,893.7 873.5,893.5 874.5,893.7 875.5,893.8 876.5,893.9 877.5,893.1 878.5,892.4 879.5,891.6 880.5,891.9 881.5,892.2 882.5,892.4 883.5,892.9 884.5,893.4 885.5,893.8 886.5,893.4 887.5,892.9 888.5,892.5 889.5,892.8 890.5,893.1 891.5,893.4 892.5,893.2 893.5,893.0 894.5,892.9 895.5,893.3 896.5,893.7 897.5,894.1 898.5,893.5 899.5,892.9 900.5,892.3 901.5,892.5 902.5,892.7 903.5,892.9 904.5,893.4 905.5,893.9 906.5,894.4 907.5,893.6 908.5,892.9 909.5,892.1 910.5,891.9 911.5,891.7 912.5,891.5 913.5,892.2 914.5,892.8 915.5,893.5 916.5,892.8 917.5,892.0 918.5,891.3 919.5,892.3 920.5,893.4 921.5,894.5 922.5,893.6 923.5,892.7 924.5,891.9 925.5,892.8 926.5,893.7 927.5,894.6 928.5,894.1 929.5,893.5 930.5,893.0 931.5,892.4 932.5,891.9 933.5,891.3 934.5,891.8 935.5,892.4 936.5,892.9 937.5,893.1 938.5,893.4 939.5,893.6 940.5,893.3 941.5,893.0 942.5,892.7 943.5,892.9 944.5,893.2 945.5,893.4 946.5,893.0 947.5,892.6 948.5,892.2 949.5,893.0 950.5,893.9 951.5,894.8 952.5,893.6 953.5,892.5 954.5,891.3 955.5,892.2 956.5,893.1 957.5,894.0 958.5,892.9 959.5,891.7 960.5,890.6 961.5,891.3 962.5,892.0 963.5,892.7 964.5,892.1 965.5,891.4 966.5,890.8 967.5,890.9 968.5,890.9 969.5,891.0 970.5,891.7 971.5,892.4 972.5,893.0 973.5,893.5 974.5,893.9 975.5,894.4 976.5,893.5 977.5,892.6 978.5,891.8 979.5,891.9 980.5,892.0 981.5,892.2 982.5,892.3 983.5,892.4 984.5,892.5 985.5,892.6 986.5,892.8 987.5,893.0 988.5,892.6 989.5,892.3 990.5,891.9 991.5,891.9 992.5,891.9 993.5,891.9 994.5,892.6 995.5,893.3 996.5,894.1 997.5,893.6 998.5,893.2 999.5,892.7 1000.5,892.4 1001.5,892.1 1002.5,891.8 1003.5,892.5 1004.5,893.2 1005.5,893.8 1006.5,894.1 1007.5,894.4 1008.5,894.6 1009.5,893.8 1010.5,892.9 1011.5,892.1 1012.5,891.5 1013.5,890.9 1014.5,890.2 1015.5,890.7 1016.5,891.1 1017.5,891.5 1018.5,892.4 1019.5,893.2 1020.5,894.1 1021.5,893.0 1022.5,891.9 1023.5,890.9 1024.5,890.9 1025.5,890.9 1026.5,891.0 1027.5,891.8 1028.5,892.7 1029.5,893.6 1030.5,892.6 1031.5,891.5 1032.5,890.5 1033.5,891.6 1034.5,892.7 1035.5,893.8 1036.5,892.8 1037.5,891.9 1038.5,891.0 1039.5,891.2 1040.5,891.4 1041.5,891.7 1042.5,892.0 1043.5,892.2 1044.5,892.5 1045.5,891.8 1046.5,891.1 1047.5,890.4 1048.5,891.3 1049.5,892.3 1050.5,893.2 1051.5,892.7 1052.5,892.2 1053.5,891.7 1054.5,892.2 1055.5,892.7 1056.5,893.1 1057.5,893.1 1058.5,893.1 1059.5,893.0 1060.5,892.0 1061.5,890.9 1062.5,889.9 1063.5,891.0 1064.5,892.0 1065.5,893.1 1066.5,893.0 1067.5,893.0 1068.5,892.9 1069.5,892.0 1070.5,891.0 1071.5,890.0 1072.5,890.4 1073.5,890.7 1074.5,890.9 1075.5,890.0 1076.5,889.0 1077.5,887.8 1078.5,887.5 1079.5,887.1 1080.5,886.5 1081.5,885.5 1082.5,884.3 1083.5,883.1 1084.5,880.9 1085.5,878.9 1086.5,877.0 1087.5,876.2 1088.5,876.0 1089.5,876.3 1090.5,876.3 1091.5,876.8 1092.5,877.6 1093.5,880.2 1094.5,882.8 1095.5,885.4 1096.5,886.5 1097.5,887.4 1098.5,888.1 1099.5,889.3 1100.5,890.3 1101.5,891.2 1102.5,890.5 1103.5,889.7 1104.5,888.9 1105.5,890.0 1106.5,891.1 1107.5,892.2 1108.5,891.3 1109.5,890.4 1110.5,889.5 1111.5,890.2 1112.5,891.0 1113.5,891.7 1114.5,891.2 1115.5,890.8 1116.5,890.3 1117.5,891.3 1118.5,892.3 1119.5,893.3 1120.5,892.2 1121.5,891.0 1122.5,889.9 1123.5,890.4 1124.5,890.9 1125.5,891.5 1126.5,891.5 1127.5,891.5 1128.5,891.5 1129.5,891.4 1130.5,891.3 1131.5,891.1 1132.5,890.7 1133.5,890.2 1134.5,889.7 1135.5,890.6 1136.5,891.5 1137.5,892.4 1138.5,892.8 1139.5,893.3 1140.5,893.7 1141.5,892.8 1142.5,891.9 1143.5,891.0 1144.5,891.8 1145.5,892.6 1146.5,893.4 1147.5,892.6 1148.5,891.7 1149.5,890.9 1150.5,890.8 1151.5,890.7 1152.5,890.6 1153.5,890.9 1154.5,891.1 1155.5,891.4 1156.5,892.2 1157.5,892.9 1158.5,893.7 1159.5,893.4 1160.5,893.1 1161.5,892.8 1162.5,892.6 1163.5,892.4 1164.5,892.2 1165.5,891.3 1166.5,890.4 1167.5,889.5 1168.5,890.1 1169.5,890.7 1170.5,891.3 1171.5,890.7 1172.5,890.1 1173.5,889.4 1174.5,889.5 1175.5,889.5 1176.5,889.6 1177.5,890.1 1178.5,890.5 1179.5,891.0 1180.5,890.8 1181.5,890.6 1182.5,890.4 1183.5,890.2 1184.5,890.0 1185.5,889.8 1186.5,890.3 1187.5,890.9 1188.5,891.5 1189.5,891.9 1190.5,892.3 1191.5,892.7 1192.5,892.9 1193.5,893.1 1194.5,893.3 1195.5,893.3 1196.5,893.3 1197.5,893.3 1198.5,892.6 1199.5,891.8 1200.5,891.1 1201.5,890.7 1202.5,890.4 1203.5,890.0 1204.5,891.2 1205.5,892.3 1206.5,893.4 1207.5,892.6 1208.5,891.9 1209.5,891.1 1210.5,890.9 1211.5,890.8 1212.5,890.7 1213.5,891.4 1214.5,892.1 1215.5,892.8 1216.5,892.4 1217.5,892.0 1218.5,891.6 1219.5,892.2 1220.5,892.8 1221.5,893.3 1222.5,893.0 1223.5,892.6 1224.5,892.2 1225.5,892.6 1226.5,892.9 1227.5,893.3 1228.5,892.1 1229.5,890.9 1230.5,889.8 1231.5,890.9 1232.5,892.1 1233.5,893.2 1234.5,892.6 1235.5,892.0 1236.5,891.4 1237.5,891.7 1238.5,891.9 1239.5,892.1 1240.5,891.5 1241.5,890.9 1242.5,890.4 1243.5,890.3 1244.5,890.2 1245.5,890.1 1246.5,890.2 1247.5,890.2 1248.5,890.3 1249.5,890.1 1250.5,889.9 1251.5,889.7 1252.5,890.9 1253.5,892.1 1254.5,893.2 1255.5,892.0 1256.5,890.7 1257.5,889.5 1258.5,889.7 1259.5,889.8 1260.5,890.0 1261.5,890.6 1262.5,891.2 1263.5,891.7 1264.5,891.1 1265.5,890.5 1266.5,889.8 1267.5,889.8 1268.5,889.8 1269.5,889.9 1270.5,889.9 1271.5,890.0 1272.5,890.0 1273.5,890.0 1274.5,889.9 1275.5,889.9 1276.5,889.6 1277.5,889.2 1278.5,888.9 1279.5,890.0 1280.5,891.0 1281.5,892.1 1282.5,892.0 1283.5,891.9 1284.5,891.7 1285.5,891.2 1286.5,890.7 1287.5,890.2 1288.5,891.0 1289.5,891.9 1290.5,892.8 1291.5,892.3 1292.5,891.8 1293.5,891.3 1294.5,890.8 1295.5,890.3 1296.5,889.7 1297.5,890.8 1298.5,891.9 1299.5,893.0 1300.5,891.9 1301.5,890.8 1302.5,889.8 1303.5,890.6 1304.5,891.5 1305.5,892.3 1306.5,892.3 1307.5,892.3 1308.5,892.3 1309.5,891.1 1310.5,889.9 1311.5,888.7 1312.5,890.0 1313.5,891.2 1314.5,892.4 1315.5,891.8 1316.5,891.2 1317.5,890.5 1318.5,890.6 1319.5,890.8 1320.5,890.9 1321.5,891.5 1322.5,892.2 1323.5,892.8 1324.5,892.1 1325.5,891.4 1326.5,890.6 1327.5,890.3 1328.5,890.0 1329.5,889.7 1330.5,889.4 1331.5,889.1 1332.5,888.8 1333.5,890.0 1334.5,891.3 1335.5,892.5 1336.5,891.8 1337.5,891.2 1338.5,890.6 1339.5,890.9 1340.5,891.3 1341.5,891.7 1342.5,891.6 1343.5,891.5 1344.5,891.4 1345.5,891.9 1346.5,892.4 1347.5,892.8 1348.5,892.8 1349.5,892.7 1350.5,892.6 1351.5,892.6 1352.5,892.6 1353.5,892.6 1354.5,892.0 1355.5,891.3 1356.5,890.7 1357.5,891.3 1358.5,891.9 1359.5,892.5 1360.5,891.6 1361.5,890.7 1362.5,889.8 1363.5,889.5 1364.5,889.3 1365.5,889.0 1366.5,889.7 1367.5,890.5 1368.5,891.2 1369.5,890.3 1370.5,889.4 1371.5,888.5 1372.5,889.9 1373.5,891.3 1374.5,892.7 1375.5,891.7 1376.5,890.8 1377.5,889.8 1378.5,890.0 1379.5,890.1 1380.5,890.2 1381.5,890.0 1382.5,889.8 1383.5,889.6 1384.5,889.7 1385.5,889.7 1386.5,889.8 1387.5,890.1 1388.5,890.4 1389.5,890.7 1390.5,891.1 1391.5,891.5 1392.5,891.8 1393.5,890.7 1394.5,889.5 1395.5,888.4 1396.5,888.8 1397.5,889.3 1398.5,889.8 1399.5,889.6 1400.5,889.5 1401.5,889.3 1402.5,890.4 1403.5,891.4 1404.5,892.5 1405.5,891.7 1406.5,890.9 1407.5,890.1 1408.5,890.1 1409.5,890.1 1410.5,890.1 1411.5,890.9 1412.5,891.6 1413.5,892.3 1414.5,891.5 1415.5,890.7 1416.5,889.9 1417.5,889.8 1418.5,889.8 1419.5,889.8 1420.5,889.8 1421.5,889.8 1422.5,889.9 1423.5,889.6 1424.5,889.4 1425.5,889.1 1426.5,889.8 1427.5,890.5 1428.5,891.2 1429.5,890.5 1430.5,889.9 1431.5,889.3 1432.5,889.6 1433.5,889.9 1434.5,890.3 1435.5,890.3 1436.5,890.4 1437.5,890.5 1438.5,890.8 1439.5,891.1 1440.5,891.3 1441.5,891.3 1442.5,891.2 1443.5,891.2 1444.5,890.8 1445.5,890.4 1446.5,890.0 1447.5,890.7 1448.5,891.4 1449.5,892.1 1450.5,892.1 1451.5,892.0 1452.5,892.0 1453.5,892.0 1454.5,892.0 1455.5,892.0 1456.5,891.6 1457.5,891.3 1458.5,891.0 1459.5,890.6 1460.5,890.2 1461.5,889.8 1462.5,889.7 1463.5,889.5 1464.5,889.4 1465.5,890.1 1466.5,890.8 1467.5,891.5 1468.5,891.0 1469.5,890.4 1470.5,889.8 1471.5,890.2 1472.5,890.6 1473.5,891.0 1474.5,890.5 1475.5,889.9 1476.5,889.4 1477.5,889.4 1478.5,889.3 1479.5,889.3 1480.5,888.8 1481.5,888.2 1482.5,887.7 1483.5,888.8 1484.5,889.8 1485.5,890.8 1486.5,890.2 1487.5,889.5 1488.5,888.9 1489.5,889.2 1490.5,889.5 1491.5,889.7 1492.5,890.1 1493.5,890.4 1494.5,890.7 1495.5,890.9 1496.5,891.0 1497.5,891.2 1498.5,891.3 1499.5,891.5 1500.5,891.7 1501.5,891.2 1502.5,890.8 1503.5,890.4 1504.5,889.8 1505.5,889.1 1506.5,888.5 1507.5,889.5 1508.5,890.5 1509.5,891.5 1510.5,890.2 1511.5,888.9 1512.5,887.7 1513.5,888.2 1514.5,888.7 1515.5,889.2 1516.5,890.0 1517.5,890.7 1518.5,891.4 1519.5,891.3 1520.5,891.2 1521.5,891.1 1522.5,890.7 1523.5,890.3 1524.5,889.9 1525.5,890.3 1526.5,890.7 1527.5,891.1 1528.5,890.1 1529.5,889.1 1530.5,888.1 1531.5,887.8 1532.5,887.6 1533.5,887.4 1534.5,887.8 1535.5,888.2 1536.5,888.5 1537.5,889.5 1538.5,890.4 1539.5,891.3 1540.5,890.0 1541.5,888.7 1542.5,887.4 1543.5,887.8 1544.5,888.2 1545.5,888.6 1546.5,888.9 1547.5,889.1 1548.5,889.4 1549.5,888.9 1550.5,888.5 1551.5,888.0 1552.5,889.0 1553.5,890.0 1554.5,890.9 1555.5,889.8 1556.5,888.7 1557.5,887.5 1558.5,887.5 1559.5,887.5 1560.5,887.4 1561.5,888.8 1562.5,890.1 1563.5,891.4 1564.5,890.0 1565.5,888.5 1566.5,887.1 1567.5,887.4 1568.5,887.7 1569.5,888.0 1570.5,888.2 1571.5,888.5 1572.5,888.8 1573.5,889.4 1574.5,890.1 1575.5,890.8 1576.5,890.0 1577.5,889.2 1578.5,888.4 1579.5,888.7 1580.5,889.1 1581.5,889.4 1582.5,889.7 1583.5,890.1 1584.5,890.4 1585.5,890.1 1586.5,889.8 1587.5,889.6 1588.5,889.9 1589.5,890.2 1590.5,890.5 1591.5,889.3 1592.5,888.1 1593.5,886.9 1594.5,887.6 1595.5,888.4 1596.5,889.2 1597.5,888.4 1598.5,887.6 1599.5,886.8 1600.5,888.1 1601.5,889.3 1602.5,890.5 1603.5,889.3 1604.5,888.0 1605.5,886.8 1606.5,886.9 1607.5,887.0 1608.5,887.1 1609.5,887.6 1610.5,888.1 1611.5,888.5 1612.5,888.8 1613.5,889.1 1614.5,889.4 1615.5,888.5 1616.5,887.6 1617.5,886.7 1618.5,887.6 1619.5,888.5 1620.5,889.4 1621.5,888.6 1622.5,887.8 1623.5,887.0 1624.5,887.3 1625.5,887.6 1626.5,888.0 1627.5,887.5 1628.5,887.1 1629.5,886.7 1630.5,887.7 1631.5,888.7 1632.5,889.7 1633.5,889.8 1634.5,890.0 1635.5,890.1 1636.5,890.0 1637.5,889.9 1638.5,889.8 1639.5,889.2 1640.5,888.5 1641.5,887.8 1642.5,887.7 1643.5,887.6 1644.5,887.5 1645.5,888.5 1646.5,889.6 1647.5,890.6 1648.5,890.4 1649.5,890.2 1650.5,890.0 1651.5,890.2 1652.5,890.4 1653.5,890.6 1654.5,889.8 1655.5,889.0 1656.5,888.1 1657.5,888.8 1658.5,889.5 1659.5,890.2 1660.5,889.9 1661.5,889.6 1662.5,889.2 1663.5,889.4 1664.5,889.6 1665.5,889.7 1666.5,889.3 1667.5,888.9 1668.5,888.5 1669.5,888.9 1670.5,889.3 1671.5,889.7 1672.5,889.2 1673.5,888.8 1674.5,888.4 1675.5,888.1 1676.5,887.7 1677.5,887.4 1678.5,887.7 1679.5,888.0 1680.5,888.3 1681.5,887.6 1682.5,887.0 1683.5,886.3 1684.5,887.2 1685.5,888.2 1686.5,889.1 1687.5,888.6 1688.5,888.1 1689.5,887.6 1690.5,887.3 1691.5,887.1 1692.5,886.9 1693.5,887.8 1694.5,888.7 1695.5,889.6 1696.5,889.2 1697.5,888.8 1698.5,888.4 1699.5,888.0 1700.5,887.7 1701.5,887.4 1702.5,888.3 1703.5,889.2 1704.5,890.1 1705.5,890.1 1706.5,890.1 1707.5,890.1 1708.5,889.4 1709.5,888.6 1710.5,887.8 1711.5,888.0 1712.5,888.2 1713.5,888.4 1714.5,887.5 1715.5,886.7 1716.5,885.9 1717.5,886.4 1718.5,887.0 1719.5,887.5 1720.5,888.4 1721.5,889.3 1722.5,890.2 1723.5,889.5 1724.5,888.8 1725.5,888.1 1726.5,888.8 1727.5,889.5 1728.5,890.2 1729.5,888.8 1730.5,887.4 1731.5,886.0 1732.5,885.9 1733.5,885.9 1734.5,885.9 1735.5,886.0 1736.5,886.0 1737.5,886.1 1738.5,886.1 1739.5,886.1 1740.5,886.1 1741.5,887.1 1742.5,888.1 1743.5,889.1 1744.5,889.4 1745.5,889.8 1746.5,890.1 1747.5,889.8 1748.5,889.4 1749.5,889.1 1750.5,888.8 1751.5,888.6 1752.5,888.4 1753.5,888.0 1754.5,887.7 1755.5,887.4 1756.5,887.4 1757.5,887.4 1758.5,887.3 1759.5,887.0 1760.5,886.6 1761.5,886.2 1762.5,886.6 1763.5,887.0 1764.5,887.4 1765.5,887.0 1766.5,886.6 1767.5,886.1 1768.5,887.2 1769.5,888.2 1770.5,889.2 1771.5,888.8 1772.5,888.3 1773.5,887.9 1774.5,887.7 1775.5,887.5 1776.5,887.2 1777.5,887.9 1778.5,888.6 1779.5,889.3 1780.5,888.5 1781.5,887.7 1782.5,886.8 1783.5,887.7 1784.5,888.5 1785.5,889.3 1786.5,889.1 1787.5,888.9 1788.5,888.6 1789.5,888.5 1790.5,888.4 1791.5,888.2 1792.5,888.2 1793.5,888.1 1794.5,888.1 1795.5,888.1 1796.5,888.2 1797.5,888.2 1798.5,888.6 1799.5,889.0 1800.5,889.4 1801.5,889.5 1802.5,889.6 1803.5,889.8 1804.5,889.1 1805.5,888.5 1806.5,887.8 1807.5,888.4 1808.5,889.0 1809.5,889.6 1810.5,888.5 1811.5,887.5 1812.5,886.4 1813.5,887.4 1814.5,888.4 1815.5,889.4 1816.5,889.3 1817.5,889.3 1818.5,889.2 1819.5,888.8 1820.5,888.4 1821.5,888.1 1822.5,887.3 1823.5,886.5 1824.5,885.7 1825.5,886.9 1826.5,888.0 1827.5,889.1 1828.5,888.4 1829.5,887.6 1830.5,886.9 1831.5,886.8 1832.5,886.7 1833.5,886.7 1834.5,887.6 1835.5,888.5 1836.5,889.4 1837.5,888.1 1838.5,886.8 1839.5,885.5 1840.5,886.4 1841.5,887.2 1842.5,888.0 1843.5,887.4 1844.5,886.7 1845.5,886.1 1846.5,887.1 1847.5,888.0 1848.5,888.9 1849.5,888.0 1850.5,887.0 1851.5,886.0 1852.5,885.9 1853.5,885.7 1854.5,885.5 1855.5,886.1 1856.5,886.6 1857.5,887.2 1858.5,887.1 1859.5,887.1 1860.5,887.0 1861.5,887.5 1862.5,887.9 1863.5,888.3 1864.5,887.6 1865.5,886.9 1866.5,886.2 1867.5,886.2 1868.5,886.2 1869.5,886.3 1870.5,886.3 1871.5,886.3 1872.5,886.2 1873.5,886.6 1874.5,887.0 1875.5,887.4 1876.5,886.7 1877.5,886.1 1878.5,885.5 1879.5,886.1 1880.5,886.7 1881.5,887.4 1882.5,887.7 1883.5,888.1 1884.5,888.5 1885.5,888.3 1886.5,888.1 1887.5,887.9 1888.5,887.2 1889.5,886.6 1890.5,886.0 1891.5,886.3 1892.5,886.6 1893.5,886.9 1894.5,886.4 1895.5,885.8 1896.5,885.2 1897.5,885.8 1898.5,886.3 1899.5,886.9 1900.5,887.3 1901.5,887.7 1902.5,888.1 1903.5,887.0 1904.5,885.9 1905.5,884.8 1906.5,885.7 1907.5,886.6 1908.5,887.6 1909.5,888.0 1910.5,888.4 1911.5,888.8 1912.5,887.8 1913.5,886.9 1914.5,885.9 1915.5,886.0 1916.5,886.0 1917.5,886.1 1918.5,886.6 1919.5,887.1 1920.5,887.7 1921.5,886.9 1922.5,886.1 1923.5,885.3 1924.5,885.5 1925.5,885.7 1926.5,885.8 1927.5,886.3 1928.5,886.8 1929.5,887.3 1930.5,887.2 1931.5,887.0 1932.5,886.9 1933.5,886.4 1934.5,885.9 1935.5,885.3 1936.5,885.4 1937.5,885.4 1938.5,885.5 1939.5,885.9 1940.5,886.3 1941.5,886.7 1942.5,887.3 1943.5,887.8 1944.5,888.4 1945.5,887.4 1946.5,886.4 1947.5,885.4 1948.5,886.1 1949.5,886.8 1950.5,887.5 1951.5,887.3 1952.5,887.1 1953.5,886.8 1954.5,886.5 1955.5,886.1 1956.5,885.7 1957.5,885.9 1958.5,886.1 1959.5,886.3 1960.5,886.9 1961.5,887.5 1962.5,888.1 1963.5,887.0 1964.5,886.0 1965.5,884.9 1966.5,885.5 1967.5,886.2 1968.5,886.8 1969.5,886.7 1970.5,886.6 1971.5,886.5 1972.5,886.0 1973.5,885.4 1974.5,884.9 1975.5,885.3 1976.5,885.8 1977.5,886.2 1978.5,885.8 1979.5,885.5 1980.5,885.1 1981.5,885.5 1982.5,885.8 1983.5,886.1 1984.5,885.6 1985.5,885.0 1986.5,884.5 1987.5,885.3 1988.5,886.0 1989.5,886.8 1990.5,887.2 1991.5,887.5 1992.5,887.8 1993.5,887.9 1994.5,888.0 1995.5,888.1 1996.5,888.2 1997.5,888.3 1998.5,888.4 1999.5,887.4 2000.5,886.4 2001.5,885.4 2002.5,886.2 2003.5,887.0 2004.5,887.8 2005.5,887.1 2006.5,886.5 2007.5,885.8 2008.5,886.3 2009.5,886.8 2010.5,887.4 2011.5,887.0 2012.5,886.6 2013.5,886.3 2014.5,886.7 2015.5,887.1 2016.5,887.5 2017.5,886.9 2018.5,886.4 2019.5,885.9 2020.5,886.7 2021.5,887.6 2022.5,888.4 2023.5,887.6 2024.5,886.9 2025.5,886.2 2026.5,886.7 2027.5,887.2 2028.5,887.6 2029.5,886.7 2030.5,885.8 2031.5,884.9 2032.5,885.7 2033.5,886.5 2034.5,887.3 2035.5,886.5 2036.5,885.8 2037.5,885.0 2038.5,885.3 2039.5,885.6 2040.5,885.8 2041.5,885.8 2042.5,885.8 2043.5,885.7 2044.5,886.1 2045.5,886.5 2046.5,886.9 2047.5,886.8 2048.5,886.7 2049.5,886.5 2050.5,886.1 2051.5,885.6 2052.5,885.2 2053.5,886.2 2054.5,887.1 2055.5,888.1 2056.5,886.8 2057.5,885.4 2058.5,884.1 2059.5,884.8 2060.5,885.4 2061.5,886.0 2062.5,885.5 2063.5,885.0 2064.5,884.5 2065.5,884.4 2066.5,884.4 2067.5,884.4 2068.5,884.5 2069.5,884.7 2070.5,884.8 2071.5,885.9 2072.5,887.0 2073.5,888.0 2074.5,886.6 2075.5,885.3 2076.5,883.9 2077.5,884.9 2078.5,886.0 2079.5,887.0 2080.5,886.8 2081.5,886.5 2082.5,886.3 2083.5,886.7 2084.5,887.1 2085.5,887.4 2086.5,887.5 2087.5,887.5 2088.5,887.5 2089.5,886.4 2090.5,885.3 2091.5,884.3 2092.5,885.4 2093.5,886.6 2094.5,887.8 2095.5,886.6 2096.5,885.4 2097.5,884.3 2098.5,884.3 2099.5,884.2 2100.5,884.2 2101.5,884.3 2102.5,884.5 2103.5,884.6 2104.5,885.3 2105.5,885.9 2106.5,886.6 2107.5,886.4 2108.5,886.2 2109.5,886.0 2110.5,886.1 2111.5,886.3 2112.5,886.4 2113.5,885.7 2114.5,885.0 2115.5,884.2 2116.5,884.6 2117.5,884.9 2118.5,885.3 2119.5,885.0 2120.5,884.8 2121.5,884.5 2122.5,885.4 2123.5,886.3 2124.5,887.2 2125.5,886.6 2126.5,886.0 2127.5,885.4 2128.5,885.5 2129.5,885.6 2130.5,885.7 2131.5,885.3 2132.5,884.9 2133.5,884.4 2134.5,883.8 2135.5,883.2 2136.5,882.6 2137.5,882.4 2138.5,882.1 2139.5,881.8 2140.5,881.6 2141.5,881.3 2142.5,880.9 2143.5,880.8 2144.5,880.5 2145.5,879.9 2146.5,877.6 2147.5,875.0 2148.5,872.3 2149.5,870.7 2150.5,869.2 2151.5,868.0 2152.5,866.7 2153.5,866.2 2154.5,866.4 2155.5,867.1 2156.5,868.2 2157.5,869.4 2158.5,871.4 2159.5,873.2 2160.5,874.8 2161.5,876.0 2162.5,877.0 2163.5,877.8 2164.5,878.9 2165.5,879.8 2166.5,880.6 2167.5,880.6 2168.5,880.5 2169.5,880.4 2170.5,880.0 2171.5,879.7 2172.5,879.3 2173.5,879.2 2174.5,879.2 2175.5,879.2 2176.5,879.3 2177.5,879.4 2178.5,879.6 2179.5,880.0 2180.5,880.4 2181.5,880.7 2182.5,881.2 2183.5,881.7 2184.5,882.2 2185.5,883.0 2186.5,883.8 2187.5,884.7 2188.5,883.5 2189.5,882.3 2190.5,881.2 2191.5,881.5 2192.5,881.8 2193.5,882.0 2194.5,882.4 2195.5,882.8 2196.5,883.2 2197.5,883.5 2198.5,883.8 2199.5,884.1 2200.5,883.5 2201.5,882.8 2202.5,882.1 2203.5,882.1 2204.5,882.0 2205.5,882.0 2206.5,882.8 2207.5,883.6 2208.5,884.4 2209.5,883.6 2210.5,882.8 2211.5,882.1 2212.5,883.2 2213.5,884.4 2214.5,885.6 2215.5,885.4 2216.5,885.2 2217.5,885.0 2218.5,884.7 2219.5,884.4 2220.5,884.1 2221.5,884.9 2222.5,885.6 2223.5,886.4 2224.5,885.7 2225.5,884.9 2226.5,884.1 2227.5,884.8 2228.5,885.5 2229.5,886.2 2230.5,885.1 2231.5,884.0 2232.5,883.0 2233.5,882.8 2234.5,882.6 2235.5,882.4 2236.5,882.8 2237.5,883.3 2238.5,883.8 2239.5,884.0 2240.5,884.2 2241.5,884.3 2242.5,884.5 2243.5,884.7 2244.5,884.9 2245.5,884.1 2246.5,883.3 2247.5,882.5 2248.5,883.4 2249.5,884.2 2250.5,885.1 2251.5,884.5 2252.5,883.9 2253.5,883.2 2254.5,884.2 2255.5,885.2 2256.5,886.1 2257.5,885.9 2258.5,885.7 2259.5,885.4 2260.5,885.4 2261.5,885.4 2262.5,885.3 2263.5,884.3 2264.5,883.2 2265.5,882.1 2266.5,882.1 2267.5,882.1 2268.5,882.2 2269.5,882.1 2270.5,882.1 2271.5,882.0 2272.5,882.6 2273.5,883.2 2274.5,883.8 2275.5,883.2 2276.5,882.6 2277.5,882.0 2278.5,882.2 2279.5,882.3 2280.5,882.5 2281.5,882.4 2282.5,882.2 2283.5,882.1 2284.5,883.5 2285.5,884.8 2286.5,886.2 2287.5,885.4 2288.5,884.6 2289.5,883.9 2290.5,883.6 2291.5,883.3 2292.5,882.9 2293.5,882.8 2294.5,882.6 2295.5,882.4 2296.5,882.6 2297.5,882.8 2298.5,883.0 2299.5,882.7 2300.5,882.5 2301.5,882.2 2302.5,883.1 2303.5,884.1 2304.5,885.0 2305.5,885.2 2306.5,885.3 2307.5,885.5 2308.5,885.2 2309.5,885.0 2310.5,884.8 2311.5,883.7 2312.5,882.6 2313.5,881.4 2314.5,882.2 2315.5,882.9 2316.5,883.6 2317.5,883.9 2318.5,884.2 2319.5,884.6 2320.5,883.8 2321.5,883.1 2322.5,882.4 2323.5,882.9 2324.5,883.4 2325.5,883.9 2326.5,882.8 2327.5,881.6 2328.5,880.4 2329.5,881.1 2330.5,881.8 2331.5,882.5 2332.5,882.8 2333.5,883.0 2334.5,883.3 2335.5,882.8 2336.5,882.3 2337.5,881.8 2338.5,881.3 2339.5,880.7 2340.5,880.2 2341.5,881.4 2342.5,882.6 2343.5,883.9 2344.5,883.6 2345.5,883.3 2346.5,883.0 2347.5,882.2 2348.5,881.4 2349.5,880.6 2350.5,881.1 2351.5,881.6 2352.5,882.1 2353.5,881.1 2354.5,880.1 2355.5,879.1 2356.5,879.6 2357.5,880.1 2358.5,880.6 2359.5,880.5 2360.5,880.5 2361.5,880.5 2362.5,880.2 2363.5,879.8 2364.5,879.5 2365.5,879.0 2366.5,878.4 2367.5,877.8 2368.5,878.0 2369.5,878.2 2370.5,878.4 2371.5,877.5 2372.5,876.5 2373.5,875.5 2374.5,874.7 2375.5,873.8 2376.5,872.9 2377.5,872.7 2378.5,872.5 2379.5,872.2 2380.5,871.9 2381.5,871.5 2382.5,871.1 2383.5,871.9 2384.5,872.8 2385.5,873.7 2386.5,872.7 2387.5,871.6 2388.5,870.6 2389.5,871.9 2390.5,873.2 2391.5,874.5 2392.5,874.0 2393.5,873.4 2394.5,872.8 2395.5,872.3 2396.5,872.0 2397.5,871.6 2398.5,873.3 2399.5,874.9 2400.5,875.9 2401.5,876.0 2402.5,876.0 2403.5,876.0" stroke="#00AC62"/>
</g>
<rect id="highlight" x="436" y="513" width="123" height="1521" fill="#F5EF8F" fill-opacity="0.52"/>
<g id="guides" stroke="#000" stroke-width="4.5" fill="none">
<line x1="459.3" y1="768.3" x2="457.8" y2="2026.8" stroke-dasharray="12 7.794"/>
<line x1="496.8" y1="645.3" x2="496.0" y2="2034.0" stroke-dasharray="12 7.800"/>
<line x1="769.2" y1="732.3" x2="772.0" y2="2028.0" stroke-dasharray="12 7.790"/>
<line x1="1088.0" y1="823.0" x2="1088.0" y2="2022.0" stroke-dasharray="12 7.810"/>
<line x1="2156.8" y1="819.0" x2="2156.8" y2="2115.5" stroke-dasharray="12 7.800"/>
</g>
<g id="arrow"><line x1="553" y1="514" x2="1128" y2="389.6" stroke="#000" stroke-width="3.6"/>
<polygon points="1177,379 1122,377 1127.5,404" fill="#000"/></g>
<g id="inset">
<path d="M1287,53H2056V617H1287Z M1294,60V610H2049V60Z" fill="#000" fill-rule="evenodd"/>
<rect x="1292" y="579" width="7" height="32" fill="#000"/>
<rect x="1431" y="597" width="7" height="14" fill="#000"/>
<rect x="1570" y="579" width="7" height="32" fill="#000"/>
<rect x="1709" y="597" width="7" height="14" fill="#000"/>
<rect x="1848" y="579" width="7" height="32" fill="#000"/>
<rect x="1988" y="597" width="7" height="14" fill="#000"/>
<g fill="none" stroke-width="8.5" stroke-linejoin="round">
<path d="M1291.2,577.9 1293.2,577.5 1295.2,577.6 1297.2,578.1 1299.2,576.8 1301.2,576.7 1303.2,576.9 1305.2,578.0 1307.2,576.6 1309.2,577.8 1311.2,577.6 1313.2,576.4 1315.2,577.2 1317.2,576.9 1319.2,576.8 1321.2,578.0 1323.2,576.0 1325.2,575.7 1327.2,577.4 1329.2,575.9 1331.2,575.1 1333.2,575.0 1335.2,574.7 1337.2,575.6 1339.2,573.6 1341.2,573.2 1343.2,573.7 1345.2,573.6 1347.2,574.4 1349.2,574.1 1351.2,572.9 1353.2,572.5 1355.2,573.9 1357.2,573.8 1359.2,571.0 1361.2,571.9 1363.2,571.6 1365.2,570.7 1367.2,570.0 1369.2,571.6 1371.2,571.8 1373.2,569.4 1375.2,569.0 1377.2,566.8 1379.2,565.9 1381.2,566.3 1383.2,566.2 1385.2,566.1 1387.2,566.5 1389.2,566.8 1391.2,566.8 1393.2,566.4 1395.2,565.9 1397.2,565.0 1399.2,563.4 1401.2,562.6 1403.2,563.1 1405.2,562.1 1407.2,561.4 1409.2,559.1 1411.2,558.4 1413.2,559.0 1415.2,557.4 1417.2,557.8 1419.2,556.7 1421.2,557.6 1423.2,558.9 1425.2,558.5 1427.2,559.1 1429.2,557.0 1431.2,557.3 1433.2,557.7 1435.2,556.6 1437.2,557.2 1439.2,557.3 1441.2,556.8 1443.2,557.3 1445.2,558.6 1447.2,555.9 1449.2,556.6 1451.2,558.0 1453.2,559.8 1455.2,559.3 1457.2,557.7 1459.2,557.3 1461.2,558.3 1463.2,557.6 1465.2,558.2 1467.2,559.1 1469.2,559.6 1471.2,558.6 1473.2,559.0 1475.2,559.3 1477.2,560.9 1479.2,561.1 1481.2,562.4 1483.2,563.3 1485.2,563.5 1487.2,565.8 1489.2,566.2 1491.2,564.7 1493.2,563.8 1495.2,564.5 1497.2,564.8 1499.2,565.1 1501.2,565.4 1503.2,566.2 1505.2,568.2 1507.2,566.4 1509.2,567.7 1511.2,566.8 1513.2,566.7 1515.2,567.8 1517.2,566.3 1519.2,565.7 1521.2,565.9 1523.2,566.6 1525.2,566.8 1527.2,567.5 1529.2,566.0 1531.2,566.1 1533.2,567.0 1535.2,566.9 1537.2,567.9 1539.2,566.2 1541.2,564.4 1543.2,563.3 1545.2,563.7 1547.2,562.5 1549.2,562.4 1551.2,561.6 1553.2,561.2 1555.2,559.8 1557.2,560.2 1559.2,557.6 1561.2,557.1 1563.2,555.4 1565.2,554.9 1567.2,553.7 1569.2,553.0 1571.2,552.6 1573.2,551.2 1575.2,549.1 1577.2,548.3 1579.2,546.2 1581.2,544.4 1583.2,540.7 1585.2,540.2 1587.2,539.1 1589.2,535.9 1591.2,534.0 1593.2,533.8 1595.2,531.3 1597.2,529.9 1599.2,529.3 1601.2,525.6 1603.2,520.2 1605.2,514.2 1607.2,504.7 1609.2,497.5 1611.2,492.8 1613.2,489.7 1615.2,484.1 1617.2,480.9 1619.2,478.2 1621.2,476.0 1623.2,475.4 1625.2,475.7 1627.2,472.2 1629.2,466.5 1631.2,460.9 1633.2,458.9 1635.2,455.5 1637.2,452.9 1639.2,448.8 1641.2,446.1 1643.2,444.2 1645.2,442.4 1647.2,439.0 1649.2,438.4 1651.2,435.7 1653.2,433.4 1655.2,433.0 1657.2,430.6 1659.2,430.3 1661.2,431.5 1663.2,431.7 1665.2,432.0 1667.2,431.9 1669.2,432.9 1671.2,432.1 1673.2,432.5 1675.2,432.8 1677.2,434.3 1679.2,437.2 1681.2,439.8 1683.2,443.0 1685.2,444.3 1687.2,447.0 1689.2,449.8 1691.2,450.7 1693.2,451.2 1695.2,452.8 1697.2,454.9 1699.2,454.8 1701.2,459.3 1703.2,461.8 1705.2,467.8 1707.2,470.4 1709.2,472.2 1711.2,476.1 1713.2,478.2 1715.2,479.6 1717.2,486.0 1719.2,492.5 1721.2,495.6 1723.2,495.5 1725.2,497.1 1727.2,499.5 1729.2,500.7 1731.2,504.2 1733.2,508.2 1735.2,511.7 1737.2,514.2 1739.2,515.4 1741.2,518.6 1743.2,519.3 1745.2,520.9 1747.2,525.9 1749.2,531.8 1751.2,535.6 1753.2,537.7 1755.2,539.7 1757.2,541.1 1759.2,542.5 1761.2,542.9 1763.2,545.3 1765.2,544.3 1767.2,547.1 1769.2,549.6 1771.2,550.1 1773.2,552.0 1775.2,552.6 1777.2,553.8 1779.2,553.2 1781.2,554.0 1783.2,553.4 1785.2,556.1 1787.2,556.7 1789.2,557.7 1791.2,559.8 1793.2,560.8 1795.2,561.6 1797.2,561.6 1799.2,562.3 1801.2,561.6 1803.2,562.2 1805.2,563.0 1807.2,562.7 1809.2,562.7 1811.2,564.3 1813.2,565.6 1815.2,566.3 1817.2,565.3 1819.2,566.6 1821.2,566.6 1823.2,567.1 1825.2,568.7 1827.2,567.8 1829.2,567.8 1831.2,568.0 1833.2,568.7 1835.2,569.7 1837.2,569.4 1839.2,569.5 1841.2,570.1 1843.2,570.6 1845.2,572.5 1847.2,571.2 1849.2,572.6 1851.2,571.4 1853.2,573.0 1855.2,572.1 1857.2,573.4 1859.2,572.8 1861.2,572.2 1863.2,572.3 1865.2,573.9 1867.2,573.4 1869.2,573.3 1871.2,573.0 1873.2,573.9 1875.2,573.4 1877.2,572.7 1879.2,574.1 1881.2,573.8 1883.2,575.2 1885.2,574.8 1887.2,575.6 1889.2,574.4 1891.2,575.4 1893.2,574.8 1895.2,574.9 1897.2,575.3 1899.2,575.3 1901.2,576.2 1903.2,577.4 1905.2,576.9 1907.2,577.5 1909.2,578.1 1911.2,577.7 1913.2,577.5 1915.2,578.2 1917.2,578.5 1919.2,576.9 1921.2,576.7 1923.2,578.2 1925.2,577.4 1927.2,579.6 1929.2,578.8 1931.2,579.2 1933.2,580.1 1935.2,580.5 1937.2,579.2 1939.2,579.9 1941.2,579.3 1943.2,579.8 1945.2,579.0 1947.2,580.6 1949.2,579.4 1951.2,579.4 1953.2,580.4 1955.2,580.0 1957.2,578.6 1959.2,578.7 1961.2,578.7 1963.2,578.5 1965.2,579.5 1967.2,582.1 1969.2,580.9 1971.2,581.8 1973.2,581.5 1975.2,580.8 1977.2,580.0 1979.2,580.7 1981.2,580.3 1983.2,579.0 1985.2,581.2 1987.2,580.9 1989.2,580.5 1991.2,580.6 1993.2,580.8 1995.2,582.6 1997.2,582.8 1999.2,581.8 2001.2,581.6 2003.2,581.5 2005.2,582.4 2007.2,582.2 2009.2,581.3 2011.2,581.5 2013.2,582.2 2015.2,580.2 2017.2,580.5 2019.2,580.6 2021.2,580.1 2023.2,580.0 2025.2,580.3 2027.2,580.6 2029.2,582.6 2031.2,582.6 2033.2,582.5 2035.2,583.1 2037.2,582.0 2039.2,582.0 2041.2,583.4 2043.2,582.5 2045.2,583.0 2047.2,581.5 2049.2,581.5 2051.2,581.5 2052.8,581.2" stroke="#505050"/>
<path d="M1291.2,422.9 1293.2,422.5 1295.2,422.3 1297.2,423.3 1299.2,422.2 1301.2,422.5 1303.2,421.0 1305.2,421.6 1307.2,422.1 1309.2,421.1 1311.2,421.7 1313.2,421.3 1315.2,419.9 1317.2,418.8 1319.2,420.3 1321.2,419.2 1323.2,419.3 1325.2,421.2 1327.2,420.9 1329.2,420.1 1331.2,419.7 1333.2,417.3 1335.2,416.3 1337.2,416.3 1339.2,419.1 1341.2,418.1 1343.2,418.8 1345.2,417.8 1347.2,417.1 1349.2,416.3 1351.2,416.2 1353.2,415.5 1355.2,415.7 1357.2,417.0 1359.2,415.2 1361.2,416.5 1363.2,416.2 1365.2,415.7 1367.2,415.6 1369.2,415.9 1371.2,415.1 1373.2,414.0 1375.2,413.9 1377.2,413.4 1379.2,413.4 1381.2,414.4 1383.2,412.4 1385.2,410.6 1387.2,410.5 1389.2,411.5 1391.2,411.3 1393.2,412.5 1395.2,411.2 1397.2,411.2 1399.2,412.6 1401.2,411.3 1403.2,411.9 1405.2,412.1 1407.2,411.7 1409.2,411.4 1411.2,411.3 1413.2,413.3 1415.2,412.6 1417.2,413.2 1419.2,412.1 1421.2,413.0 1423.2,414.1 1425.2,415.1 1427.2,415.4 1429.2,415.4 1431.2,414.9 1433.2,415.2 1435.2,416.1 1437.2,415.0 1439.2,416.5 1441.2,415.8 1443.2,416.0 1445.2,416.6 1447.2,416.3 1449.2,415.6 1451.2,416.4 1453.2,416.4 1455.2,417.0 1457.2,419.6 1459.2,419.4 1461.2,420.7 1463.2,420.2 1465.2,419.1 1467.2,420.5 1469.2,420.4 1471.2,419.3 1473.2,418.4 1475.2,418.9 1477.2,418.5 1479.2,419.2 1481.2,419.0 1483.2,420.9 1485.2,421.8 1487.2,420.0 1489.2,421.2 1491.2,420.7 1493.2,420.4 1495.2,421.2 1497.2,420.3 1499.2,421.6 1501.2,420.3 1503.2,422.7 1505.2,420.8 1507.2,419.4 1509.2,420.3 1511.2,419.0 1513.2,418.8 1515.2,418.9 1517.2,417.9 1519.2,417.1 1521.2,417.4 1523.2,418.7 1525.2,418.6 1527.2,416.8 1529.2,417.1 1531.2,416.9 1533.2,417.7 1535.2,415.5 1537.2,417.1 1539.2,414.8 1541.2,414.5 1543.2,412.6 1545.2,411.5 1547.2,412.2 1549.2,410.8 1551.2,411.6 1553.2,411.1 1555.2,410.6 1557.2,408.7 1559.2,408.8 1561.2,408.7 1563.2,406.6 1565.2,404.7 1567.2,403.9 1569.2,404.7 1571.2,403.2 1573.2,399.8 1575.2,398.1 1577.2,397.2 1579.2,394.9 1581.2,392.5 1583.2,392.6 1585.2,390.2 1587.2,388.1 1589.2,385.7 1591.2,385.2 1593.2,383.8 1595.2,380.6 1597.2,378.4 1599.2,377.8 1601.2,375.6 1603.2,370.7 1605.2,367.2 1607.2,364.0 1609.2,360.4 1611.2,356.2 1613.2,353.2 1615.2,349.1 1617.2,345.1 1619.2,340.9 1621.2,337.9 1623.2,334.1 1625.2,332.1 1627.2,327.6 1629.2,325.6 1631.2,322.0 1633.2,318.4 1635.2,315.7 1637.2,314.3 1639.2,311.6 1641.2,309.4 1643.2,307.2 1645.2,307.5 1647.2,307.4 1649.2,306.1 1651.2,305.1 1653.2,305.8 1655.2,302.9 1657.2,303.0 1659.2,300.8 1661.2,297.8 1663.2,298.9 1665.2,298.8 1667.2,302.9 1669.2,306.1 1671.2,307.7 1673.2,309.9 1675.2,309.9 1677.2,309.8 1679.2,310.0 1681.2,309.3 1683.2,313.6 1685.2,314.5 1687.2,317.4 1689.2,319.7 1691.2,322.1 1693.2,323.4 1695.2,327.8 1697.2,329.3 1699.2,331.4 1701.2,334.8 1703.2,337.2 1705.2,339.3 1707.2,341.9 1709.2,342.7 1711.2,344.2 1713.2,346.4 1715.2,348.0 1717.2,349.4 1719.2,350.3 1721.2,351.1 1723.2,352.0 1725.2,354.2 1727.2,356.3 1729.2,357.4 1731.2,361.4 1733.2,364.2 1735.2,367.1 1737.2,371.6 1739.2,375.4 1741.2,377.5 1743.2,381.7 1745.2,383.0 1747.2,384.5 1749.2,386.2 1751.2,387.8 1753.2,388.7 1755.2,392.1 1757.2,393.8 1759.2,395.5 1761.2,396.3 1763.2,395.4 1765.2,396.7 1767.2,399.5 1769.2,399.7 1771.2,403.6 1773.2,403.9 1775.2,403.4 1777.2,404.4 1779.2,403.1 1781.2,403.5 1783.2,405.7 1785.2,405.4 1787.2,405.0 1789.2,405.6 1791.2,406.9 1793.2,407.7 1795.2,409.6 1797.2,408.8 1799.2,410.8 1801.2,411.4 1803.2,412.6 1805.2,414.5 1807.2,413.5 1809.2,415.5 1811.2,415.6 1813.2,415.0 1815.2,415.1 1817.2,416.9 1819.2,417.5 1821.2,416.8 1823.2,416.7 1825.2,418.0 1827.2,418.7 1829.2,418.3 1831.2,418.5 1833.2,418.0 1835.2,418.2 1837.2,418.5 1839.2,419.8 1841.2,418.5 1843.2,418.8 1845.2,419.5 1847.2,419.2 1849.2,419.4 1851.2,420.7 1853.2,419.8 1855.2,420.7 1857.2,419.9 1859.2,421.0 1861.2,421.6 1863.2,421.6 1865.2,421.6 1867.2,421.8 1869.2,422.6 1871.2,423.1 1873.2,422.7 1875.2,423.6 1877.2,424.0 1879.2,423.3 1881.2,424.8 1883.2,425.7 1885.2,425.1 1887.2,424.4 1889.2,425.2 1891.2,425.4 1893.2,425.4 1895.2,425.3 1897.2,424.8 1899.2,425.2 1901.2,424.7 1903.2,423.7 1905.2,423.2 1907.2,423.7 1909.2,423.9 1911.2,422.7 1913.2,422.7 1915.2,421.8 1917.2,421.5 1919.2,421.7 1921.2,422.7 1923.2,421.1 1925.2,421.8 1927.2,422.8 1929.2,424.6 1931.2,423.4 1933.2,423.5 1935.2,424.0 1937.2,425.1 1939.2,424.2 1941.2,425.3 1943.2,423.6 1945.2,423.5 1947.2,423.2 1949.2,423.9 1951.2,423.7 1953.2,424.1 1955.2,424.4 1957.2,424.7 1959.2,425.8 1961.2,425.0 1963.2,424.5 1965.2,423.8 1967.2,425.4 1969.2,425.2 1971.2,425.2 1973.2,424.6 1975.2,424.2 1977.2,424.2 1979.2,424.2 1981.2,425.0 1983.2,425.2 1985.2,426.6 1987.2,425.2 1989.2,426.6 1991.2,426.7 1993.2,426.6 1995.2,426.5 1997.2,425.2 1999.2,425.4 2001.2,426.2 2003.2,426.4 2005.2,427.2 2007.2,427.2 2009.2,426.3 2011.2,426.6 2013.2,428.3 2015.2,427.0 2017.2,429.3 2019.2,427.9 2021.2,429.2 2023.2,429.5 2025.2,427.7 2027.2,427.5 2029.2,428.5 2031.2,428.5 2033.2,426.7 2035.2,427.7 2037.2,428.5 2039.2,428.5 2041.2,427.8 2043.2,427.0 2045.2,428.4 2047.2,428.3 2049.2,428.2 2051.2,428.4 2052.8,428.4" stroke="#FF4040"/>
<path d="M1291.2,298.2 1293.2,298.3 1295.2,298.6 1297.2,297.7 1299.2,298.5 1301.2,299.0 1303.2,299.1 1305.2,297.5 1307.2,298.5 1309.2,298.4 1311.2,298.0 1313.2,298.7 1315.2,297.3 1317.2,296.8 1319.2,297.5 1321.2,296.4 1323.2,295.3 1325.2,295.0 1327.2,295.6 1329.2,295.0 1331.2,296.5 1333.2,296.3 1335.2,294.5 1337.2,294.3 1339.2,293.7 1341.2,292.9 1343.2,293.2 1345.2,292.0 1347.2,291.9 1349.2,294.0 1351.2,292.5 1353.2,292.4 1355.2,294.0 1357.2,293.7 1359.2,292.2 1361.2,292.4 1363.2,291.9 1365.2,291.7 1367.2,290.9 1369.2,291.8 1371.2,291.0 1373.2,291.2 1375.2,290.7 1377.2,290.6 1379.2,290.4 1381.2,292.2 1383.2,292.0 1385.2,291.5 1387.2,290.6 1389.2,290.6 1391.2,290.7 1393.2,291.8 1395.2,291.8 1397.2,293.0 1399.2,293.5 1401.2,293.7 1403.2,294.9 1405.2,294.6 1407.2,294.8 1409.2,294.7 1411.2,295.3 1413.2,295.9 1415.2,294.7 1417.2,294.0 1419.2,294.8 1421.2,294.4 1423.2,295.1 1425.2,293.5 1427.2,295.2 1429.2,293.6 1431.2,295.0 1433.2,295.0 1435.2,295.1 1437.2,297.0 1439.2,297.2 1441.2,296.6 1443.2,297.9 1445.2,298.8 1447.2,298.1 1449.2,298.3 1451.2,299.4 1453.2,299.7 1455.2,299.0 1457.2,298.9 1459.2,299.0 1461.2,298.5 1463.2,299.8 1465.2,299.9 1467.2,298.8 1469.2,297.8 1471.2,298.5 1473.2,299.4 1475.2,298.3 1477.2,297.8 1479.2,297.8 1481.2,298.8 1483.2,298.4 1485.2,297.5 1487.2,298.0 1489.2,298.1 1491.2,298.3 1493.2,297.9 1495.2,296.8 1497.2,297.4 1499.2,297.5 1501.2,297.4 1503.2,297.3 1505.2,297.1 1507.2,297.2 1509.2,298.1 1511.2,297.7 1513.2,297.3 1515.2,295.7 1517.2,294.8 1519.2,294.6 1521.2,294.6 1523.2,294.1 1525.2,292.8 1527.2,292.2 1529.2,293.4 1531.2,291.0 1533.2,292.4 1535.2,291.5 1537.2,290.6 1539.2,291.0 1541.2,289.8 1543.2,287.8 1545.2,289.2 1547.2,287.2 1549.2,287.5 1551.2,286.5 1553.2,284.2 1555.2,283.2 1557.2,282.3 1559.2,283.2 1561.2,282.4 1563.2,280.4 1565.2,279.4 1567.2,278.6 1569.2,278.2 1571.2,276.6 1573.2,275.5 1575.2,274.3 1577.2,272.4 1579.2,271.1 1581.2,267.8 1583.2,266.3 1585.2,266.6 1587.2,263.1 1589.2,259.5 1591.2,256.0 1593.2,254.4 1595.2,252.7 1597.2,251.3 1599.2,249.4 1601.2,247.3 1603.2,245.8 1605.2,244.8 1607.2,243.4 1609.2,242.0 1611.2,234.4 1613.2,225.3 1615.2,220.0 1617.2,217.1 1619.2,214.5 1621.2,213.4 1623.2,211.7 1625.2,210.4 1627.2,209.7 1629.2,209.5 1631.2,208.5 1633.2,205.3 1635.2,202.4 1637.2,200.6 1639.2,197.7 1641.2,198.0 1643.2,197.2 1645.2,196.5 1647.2,197.2 1649.2,195.9 1651.2,195.2 1653.2,195.3 1655.2,197.1 1657.2,195.7 1659.2,195.2 1661.2,197.0 1663.2,196.1 1665.2,196.7 1667.2,195.2 1669.2,196.1 1671.2,195.4 1673.2,198.0 1675.2,201.3 1677.2,202.9 1679.2,205.6 1681.2,205.8 1683.2,207.1 1685.2,205.6 1687.2,207.0 1689.2,206.9 1691.2,209.7 1693.2,214.0 1695.2,215.7 1697.2,219.3 1699.2,220.2 1701.2,223.2 1703.2,225.6 1705.2,227.0 1707.2,228.1 1709.2,231.3 1711.2,234.4 1713.2,236.6 1715.2,238.3 1717.2,240.7 1719.2,242.9 1721.2,247.1 1723.2,248.6 1725.2,251.5 1727.2,253.9 1729.2,256.3 1731.2,258.5 1733.2,260.3 1735.2,261.3 1737.2,263.6 1739.2,266.0 1741.2,266.2 1743.2,267.6 1745.2,269.8 1747.2,271.9 1749.2,273.3 1751.2,273.9 1753.2,274.1 1755.2,276.4 1757.2,276.5 1759.2,276.7 1761.2,277.4 1763.2,278.7 1765.2,280.8 1767.2,282.8 1769.2,284.1 1771.2,283.8 1773.2,284.6 1775.2,285.0 1777.2,286.3 1779.2,286.7 1781.2,286.1 1783.2,286.5 1785.2,287.5 1787.2,286.0 1789.2,286.1 1791.2,287.0 1793.2,288.9 1795.2,288.5 1797.2,290.4 1799.2,291.1 1801.2,291.3 1803.2,291.5 1805.2,290.4 1807.2,291.3 1809.2,292.5 1811.2,291.6 1813.2,292.7 1815.2,293.7 1817.2,294.3 1819.2,293.4 1821.2,293.3 1823.2,293.5 1825.2,294.5 1827.2,295.4 1829.2,295.2 1831.2,296.8 1833.2,296.8 1835.2,297.1 1837.2,297.9 1839.2,297.1 1841.2,298.2 1843.2,297.8 1845.2,298.0 1847.2,297.3 1849.2,298.1 1851.2,298.2 1853.2,296.7 1855.2,298.6 1857.2,297.6 1859.2,298.8 1861.2,299.0 1863.2,300.7 1865.2,300.1 1867.2,300.7 1869.2,300.5 1871.2,300.3 1873.2,300.2 1875.2,299.8 1877.2,299.7 1879.2,300.9 1881.2,301.3 1883.2,301.2 1885.2,300.3 1887.2,301.9 1889.2,299.3 1891.2,299.4 1893.2,298.5 1895.2,298.1 1897.2,300.2 1899.2,300.0 1901.2,299.0 1903.2,299.5 1905.2,301.2 1907.2,300.6 1909.2,300.7 1911.2,301.0 1913.2,301.3 1915.2,302.2 1917.2,301.9 1919.2,302.8 1921.2,301.9 1923.2,303.0 1925.2,302.8 1927.2,302.0 1929.2,303.0 1931.2,302.9 1933.2,302.1 1935.2,301.4 1937.2,300.6 1939.2,301.4 1941.2,300.4 1943.2,300.1 1945.2,301.0 1947.2,300.4 1949.2,301.5 1951.2,301.8 1953.2,300.3 1955.2,301.8 1957.2,300.9 1959.2,301.3 1961.2,302.3 1963.2,302.9 1965.2,301.5 1967.2,302.5 1969.2,301.6 1971.2,302.9 1973.2,301.2 1975.2,302.3 1977.2,301.0 1979.2,302.0 1981.2,302.4 1983.2,302.8 1985.2,302.5 1987.2,302.4 1989.2,302.6 1991.2,303.5 1993.2,304.1 1995.2,304.5 1997.2,304.9 1999.2,304.7 2001.2,304.8 2003.2,303.8 2005.2,304.1 2007.2,303.5 2009.2,302.9 2011.2,304.0 2013.2,303.3 2015.2,304.5 2017.2,304.8 2019.2,304.8 2021.2,304.6 2023.2,303.8 2025.2,303.1 2027.2,302.3 2029.2,302.8 2031.2,303.1 2033.2,301.6 2035.2,301.4 2037.2,302.9 2039.2,303.4 2041.2,302.1 2043.2,302.2 2045.2,302.4 2047.2,303.6 2049.2,304.1 2051.2,303.8 2052.8,304.1" stroke="#0069E1"/>
<path d="M1291.2,189.5 1293.2,189.5 1295.2,189.8 1297.2,190.1 1299.2,190.0 1301.2,188.7 1303.2,189.9 1305.2,188.7 1307.2,188.3 1309.2,187.8 1311.2,188.6 1313.2,187.7 1315.2,187.9 1317.2,188.8 1319.2,189.3 1321.2,189.3 1323.2,188.0 1325.2,188.0 1327.2,188.5 1329.2,189.3 1331.2,190.0 1333.2,190.1 1335.2,190.5 1337.2,189.8 1339.2,190.0 1341.2,189.4 1343.2,189.5 1345.2,189.4 1347.2,190.2 1349.2,190.5 1351.2,190.5 1353.2,190.2 1355.2,190.3 1357.2,190.0 1359.2,191.4 1361.2,191.0 1363.2,191.4 1365.2,191.6 1367.2,190.6 1369.2,190.3 1371.2,190.8 1373.2,192.2 1375.2,192.1 1377.2,191.3 1379.2,192.2 1381.2,191.3 1383.2,192.6 1385.2,191.0 1387.2,192.5 1389.2,193.1 1391.2,191.9 1393.2,192.1 1395.2,191.4 1397.2,191.8 1399.2,191.7 1401.2,191.9 1403.2,191.5 1405.2,192.0 1407.2,191.6 1409.2,192.6 1411.2,192.4 1413.2,192.1 1415.2,193.7 1417.2,192.3 1419.2,192.9 1421.2,193.7 1423.2,193.5 1425.2,194.0 1427.2,193.2 1429.2,193.9 1431.2,192.1 1433.2,193.6 1435.2,192.8 1437.2,192.8 1439.2,193.9 1441.2,193.9 1443.2,193.0 1445.2,193.1 1447.2,192.9 1449.2,194.2 1451.2,193.5 1453.2,192.6 1455.2,193.1 1457.2,192.0 1459.2,192.4 1461.2,192.8 1463.2,193.8 1465.2,193.4 1467.2,192.7 1469.2,193.1 1471.2,191.9 1473.2,192.7 1475.2,193.3 1477.2,191.4 1479.2,193.0 1481.2,193.0 1483.2,191.5 1485.2,192.4 1487.2,192.7 1489.2,190.7 1491.2,191.3 1493.2,191.4 1495.2,191.7 1497.2,190.5 1499.2,191.4 1501.2,191.2 1503.2,191.4 1505.2,191.0 1507.2,191.2 1509.2,190.5 1511.2,190.2 1513.2,189.7 1515.2,189.2 1517.2,189.0 1519.2,188.7 1521.2,188.1 1523.2,187.2 1525.2,187.4 1527.2,188.3 1529.2,186.5 1531.2,187.6 1533.2,187.0 1535.2,185.8 1537.2,184.9 1539.2,186.0 1541.2,185.6 1543.2,183.6 1545.2,183.7 1547.2,183.3 1549.2,182.4 1551.2,180.7 1553.2,180.4 1555.2,180.9 1557.2,180.1 1559.2,179.6 1561.2,178.1 1563.2,178.4 1565.2,177.2 1567.2,175.5 1569.2,175.4 1571.2,173.1 1573.2,172.6 1575.2,171.6 1577.2,171.5 1579.2,170.3 1581.2,167.7 1583.2,167.5 1585.2,165.2 1587.2,165.3 1589.2,164.8 1591.2,163.8 1593.2,161.9 1595.2,162.0 1597.2,160.2 1599.2,158.7 1601.2,155.4 1603.2,153.3 1605.2,151.3 1607.2,151.8 1609.2,150.0 1611.2,149.4 1613.2,148.3 1615.2,146.3 1617.2,146.4 1619.2,145.1 1621.2,145.2 1623.2,142.6 1625.2,140.3 1627.2,137.0 1629.2,136.7 1631.2,136.6 1633.2,135.5 1635.2,132.4 1637.2,126.4 1639.2,124.1 1641.2,120.4 1643.2,118.8 1645.2,117.3 1647.2,118.1 1649.2,117.1 1651.2,116.6 1653.2,117.3 1655.2,116.0 1657.2,115.4 1659.2,114.7 1661.2,117.0 1663.2,118.2 1665.2,118.6 1667.2,119.8 1669.2,117.8 1671.2,119.3 1673.2,117.3 1675.2,117.7 1677.2,118.0 1679.2,119.6 1681.2,119.3 1683.2,119.3 1685.2,121.4 1687.2,122.1 1689.2,122.9 1691.2,125.3 1693.2,127.2 1695.2,128.3 1697.2,129.9 1699.2,130.5 1701.2,131.7 1703.2,132.8 1705.2,136.2 1707.2,141.6 1709.2,149.5 1711.2,152.2 1713.2,152.3 1715.2,155.7 1717.2,156.0 1719.2,156.4 1721.2,158.9 1723.2,159.8 1725.2,159.6 1727.2,161.7 1729.2,163.1 1731.2,162.9 1733.2,163.8 1735.2,165.7 1737.2,164.9 1739.2,165.9 1741.2,166.3 1743.2,167.9 1745.2,168.5 1747.2,169.0 1749.2,169.6 1751.2,170.5 1753.2,172.8 1755.2,173.3 1757.2,174.7 1759.2,174.1 1761.2,176.8 1763.2,177.2 1765.2,177.8 1767.2,179.3 1769.2,177.9 1771.2,179.4 1773.2,179.0 1775.2,178.7 1777.2,180.6 1779.2,179.3 1781.2,181.2 1783.2,180.5 1785.2,182.0 1787.2,180.6 1789.2,181.8 1791.2,183.4 1793.2,183.0 1795.2,183.6 1797.2,183.9 1799.2,184.6 1801.2,184.7 1803.2,184.9 1805.2,185.4 1807.2,187.1 1809.2,186.5 1811.2,187.8 1813.2,188.4 1815.2,188.4 1817.2,188.3 1819.2,188.5 1821.2,188.0 1823.2,187.8 1825.2,187.0 1827.2,187.0 1829.2,187.5 1831.2,188.0 1833.2,188.1 1835.2,187.1 1837.2,188.4 1839.2,188.0 1841.2,188.2 1843.2,187.8 1845.2,189.6 1847.2,190.0 1849.2,190.2 1851.2,189.2 1853.2,189.3 1855.2,191.5 1857.2,190.6 1859.2,191.1 1861.2,189.7 1863.2,190.4 1865.2,188.7 1867.2,188.9 1869.2,190.6 1871.2,191.0 1873.2,190.7 1875.2,191.5 1877.2,192.1 1879.2,191.6 1881.2,191.5 1883.2,193.0 1885.2,192.9 1887.2,194.9 1889.2,193.1 1891.2,193.7 1893.2,193.0 1895.2,193.3 1897.2,192.7 1899.2,192.7 1901.2,193.7 1903.2,193.6 1905.2,193.3 1907.2,194.0 1909.2,193.8 1911.2,192.6 1913.2,193.1 1915.2,192.5 1917.2,192.5 1919.2,191.1 1921.2,192.3 1923.2,191.6 1925.2,190.4 1927.2,190.8 1929.2,192.3 1931.2,193.6 1933.2,193.5 1935.2,193.6 1937.2,194.4 1939.2,193.2 1941.2,192.7 1943.2,193.6 1945.2,193.4 1947.2,194.0 1949.2,192.8 1951.2,194.4 1953.2,194.6 1955.2,194.1 1957.2,193.6 1959.2,192.8 1961.2,192.5 1963.2,193.8 1965.2,194.5 1967.2,193.2 1969.2,194.5 1971.2,194.9 1973.2,194.7 1975.2,194.2 1977.2,194.7 1979.2,194.0 1981.2,194.5 1983.2,194.0 1985.2,195.4 1987.2,194.3 1989.2,195.7 1991.2,195.6 1993.2,194.6 1995.2,194.4 1997.2,195.8 1999.2,194.9 2001.2,195.5 2003.2,195.9 2005.2,194.6 2007.2,194.2 2009.2,195.1 2011.2,195.2 2013.2,194.8 2015.2,193.6 2017.2,194.5 2019.2,194.8 2021.2,195.3 2023.2,193.8 2025.2,193.8 2027.2,193.8 2029.2,194.5 2031.2,193.4 2033.2,194.4 2035.2,193.8 2037.2,193.8 2039.2,192.6 2041.2,194.3 2043.2,193.6 2045.2,193.8 2047.2,193.8 2049.2,194.8 2051.2,194.6 2052.8,194.5" stroke="#00AC62"/>
</g></g>
<g id="labels">
<text transform="translate(168.5 2141) scale(1.023 1.0)" font-family="'Liberation Serif','Noto Serif CJK SC',serif" font-size="86" font-weight="bold" text-anchor="middle" fill="#000">30</text>
<text transform="translate(392.0 2141) scale(1.023 1.0)" font-family="'Liberation Serif','Noto Serif CJK SC',serif" font-size="86" font-weight="bold" text-anchor="middle" fill="#000">35</text>
<text transform="translate(615.5 2141) scale(1.023 1.0)" font-family="'Liberation Serif','Noto Serif CJK SC',serif" font-size="86" font-weight="bold" text-anchor="middle" fill="#000">40</text>
<text transform="translate(839.0 2141) scale(1.023 1.0)" font-family="'Liberation Serif','Noto Serif CJK SC',serif" font-size="86" font-weight="bold" text-anchor="middle" fill="#000">45</text>
<text transform="translate(1062.5 2141) scale(1.023 1.0)" font-family="'Liberation Serif','Noto Serif CJK SC',serif" font-size="86" font-weight="bold" text-anchor="middle" fill="#000">50</text>
<text transform="translate(1286.0 2141) scale(1.023 1.0)" font-family="'Liberation Serif','Noto Serif CJK SC',serif" font-size="86" font-weight="bold" text-anchor="middle" fill="#000">55</text>
<text transform="translate(1509.5 2141) scale(1.023 1.0)" font-family="'Liberation Serif','Noto Serif CJK SC',serif" font-size="86" font-weight="bold" text-anchor="middle" fill="#000">60</text>
<text transform="translate(1733.0 2141) scale(1.023 1.0)" font-family="'Liberation Serif','Noto Serif CJK SC',serif" font-size="86" font-weight="bold" text-anchor="middle" fill="#000">65</text>
<text transform="translate(1956.5 2141) scale(1.023 1.0)" font-family="'Liberation Serif','Noto Serif CJK SC',serif" font-size="86" font-weight="bold" text-anchor="middle" fill="#000">70</text>
<text transform="translate(2180.0 2141) scale(1.023 1.0)" font-family="'Liberation Serif','Noto Serif CJK SC',serif" font-size="86" font-weight="bold" text-anchor="middle" fill="#000">75</text>
<text transform="translate(2403.5 2141) scale(1.023 1.0)" font-family="'Liberation Serif','Noto Serif CJK SC',serif" font-size="86" font-weight="bold" text-anchor="middle" fill="#000">80</text>
<text transform="translate(1257.5 2215.5) scale(1.02 1.0)" font-family="'Liberation Serif','Noto Serif CJK SC',serif" font-size="90" font-weight="bold" text-anchor="middle" fill="#000">2θ(°)</text>
<text transform="translate(89.4 1278) rotate(-90) scale(0.9855 1.0)" font-family="'Liberation Serif','Noto Serif CJK SC',serif" font-size="92" font-weight="bold" text-anchor="start" fill="#000">Intensity(a.u.)</text>
<text transform="translate(232 743) scale(0.994 1.0)" font-family="'Liberation Serif','Noto Serif CJK SC',serif" font-size="61.5" text-anchor="start" fill="#000">AlN(002)</text>
<text transform="translate(979 794.5) scale(0.99 1.0)" font-family="'Liberation Serif','Noto Serif CJK SC',serif" font-size="61.5" text-anchor="start" fill="#000">AlN(102)</text>
<text transform="translate(2029.5 800.6)" font-family="'Liberation Serif','Noto Serif CJK SC',serif" font-size="61.5" text-anchor="start" fill="#000">CrN(311)</text>
<text transform="translate(1411.5 859) scale(0.997 1.0)" font-family="'Liberation Serif','Noto Serif CJK SC',serif" font-size="61.5" text-anchor="start" fill="#000">CrAlN/CrN-4.0</text>
<text transform="translate(1410.5 1159) scale(0.997 1.0)" font-family="'Liberation Serif','Noto Serif CJK SC',serif" font-size="61.5" text-anchor="start" fill="#000">CrAlN/CrN-3.0</text>
<text transform="translate(1405.5 1499) scale(0.997 1.0)" font-family="'Liberation Serif','Noto Serif CJK SC',serif" font-size="61.5" text-anchor="start" fill="#000">CrAlN/CrN-2.0</text>
<text transform="translate(1414.5 1913) scale(0.997 1.0)" font-family="'Liberation Serif','Noto Serif CJK SC',serif" font-size="61.5" text-anchor="start" fill="#000">CrAlN/CrN-1.0</text>
<text font-family="'Liberation Serif','Noto Serif CJK SC',serif" font-size="62" fill="#000" y="601"><tspan x="299.5" y="600.5" font-size="51.4">（</tspan><tspan x="358" y="601">Cr,Al</tspan><tspan x="502" y="600.5" font-size="51.4">）</tspan><tspan x="557" y="601">N(111)</tspan></text>
<text font-family="'Liberation Serif','Noto Serif CJK SC',serif" font-size="62" fill="#000" y="718"><tspan x="593.5" y="716.5" font-size="51.4">（</tspan><tspan x="653" y="717" font-size="61.5">Cr,Al)N(200)</tspan></text>
<text transform="translate(1726.5 156.6)" font-family="'Liberation Serif','Noto Serif CJK SC',serif" font-size="46" font-weight="bold" text-anchor="start" fill="#000">CrAlN/CrN-4.0</text>
<text transform="translate(1732.8 259.5)" font-family="'Liberation Serif','Noto Serif CJK SC',serif" font-size="46" font-weight="bold" text-anchor="start" fill="#000">CrAlN/CrN-3.0</text>
<text transform="translate(1737 376)" font-family="'Liberation Serif','Noto Serif CJK SC',serif" font-size="46" font-weight="bold" text-anchor="start" fill="#000">CrAlN/CrN-2.0</text>
<text transform="translate(1737 514.5)" font-family="'Liberation Serif','Noto Serif CJK SC',serif" font-size="46" font-weight="bold" text-anchor="start" fill="#000">CrAlN/CrN-1.0</text>
<text transform="translate(1295.0 698.5) scale(0.99 1.0)" font-family="'Liberation Serif','Noto Serif CJK SC',serif" font-size="61.5" font-weight="bold" text-anchor="middle" fill="#000">36</text>
<text transform="translate(1573.4 698.5) scale(0.99 1.0)" font-family="'Liberation Serif','Noto Serif CJK SC',serif" font-size="61.5" font-weight="bold" text-anchor="middle" fill="#000">37</text>
<text transform="translate(1851.8 698.5) scale(0.99 1.0)" font-family="'Liberation Serif','Noto Serif CJK SC',serif" font-size="61.5" font-weight="bold" text-anchor="middle" fill="#000">38</text>
<text font-family="'Liberation Serif','Noto Serif CJK SC',serif" font-size="48" text-anchor="middle" fill="#000"><tspan x="1592.6" y="737" font-size="50.5">2</tspan><tspan x="1630.8" y="732.3" font-size="43.8">θ</tspan><tspan x="1681.6" y="734.4" font-size="41">（</tspan><tspan x="1722" y="728.3" font-size="40">°</tspan><tspan x="1786.6" y="733.8" font-size="41">）</tspan></text>
<text transform="translate(1242 554) rotate(-90)" font-family="'Liberation Serif','Noto Serif CJK SC',serif" font-size="52" text-anchor="middle" fill="#000"><tspan x="12.8 38.5 64.2 90.0 115.6 141.3 167.0 192.8 218.4" y="0">Intensity</tspan><tspan x="255.7" y="-1.7" font-size="42.5">（</tspan><tspan x="295.6 318.2 346.9 368.0" y="0">a.u.</tspan><tspan x="415" y="-2.1" font-size="42.5">）</tspan></text>
</g>
</svg>
</body></html>
